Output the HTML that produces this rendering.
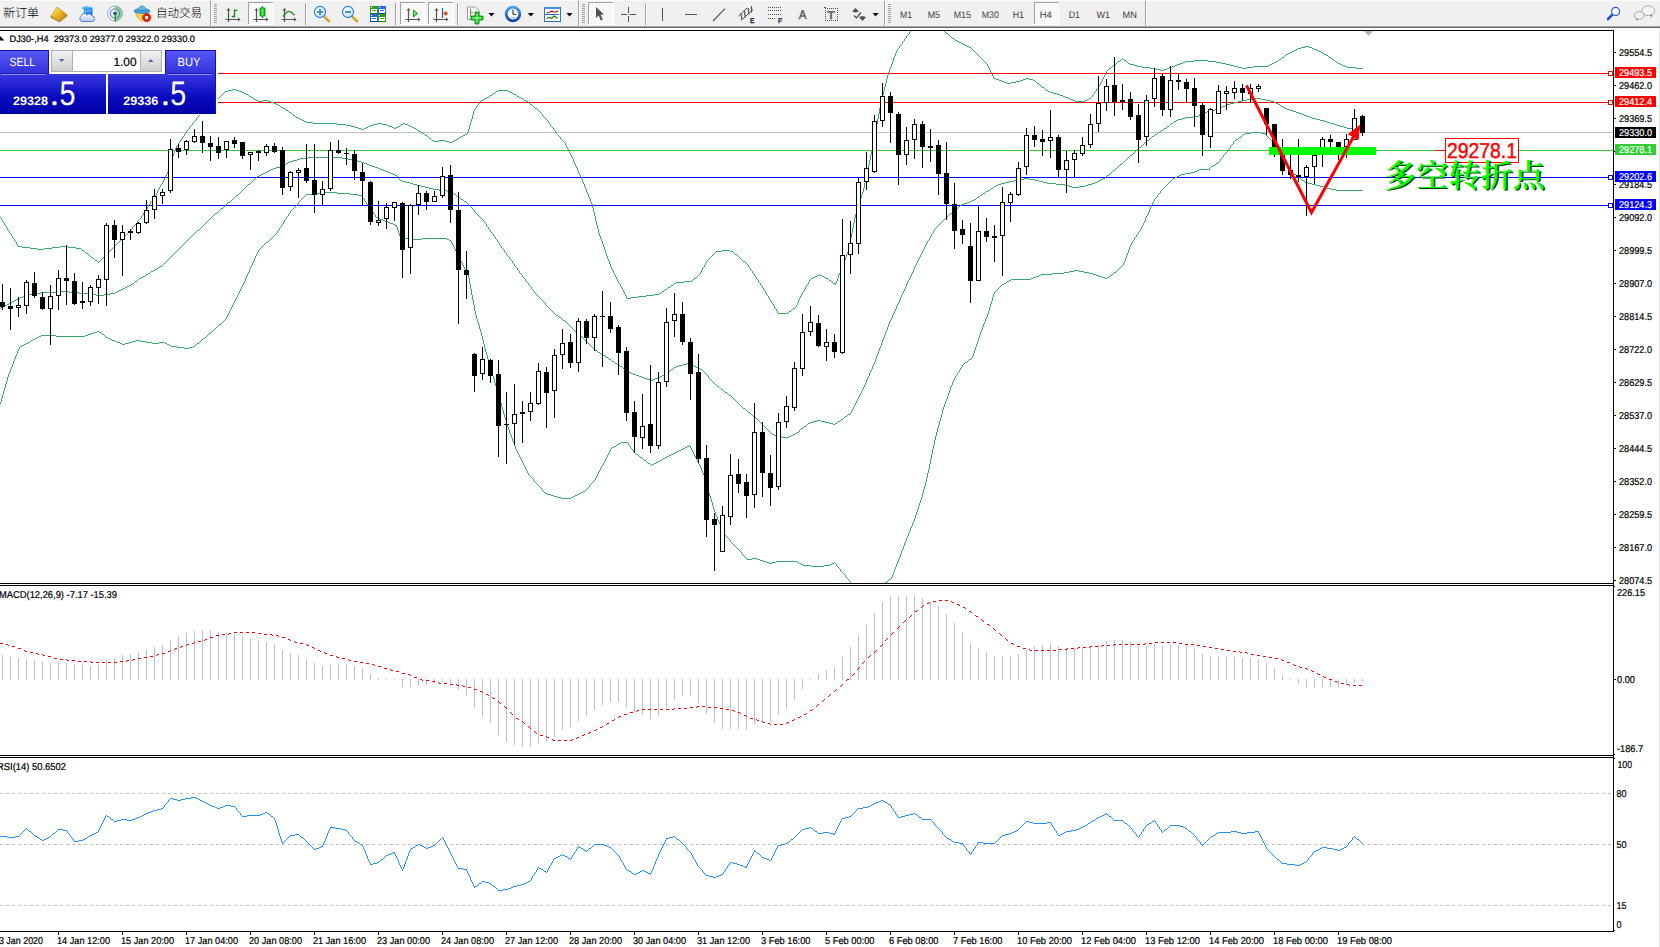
<!DOCTYPE html>
<html lang="zh"><head><meta charset="utf-8"><title>DJ30-,H4</title>
<style>html,body{margin:0;padding:0;background:#fff;overflow:hidden}svg{display:block}</style></head>
<body><svg width="1660" height="947" viewBox="0 0 1660 947" shape-rendering="crispEdges" font-family='"Liberation Sans", "Noto Sans CJK SC", sans-serif' text-rendering="geometricPrecision">
<rect x="0" y="0" width="1660" height="947" fill="#fff" />
<rect x="0" y="0" width="1660" height="26" fill="#f0f0f0" />
<rect x="0" y="0" width="1660" height="1" fill="#fbfbfb" />
<rect x="0" y="26" width="1660" height="1" fill="#a8a8a8" />
<rect x="0" y="27" width="1660" height="1" fill="#6a6a6a" />
<text x="3" y="16.8" font-size="12" fill="#000" font-weight="300" text-anchor="start" textLength="36" lengthAdjust="spacingAndGlyphs" font-family='"Liberation Sans", "Noto Sans CJK SC", sans-serif' >新订单</text>
<text x="156" y="16.8" font-size="12" fill="#000" font-weight="300" text-anchor="start" textLength="46" lengthAdjust="spacingAndGlyphs" font-family='"Liberation Sans", "Noto Sans CJK SC", sans-serif' >自动交易</text>
<g shape-rendering="auto">
<defs><linearGradient id="gold" x1="0" y1="0" x2="1" y2="1"><stop offset="0" stop-color="#fff0a0"/><stop offset="0.5" stop-color="#e8b820"/><stop offset="1" stop-color="#b07810"/></linearGradient><linearGradient id="bluebox" x1="0" y1="0" x2="0" y2="1"><stop offset="0" stop-color="#2f9bf0"/><stop offset="1" stop-color="#0868d0"/></linearGradient><linearGradient id="cloud" x1="0" y1="0" x2="0" y2="1"><stop offset="0" stop-color="#ffffff"/><stop offset="1" stop-color="#b8c8e8"/></linearGradient><radialGradient id="lens" cx="0.4" cy="0.35" r="0.7"><stop offset="0" stop-color="#ffffff"/><stop offset="1" stop-color="#b0e0f8"/></radialGradient><linearGradient id="clock" x1="0" y1="0" x2="0" y2="1"><stop offset="0" stop-color="#3aa0f0"/><stop offset="1" stop-color="#0840a8"/></linearGradient><linearGradient id="grn" x1="0" y1="0" x2="1" y2="0"><stop offset="0" stop-color="#00b000"/><stop offset="0.5" stop-color="#60f060"/><stop offset="1" stop-color="#00a000"/></linearGradient></defs>
<path d="M51 16 L59.5 20.5 L67 14.6 L67 16 L59.6 22 L51 17.4 Z" fill="#a87010" stroke="#8a5a08" stroke-width="0.5"/>
<path d="M57 7 L67 14.6 L59.5 20.5 L51 16 Z" fill="url(#gold)" stroke="#b88418" stroke-width="0.6"/>
<path d="M52.5 17.3 L59.6 21.2 L66 16" fill="none" stroke="#e8c868" stroke-width="0.5"/>
<path d="M81.3 8 L86.2 6.2 L92.5 7.6 L92.5 15.5 L83.8 15.5 L83.8 9 Z" fill="url(#bluebox)"/>
<path d="M81.3 8 L86.2 6.2 L92.5 7.6 L88 9 Z" fill="#58b8ff"/>
<path d="M85.2 9.6 L91.6 8.8 L91.6 14.5 L85.2 14.5 Z" fill="#1f86e8"/>
<path d="M86.5 11.3 L90.8 10.6 M85.2 9.6 L85.2 15" stroke="#c8e8ff" stroke-width="0.9" fill="none"/>
<path d="M82 21.5 A2.9 2.9 0 0 1 81.3 16.1 A3.2 3.2 0 0 1 87.2 14.9 A2.8 2.8 0 0 1 92 16 A2.8 2.8 0 0 1 92.6 21.5 Z" fill="url(#cloud)" stroke="#4878c8" stroke-width="0.9"/>
<circle cx="115" cy="13.5" r="7.5" fill="none" stroke="#90b0e8" stroke-width="1"/>
<path d="M115 6 A7.5 7.5 0 0 1 115 21 Z" fill="#70c070" opacity="0.75"/>
<circle cx="115" cy="13.5" r="4.6" fill="none" stroke="#5070d0" stroke-width="1"/>
<path d="M115 9 A4.6 4.6 0 0 1 115 18 Z" fill="#a8d8a8"/>
<circle cx="115" cy="13.5" r="1.8" fill="#1848c8"/>
<path d="M115.3 13.5 L115.3 21.5" stroke="#10a010" stroke-width="1.4"/>
<path d="M135 12 L149 12 L146 18 L141.5 21.5 L138 18 Z" fill="#f8d850" stroke="#c89820" stroke-width="0.7"/>
<ellipse cx="142" cy="11" rx="8" ry="2.6" fill="#48a0d8" stroke="#2878b0" stroke-width="0.6"/>
<path d="M138 10.5 Q138.5 6 142 6 Q145.5 6 146.5 10.5 Z" fill="#60b8e8" stroke="#2878b0" stroke-width="0.6"/>
<circle cx="146.7" cy="17.6" r="4.2" fill="#e02010" stroke="#b01008" stroke-width="0.5"/>
<rect x="145.2" y="16.1" width="3" height="3" fill="#fff"/>
</g>
<rect x="210" y="1" width="1" height="25" fill="#a0a0a0" />
<rect x="211" y="1" width="1" height="25" fill="#fff" />
<rect x="214" y="4" width="3" height="1" fill="#a0a0a0" />
<rect x="214" y="6" width="3" height="1" fill="#a0a0a0" />
<rect x="214" y="8" width="3" height="1" fill="#a0a0a0" />
<rect x="214" y="10" width="3" height="1" fill="#a0a0a0" />
<rect x="214" y="12" width="3" height="1" fill="#a0a0a0" />
<rect x="214" y="14" width="3" height="1" fill="#a0a0a0" />
<rect x="214" y="16" width="3" height="1" fill="#a0a0a0" />
<rect x="214" y="18" width="3" height="1" fill="#a0a0a0" />
<rect x="214" y="20" width="3" height="1" fill="#a0a0a0" />
<rect x="214" y="22" width="3" height="1" fill="#a0a0a0" />
<g shape-rendering="auto"><path d="M228.5 9 L228.5 22 M225.5 19.5 L239 19.5" stroke="#555555" stroke-width="1.2" fill="none"/><path d="M226.5 10.5 L228.5 8 L230.5 10.5 Z M238 17.5 L240.5 19.5 L238 21.5 Z" fill="#555555"/></g>
<path d="M234.5 9.5 L234.5 17.5 M234.5 10.3 L237.5 10.3 M231.8 16.5 L234.5 16.5" stroke="#109010" stroke-width="1.3" fill="none" shape-rendering="auto"/>
<rect x="248" y="2" width="26" height="23" fill="#f8f8f8" />
<rect x="248" y="2" width="26" height="1" fill="#a0a0a0" />
<rect x="248" y="2" width="1" height="23" fill="#a0a0a0" />
<rect x="248" y="24" width="26" height="1" fill="#fff" />
<rect x="273" y="2" width="1" height="23" fill="#fff" />
<g shape-rendering="auto"><path d="M256.5 9 L256.5 22 M253.5 19.5 L267 19.5" stroke="#555555" stroke-width="1.2" fill="none"/><path d="M254.5 10.5 L256.5 8 L258.5 10.5 Z M266 17.5 L268.5 19.5 L266 21.5 Z" fill="#555555"/></g>
<g shape-rendering="auto"><path d="M262.5 6 L262.5 18" stroke="#10a010" stroke-width="1.3"/><rect x="260" y="8" width="5" height="8" fill="url(#grn)" stroke="#089808" stroke-width="0.8"/></g>
<g shape-rendering="auto"><path d="M284.5 9 L284.5 22 M281.5 19.5 L295 19.5" stroke="#555555" stroke-width="1.2" fill="none"/><path d="M282.5 10.5 L284.5 8 L286.5 10.5 Z M294 17.5 L296.5 19.5 L294 21.5 Z" fill="#555555"/></g>
<path d="M283 16.5 Q287 11 289.5 11.3 Q291.5 11.8 294.5 15.2" stroke="#209020" stroke-width="1.3" fill="none" shape-rendering="auto"/>
<rect x="305" y="3" width="1" height="22" fill="#a0a0a0" />
<rect x="306" y="3" width="1" height="22" fill="#fff" />
<g shape-rendering="auto"><path d="M324 16 L329 21" stroke="#c89818" stroke-width="2.6" stroke-linecap="round"/><path d="M324.5 15.5 L329.5 20.5" stroke="#f0d860" stroke-width="1"/><circle cx="320" cy="12" r="5.6" fill="url(#lens)" stroke="#3a80d0" stroke-width="1.1"/><path d="M317 12 L323 12" stroke="#4088b8" stroke-width="1.8"/><path d="M320 9 L320 15" stroke="#4088b8" stroke-width="1.8"/></g>
<g shape-rendering="auto"><path d="M352 16 L357 21" stroke="#c89818" stroke-width="2.6" stroke-linecap="round"/><path d="M352.5 15.5 L357.5 20.5" stroke="#f0d860" stroke-width="1"/><circle cx="348" cy="12" r="5.6" fill="url(#lens)" stroke="#3a80d0" stroke-width="1.1"/><path d="M345 12 L351 12" stroke="#4088b8" stroke-width="1.8"/></g>
<rect x="370" y="6" width="8" height="8" fill="#30a018" />
<rect x="370" y="13" width="8" height="1" fill="#208808" />
<rect x="371" y="9" width="6" height="4" fill="#fff" />
<rect x="372" y="10" width="4" height="1" fill="#30a018" />
<rect x="371" y="7" width="1" height="1" fill="#fff" />
<rect x="378" y="6" width="8" height="8" fill="#2868e0" />
<rect x="378" y="13" width="8" height="1" fill="#1040b0" />
<rect x="379" y="9" width="6" height="4" fill="#fff" />
<rect x="380" y="10" width="4" height="1" fill="#2868e0" />
<rect x="379" y="7" width="1" height="1" fill="#fff" />
<rect x="370" y="14" width="8" height="8" fill="#2868e0" />
<rect x="370" y="21" width="8" height="1" fill="#1040b0" />
<rect x="371" y="17" width="6" height="4" fill="#fff" />
<rect x="372" y="18" width="4" height="1" fill="#2868e0" />
<rect x="371" y="15" width="1" height="1" fill="#fff" />
<rect x="378" y="14" width="8" height="8" fill="#30a018" />
<rect x="378" y="21" width="8" height="1" fill="#208808" />
<rect x="379" y="17" width="6" height="4" fill="#fff" />
<rect x="380" y="18" width="4" height="1" fill="#30a018" />
<rect x="379" y="15" width="1" height="1" fill="#fff" />
<rect x="395" y="3" width="1" height="22" fill="#a0a0a0" />
<rect x="396" y="3" width="1" height="22" fill="#fff" />
<rect x="400" y="2" width="26" height="23" fill="#f8f8f8" />
<rect x="400" y="2" width="26" height="1" fill="#a0a0a0" />
<rect x="400" y="2" width="1" height="23" fill="#a0a0a0" />
<rect x="400" y="24" width="26" height="1" fill="#fff" />
<rect x="425" y="2" width="1" height="23" fill="#fff" />
<g shape-rendering="auto"><path d="M408.5 9 L408.5 22 M405.5 19.5 L419 19.5" stroke="#555555" stroke-width="1.2" fill="none"/><path d="M406.5 10.5 L408.5 8 L410.5 10.5 Z M418 17.5 L420.5 19.5 L418 21.5 Z" fill="#555555"/></g>
<path d="M413.5 10 L417.5 13.5 L413.5 17 Z" fill="#70e070" stroke="#10a010" stroke-width="1" shape-rendering="auto"/>
<rect x="428" y="2" width="26" height="23" fill="#f8f8f8" />
<rect x="428" y="2" width="26" height="1" fill="#a0a0a0" />
<rect x="428" y="2" width="1" height="23" fill="#a0a0a0" />
<rect x="428" y="24" width="26" height="1" fill="#fff" />
<rect x="453" y="2" width="1" height="23" fill="#fff" />
<g shape-rendering="auto"><path d="M436.5 9 L436.5 22 M433.5 19.5 L447 19.5" stroke="#555555" stroke-width="1.2" fill="none"/><path d="M434.5 10.5 L436.5 8 L438.5 10.5 Z M446 17.5 L448.5 19.5 L446 21.5 Z" fill="#555555"/></g>
<g shape-rendering="auto"><path d="M442.5 8 L442.5 18" stroke="#1870b0" stroke-width="1.3"/><path d="M444 13.5 L448 13.5 M446.5 11.5 L444 13.5 L446.5 15.5" stroke="#e04800" stroke-width="1.2" fill="#e04800"/></g>
<rect x="457" y="3" width="1" height="22" fill="#a0a0a0" />
<rect x="458" y="3" width="1" height="22" fill="#fff" />
<g shape-rendering="auto"><path d="M467.5 7 L475.5 7 L479 10.5 L479 19.5 L467.5 19.5 Z" fill="#fafafa" stroke="#909090" stroke-width="0.9"/><path d="M470.5 9 L470.5 17 M470.5 12.5 L473 12.5" stroke="#806030" stroke-width="0.8" fill="none"/><path d="M475 12 L479 12 L479 16 L483 16 L483 20 L479 20 L479 24 L475 24 L475 20 L471 20 L471 16 L475 16 Z" fill="#18c018" stroke="#0a8a0a" stroke-width="0.8"/><path d="M477 13.5 L477 22.5 M472.5 18 L481.5 18" stroke="#90f090" stroke-width="1.4" fill="none"/></g>
<path d="M488.5 13 L494.5 13 L491.5 16.5 Z" fill="#000" shape-rendering="auto"/>
<g shape-rendering="auto"><circle cx="513" cy="14" r="6.8" fill="#fdfdfd" stroke="url(#clock)" stroke-width="2.8"/><circle cx="513" cy="14" r="5" fill="none" stroke="#c8d8e8" stroke-width="0.6" stroke-dasharray="0.8,1.8"/><path d="M513 9.5 L513 14 L516 14.8" stroke="#303030" stroke-width="1.1" fill="none"/><path d="M511 17.5 L515 17.5" stroke="#60a0f0" stroke-width="0.8"/></g>
<path d="M527.8 13 L533.8 13 L530.8 16.5 Z" fill="#000" shape-rendering="auto"/>
<rect x="544" y="7" width="16" height="14" fill="#fff" stroke="#3070c0" stroke-width="1"/>
<rect x="544" y="7" width="16" height="2" fill="#4890e0" />
<rect x="545" y="14" width="14" height="1" fill="#3070c0" />
<g shape-rendering="auto"><path d="M546.5 13 L549 12.5 L551.5 11.2 L554 12 L556 11.8 L558 11" stroke="#a02000" stroke-width="1.2" fill="none"/><path d="M546.5 18.5 L549 17.5 L551.5 18.3 L554.5 16 L557.5 18.5" stroke="#108020" stroke-width="1.2" fill="none"/></g>
<path d="M566.5 13 L572.5 13 L569.5 16.5 Z" fill="#000" shape-rendering="auto"/>
<rect x="578" y="1" width="1" height="25" fill="#a0a0a0" />
<rect x="579" y="1" width="1" height="25" fill="#fff" />
<rect x="582" y="4" width="3" height="1" fill="#a0a0a0" />
<rect x="582" y="6" width="3" height="1" fill="#a0a0a0" />
<rect x="582" y="8" width="3" height="1" fill="#a0a0a0" />
<rect x="582" y="10" width="3" height="1" fill="#a0a0a0" />
<rect x="582" y="12" width="3" height="1" fill="#a0a0a0" />
<rect x="582" y="14" width="3" height="1" fill="#a0a0a0" />
<rect x="582" y="16" width="3" height="1" fill="#a0a0a0" />
<rect x="582" y="18" width="3" height="1" fill="#a0a0a0" />
<rect x="582" y="20" width="3" height="1" fill="#a0a0a0" />
<rect x="582" y="22" width="3" height="1" fill="#a0a0a0" />
<rect x="588" y="2" width="26" height="23" fill="#f8f8f8" />
<rect x="588" y="2" width="26" height="1" fill="#a0a0a0" />
<rect x="588" y="2" width="1" height="23" fill="#a0a0a0" />
<rect x="588" y="24" width="26" height="1" fill="#fff" />
<rect x="613" y="2" width="1" height="23" fill="#fff" />
<path d="M596 7 L596 18 L598.7 15.6 L600.8 20.5 L602.8 19.6 L600.6 14.8 L604 14.6 Z" fill="#505050" shape-rendering="auto"/>
<rect x="628" y="7" width="1" height="6" fill="#505050" />
<rect x="628" y="16" width="1" height="6" fill="#505050" />
<rect x="621" y="14" width="6" height="1" fill="#505050" />
<rect x="630" y="14" width="6" height="1" fill="#505050" />
<rect x="628" y="14" width="1" height="1" fill="#909090" />
<rect x="645" y="3" width="1" height="22" fill="#a0a0a0" />
<rect x="646" y="3" width="1" height="22" fill="#fff" />
<rect x="662" y="8" width="1" height="13" fill="#505050" />
<rect x="685" y="14" width="12" height="1" fill="#505050" />
<path d="M713 21 L725 8.7" stroke="#505050" stroke-width="1.1" shape-rendering="auto"/>
<g shape-rendering="auto" stroke="#505050" fill="none"><path d="M738.5 16 L747 8 M741 20.5 L753 9.5" stroke-width="1"/><path d="M741 13.5 L741.8 19.5 M744.5 11 L745.3 17.5 M748 8 L749 14.5 M751.5 6 L751.5 12.5" stroke-width="1.2"/></g>
<text x="750" y="22.6" font-size="6.6" fill="#202020" font-weight="normal" text-anchor="start" textLength="4.3" lengthAdjust="spacingAndGlyphs" stroke="#202020" stroke-width="0.35">E</text>
<rect x="768" y="7" width="1" height="1" fill="#505050" />
<rect x="770" y="7" width="1" height="1" fill="#505050" />
<rect x="772" y="7" width="1" height="1" fill="#505050" />
<rect x="774" y="7" width="1" height="1" fill="#505050" />
<rect x="776" y="7" width="1" height="1" fill="#505050" />
<rect x="778" y="7" width="1" height="1" fill="#505050" />
<rect x="780" y="7" width="1" height="1" fill="#505050" />
<rect x="768" y="10" width="1" height="1" fill="#505050" />
<rect x="770" y="10" width="1" height="1" fill="#505050" />
<rect x="772" y="10" width="1" height="1" fill="#505050" />
<rect x="774" y="10" width="1" height="1" fill="#505050" />
<rect x="776" y="10" width="1" height="1" fill="#505050" />
<rect x="778" y="10" width="1" height="1" fill="#505050" />
<rect x="780" y="10" width="1" height="1" fill="#505050" />
<rect x="768" y="14" width="1" height="1" fill="#505050" />
<rect x="770" y="14" width="1" height="1" fill="#505050" />
<rect x="772" y="14" width="1" height="1" fill="#505050" />
<rect x="774" y="14" width="1" height="1" fill="#505050" />
<rect x="776" y="14" width="1" height="1" fill="#505050" />
<rect x="778" y="14" width="1" height="1" fill="#505050" />
<rect x="780" y="14" width="1" height="1" fill="#505050" />
<rect x="768" y="18" width="1" height="1" fill="#505050" />
<rect x="770" y="18" width="1" height="1" fill="#505050" />
<rect x="772" y="18" width="1" height="1" fill="#505050" />
<rect x="774" y="18" width="1" height="1" fill="#505050" />
<text x="778" y="22.6" font-size="6.6" fill="#202020" font-weight="normal" text-anchor="start" textLength="4.3" lengthAdjust="spacingAndGlyphs" stroke="#202020" stroke-width="0.35">F</text>
<text x="798.8" y="19" font-size="12.6" fill="#606060" font-weight="normal" text-anchor="start" textLength="7.8" lengthAdjust="spacingAndGlyphs" stroke="#606060" stroke-width="0.5">A</text>
<rect x="825" y="8" width="1" height="1" fill="#505050" />
<rect x="825" y="20" width="1" height="1" fill="#505050" />
<rect x="827" y="8" width="1" height="1" fill="#505050" />
<rect x="827" y="20" width="1" height="1" fill="#505050" />
<rect x="829" y="8" width="1" height="1" fill="#505050" />
<rect x="829" y="20" width="1" height="1" fill="#505050" />
<rect x="831" y="8" width="1" height="1" fill="#505050" />
<rect x="831" y="20" width="1" height="1" fill="#505050" />
<rect x="833" y="8" width="1" height="1" fill="#505050" />
<rect x="833" y="20" width="1" height="1" fill="#505050" />
<rect x="835" y="8" width="1" height="1" fill="#505050" />
<rect x="835" y="20" width="1" height="1" fill="#505050" />
<rect x="837" y="8" width="1" height="1" fill="#505050" />
<rect x="837" y="20" width="1" height="1" fill="#505050" />
<rect x="825" y="8" width="1" height="1" fill="#505050" />
<rect x="837" y="8" width="1" height="1" fill="#505050" />
<rect x="825" y="10" width="1" height="1" fill="#505050" />
<rect x="837" y="10" width="1" height="1" fill="#505050" />
<rect x="825" y="12" width="1" height="1" fill="#505050" />
<rect x="837" y="12" width="1" height="1" fill="#505050" />
<rect x="825" y="14" width="1" height="1" fill="#505050" />
<rect x="837" y="14" width="1" height="1" fill="#505050" />
<rect x="825" y="16" width="1" height="1" fill="#505050" />
<rect x="837" y="16" width="1" height="1" fill="#505050" />
<rect x="825" y="18" width="1" height="1" fill="#505050" />
<rect x="837" y="18" width="1" height="1" fill="#505050" />
<rect x="825" y="20" width="1" height="1" fill="#505050" />
<rect x="837" y="20" width="1" height="1" fill="#505050" />
<rect x="824" y="7" width="2" height="1" fill="#505050" />
<text x="827" y="19" font-size="11.2" fill="#606060" font-weight="normal" text-anchor="start" textLength="8" lengthAdjust="spacingAndGlyphs" stroke="#606060" stroke-width="0.5">T</text>
<g shape-rendering="auto" fill="#505050"><path d="M852 11.5 L855.5 8 L859 11.5 L855.5 12.5 Z"/><path d="M859 17 L862.5 21 L866 17 L862.5 16 Z"/><path d="M854 15.5 L856.5 17.8 L861 12.5" stroke="#505050" stroke-width="1.3" fill="none"/></g>
<path d="M872.6 13 L878.6 13 L875.6 16.5 Z" fill="#000" shape-rendering="auto"/>
<rect x="884" y="1" width="1" height="25" fill="#a0a0a0" />
<rect x="885" y="1" width="1" height="25" fill="#fff" />
<rect x="888" y="4" width="3" height="1" fill="#a0a0a0" />
<rect x="888" y="6" width="3" height="1" fill="#a0a0a0" />
<rect x="888" y="8" width="3" height="1" fill="#a0a0a0" />
<rect x="888" y="10" width="3" height="1" fill="#a0a0a0" />
<rect x="888" y="12" width="3" height="1" fill="#a0a0a0" />
<rect x="888" y="14" width="3" height="1" fill="#a0a0a0" />
<rect x="888" y="16" width="3" height="1" fill="#a0a0a0" />
<rect x="888" y="18" width="3" height="1" fill="#a0a0a0" />
<rect x="888" y="20" width="3" height="1" fill="#a0a0a0" />
<rect x="888" y="22" width="3" height="1" fill="#a0a0a0" />
<rect x="1034" y="2" width="26" height="23" fill="#f8f8f8" />
<rect x="1034" y="2" width="26" height="1" fill="#a0a0a0" />
<rect x="1034" y="2" width="1" height="23" fill="#a0a0a0" />
<rect x="1034" y="24" width="26" height="1" fill="#fff" />
<rect x="1059" y="2" width="1" height="23" fill="#fff" />
<text x="900" y="17.5" font-size="9.6" fill="#404040" font-weight="normal" text-anchor="start" textLength="12.2" lengthAdjust="spacingAndGlyphs" >M1</text>
<text x="927.7" y="17.5" font-size="9.6" fill="#404040" font-weight="normal" text-anchor="start" textLength="12.3" lengthAdjust="spacingAndGlyphs" >M5</text>
<text x="953.7" y="17.5" font-size="9.6" fill="#404040" font-weight="normal" text-anchor="start" textLength="17.3" lengthAdjust="spacingAndGlyphs" >M15</text>
<text x="981.7" y="17.5" font-size="9.6" fill="#404040" font-weight="normal" text-anchor="start" textLength="17.3" lengthAdjust="spacingAndGlyphs" >M30</text>
<text x="1012.7" y="17.5" font-size="9.6" fill="#404040" font-weight="normal" text-anchor="start" textLength="11.3" lengthAdjust="spacingAndGlyphs" >H1</text>
<text x="1039.7" y="17.5" font-size="9.6" fill="#404040" font-weight="normal" text-anchor="start" textLength="12.1" lengthAdjust="spacingAndGlyphs" >H4</text>
<text x="1068.7" y="17.5" font-size="9.6" fill="#404040" font-weight="normal" text-anchor="start" textLength="11.3" lengthAdjust="spacingAndGlyphs" >D1</text>
<text x="1096.5" y="17.5" font-size="9.6" fill="#404040" font-weight="normal" text-anchor="start" textLength="13.5" lengthAdjust="spacingAndGlyphs" >W1</text>
<text x="1122.6" y="17.5" font-size="9.6" fill="#404040" font-weight="normal" text-anchor="start" textLength="14.4" lengthAdjust="spacingAndGlyphs" >MN</text>
<rect x="1145" y="1" width="1" height="25" fill="#a0a0a0" />
<rect x="1146" y="1" width="1" height="25" fill="#fff" />
<g shape-rendering="auto"><path d="M1612.7 14.3 L1608 19" stroke="#2050d0" stroke-width="2.6" stroke-linecap="round"/><circle cx="1615.6" cy="11.4" r="4" fill="#fafafa" stroke="#2858e0" stroke-width="1.2"/></g>
<g shape-rendering="auto"><ellipse cx="1648.3" cy="10.8" rx="6.4" ry="4.8" fill="#f4f4f8" stroke="#a0a0a0" stroke-width="0.9"/><path d="M1650 15 L1651.5 17.8 L1652.5 14.6 Z" fill="#808080"/><ellipse cx="1639.2" cy="15.4" rx="5" ry="3.9" fill="#f0f0f6" stroke="#a0a0a0" stroke-width="0.9"/><path d="M1636 18.5 L1636.3 21 L1638.6 19 Z" fill="#909090"/></g>
<rect x="218" y="73" width="1395" height="1" fill="#ff0000" />
<rect x="218" y="102" width="1395" height="1" fill="#ff0000" />
<rect x="0" y="132" width="1613" height="1" fill="#c0c0c0" />
<rect x="0" y="150" width="1613" height="1" fill="#32cd32" />
<rect x="0" y="177" width="1613" height="1" fill="#0000ff" />
<rect x="0" y="205" width="1613" height="1" fill="#0000ff" />
<defs><clipPath id="cmain"><rect x="0" y="31" width="1613" height="552"/></clipPath><clipPath id="cmacd"><rect x="0" y="586" width="1613" height="169"/></clipPath><clipPath id="crsi"><rect x="0" y="758" width="1613" height="173"/></clipPath></defs>
<path d="M232 89h4v1h-4zM228 90h4v1h-4zM236 90h3v1h-3zM498 90h10v1h-10zM225 91h3v1h-3zM239 91h3v1h-3zM496 91h2v1h-2zM508 91h2v1h-2zM242 92h2v1h-2zM510 92h2v1h-2zM244 93h2v1h-2zM493 93h2v1h-2zM512 93h2v1h-2zM246 94h2v1h-2zM514 94h2v1h-2zM490 95h2v1h-2zM249 96h2v1h-2zM517 96h2v1h-2zM251 97h2v1h-2zM487 97h2v1h-2zM519 97h2v1h-2zM485 98h2v1h-2zM521 98h2v1h-2zM216 99h2v1h-2zM254 99h2v1h-2zM483 99h2v1h-2zM214 100h2v1h-2zM256 100h2v1h-2zM263 100h5v1h-5zM481 100h2v1h-2zM524 100h2v1h-2zM212 101h2v1h-2zM258 101h5v1h-5zM268 101h3v1h-3zM526 101h2v1h-2zM271 102h3v1h-3zM274 103h2v1h-2zM276 104h2v1h-2zM530 104h2v1h-2zM278 105h2v1h-2zM281 107h2v1h-2zM283 108h2v1h-2zM535 108h2v1h-2zM286 110h2v1h-2zM289 112h2v1h-2zM293 115h2v1h-2zM296 117h2v1h-2zM298 118h2v1h-2zM300 119h2v1h-2zM302 120h2v1h-2zM304 121h2v1h-2zM306 122h7v1h-7zM313 123h24v1h-24zM377 123h5v1h-5zM403 123h2v1h-2zM337 124h9v1h-9zM373 124h4v1h-4zM382 124h5v1h-5zM401 124h2v1h-2zM405 124h3v1h-3zM346 125h5v1h-5zM370 125h3v1h-3zM387 125h2v1h-2zM408 125h2v1h-2zM351 126h4v1h-4zM368 126h2v1h-2zM389 126h3v1h-3zM398 126h2v1h-2zM410 126h2v1h-2zM355 127h3v1h-3zM366 127h2v1h-2zM392 127h2v1h-2zM396 127h2v1h-2zM412 127h2v1h-2zM358 128h3v1h-3zM364 128h2v1h-2zM394 128h2v1h-2zM414 128h2v1h-2zM361 129h3v1h-3zM417 130h2v1h-2zM419 131h2v1h-2zM422 133h2v1h-2zM465 134h2v1h-2zM425 135h2v1h-2zM463 135h2v1h-2zM461 136h2v1h-2zM459 137h2v1h-2zM429 138h2v1h-2zM456 139h2v1h-2zM432 140h2v1h-2zM439 140h6v1h-6zM454 140h2v1h-2zM434 141h5v1h-5zM445 141h4v1h-4zM452 141h2v1h-2zM449 142h3v1h-3zM18 246h4v1h-4zM60 246h8v1h-8zM22 247h8v1h-8zM52 247h8v1h-8zM68 247h8v1h-8zM30 248h7v1h-7zM44 248h8v1h-8zM76 248h5v1h-5zM37 249h7v1h-7zM82 250h2v1h-2zM722 250h8v1h-8zM716 251h6v1h-6zM730 251h3v1h-3zM86 253h2v1h-2zM735 254h2v1h-2zM91 257h2v1h-2zM95 260h2v1h-2zM743 261h2v1h-2zM817 275h2v1h-2zM820 275h2v1h-2zM815 276h2v1h-2zM822 276h2v1h-2zM813 277h2v1h-2zM824 277h2v1h-2zM694 278h2v1h-2zM811 278h2v1h-2zM826 278h2v1h-2zM829 280h2v1h-2zM684 281h8v1h-8zM676 282h8v1h-8zM674 283h2v1h-2zM833 283h3v1h-3zM671 285h2v1h-2zM668 287h2v1h-2zM665 289h2v1h-2zM662 291h2v1h-2zM659 293h2v1h-2zM654 294h5v1h-5zM646 295h8v1h-8zM638 296h8v1h-8zM631 297h7v1h-7zM627 298h4v1h-4zM793 308h2v1h-2zM789 311h2v1h-2zM778 313h10v1h-10zM0 217h1v1h-1zM1 218h1v2h-1zM2 220h1v2h-1zM3 222h1v1h-1zM4 223h1v2h-1zM5 225h1v1h-1zM6 226h1v2h-1zM7 228h1v2h-1zM8 230h1v1h-1zM9 231h1v2h-1zM10 233h1v1h-1zM11 234h1v2h-1zM12 236h1v2h-1zM13 238h1v1h-1zM14 239h1v2h-1zM15 241h1v1h-1zM16 242h1v2h-1zM17 244h1v2h-1zM81 249h1v1h-1zM84 251h1v1h-1zM85 252h1v1h-1zM88 254h1v1h-1zM89 255h1v1h-1zM90 256h1v1h-1zM93 258h1v1h-1zM94 259h1v1h-1zM97 261h1v1h-1zM98 262h1v1h-1zM99 261h1v1h-1zM100 260h1v1h-1zM101 259h1v1h-1zM102 258h1v1h-1zM103 257h1v1h-1zM104 256h1v1h-1zM105 255h1v1h-1zM106 254h1v1h-1zM107 253h1v1h-1zM108 252h1v1h-1zM109 251h1v1h-1zM110 250h1v1h-1zM111 249h1v1h-1zM112 248h1v1h-1zM113 247h1v1h-1zM114 246h1v1h-1zM115 245h1v1h-1zM116 244h1v1h-1zM117 243h1v1h-1zM118 242h1v1h-1zM119 241h1v1h-1zM120 240h1v1h-1zM121 239h1v1h-1zM122 238h1v1h-1zM123 237h1v1h-1zM124 236h1v1h-1zM125 235h1v1h-1zM126 234h1v1h-1zM127 233h1v1h-1zM128 232h1v1h-1zM129 231h1v1h-1zM130 230h1v1h-1zM131 229h1v1h-1zM132 227h1v2h-1zM133 226h1v1h-1zM134 225h1v1h-1zM135 224h1v1h-1zM136 223h1v1h-1zM137 221h1v2h-1zM138 220h1v1h-1zM139 219h1v1h-1zM140 218h1v1h-1zM141 216h1v2h-1zM142 215h1v1h-1zM143 213h1v2h-1zM144 212h1v1h-1zM145 210h1v2h-1zM146 209h1v1h-1zM147 207h1v2h-1zM148 205h1v2h-1zM149 204h1v1h-1zM150 202h1v2h-1zM151 201h1v1h-1zM152 199h1v2h-1zM153 198h1v1h-1zM154 196h1v2h-1zM155 195h1v1h-1zM156 193h1v2h-1zM157 191h1v2h-1zM158 189h1v2h-1zM159 187h1v2h-1zM160 185h1v2h-1zM161 184h1v1h-1zM162 182h1v2h-1zM163 180h1v2h-1zM164 178h1v2h-1zM165 176h1v2h-1zM166 174h1v2h-1zM167 172h1v2h-1zM168 169h1v3h-1zM169 166h1v3h-1zM170 163h1v3h-1zM171 159h1v4h-1zM172 156h1v3h-1zM173 153h1v3h-1zM174 150h1v3h-1zM175 148h1v2h-1zM176 146h1v2h-1zM177 145h1v1h-1zM178 143h1v2h-1zM179 142h1v1h-1zM180 140h1v2h-1zM181 139h1v1h-1zM182 137h1v2h-1zM183 136h1v1h-1zM184 134h1v2h-1zM185 133h1v1h-1zM186 131h1v2h-1zM187 130h1v1h-1zM188 129h1v1h-1zM189 127h1v2h-1zM190 126h1v1h-1zM191 125h1v1h-1zM192 123h1v2h-1zM193 122h1v1h-1zM194 121h1v1h-1zM195 120h1v1h-1zM196 118h1v2h-1zM197 117h1v1h-1zM198 116h1v1h-1zM199 115h1v1h-1zM200 114h1v1h-1zM201 112h1v2h-1zM202 111h1v1h-1zM203 110h1v1h-1zM204 109h1v1h-1zM205 108h1v1h-1zM206 107h1v1h-1zM207 106h1v1h-1zM208 105h1v1h-1zM209 104h1v1h-1zM210 103h1v1h-1zM211 102h1v1h-1zM218 98h1v1h-1zM219 97h1v1h-1zM220 96h1v1h-1zM221 95h1v1h-1zM222 94h1v1h-1zM223 93h1v1h-1zM224 92h1v1h-1zM248 95h1v1h-1zM253 98h1v1h-1zM280 106h1v1h-1zM285 109h1v1h-1zM288 111h1v1h-1zM291 113h1v1h-1zM292 114h1v1h-1zM295 116h1v1h-1zM400 125h1v1h-1zM416 129h1v1h-1zM421 132h1v1h-1zM424 134h1v1h-1zM427 136h1v1h-1zM428 137h1v1h-1zM431 139h1v1h-1zM458 138h1v1h-1zM467 132h1v2h-1zM468 129h1v3h-1zM469 125h1v4h-1zM470 122h1v3h-1zM471 119h1v3h-1zM472 115h1v4h-1zM473 111h1v4h-1zM474 109h1v2h-1zM475 108h1v1h-1zM476 106h1v2h-1zM477 105h1v1h-1zM478 104h1v1h-1zM479 102h1v2h-1zM480 101h1v1h-1zM489 96h1v1h-1zM492 94h1v1h-1zM495 92h1v1h-1zM516 95h1v1h-1zM523 99h1v1h-1zM528 102h1v1h-1zM529 103h1v1h-1zM532 105h1v1h-1zM533 106h1v1h-1zM534 107h1v1h-1zM537 109h1v1h-1zM538 110h1v1h-1zM539 111h1v1h-1zM540 112h1v1h-1zM541 113h1v1h-1zM542 114h1v2h-1zM543 116h1v1h-1zM544 117h1v1h-1zM545 118h1v1h-1zM546 119h1v1h-1zM547 120h1v1h-1zM548 121h1v2h-1zM549 123h1v1h-1zM550 124h1v2h-1zM551 126h1v1h-1zM552 127h1v1h-1zM553 128h1v2h-1zM554 130h1v1h-1zM555 131h1v2h-1zM556 133h1v1h-1zM557 134h1v1h-1zM558 135h1v1h-1zM559 136h1v1h-1zM560 137h1v2h-1zM561 139h1v1h-1zM562 140h1v1h-1zM563 141h1v1h-1zM564 142h1v1h-1zM565 143h1v2h-1zM566 145h1v2h-1zM567 147h1v2h-1zM568 149h1v2h-1zM569 151h1v2h-1zM570 153h1v2h-1zM571 155h1v2h-1zM572 157h1v2h-1zM573 159h1v3h-1zM574 162h1v2h-1zM575 164h1v2h-1zM576 166h1v2h-1zM577 168h1v3h-1zM578 171h1v2h-1zM579 173h1v2h-1zM580 175h1v2h-1zM581 177h1v2h-1zM582 179h1v3h-1zM583 182h1v2h-1zM584 184h1v3h-1zM585 187h1v2h-1zM586 189h1v3h-1zM587 192h1v2h-1zM588 194h1v3h-1zM589 197h1v2h-1zM590 199h1v3h-1zM591 202h1v2h-1zM592 204h1v4h-1zM593 208h1v4h-1zM594 212h1v4h-1zM595 216h1v5h-1zM596 221h1v4h-1zM597 225h1v4h-1zM598 229h1v4h-1zM599 233h1v3h-1zM600 236h1v3h-1zM601 239h1v2h-1zM602 241h1v3h-1zM603 244h1v3h-1zM604 247h1v3h-1zM605 250h1v3h-1zM606 253h1v3h-1zM607 256h1v3h-1zM608 259h1v2h-1zM609 261h1v3h-1zM610 264h1v3h-1zM611 267h1v2h-1zM612 269h1v2h-1zM613 271h1v2h-1zM614 273h1v2h-1zM615 275h1v2h-1zM616 277h1v2h-1zM617 279h1v2h-1zM618 281h1v2h-1zM619 283h1v1h-1zM620 284h1v2h-1zM621 286h1v2h-1zM622 288h1v2h-1zM623 290h1v2h-1zM624 292h1v2h-1zM625 294h1v2h-1zM626 296h1v2h-1zM661 292h1v1h-1zM664 290h1v1h-1zM667 288h1v1h-1zM670 286h1v1h-1zM673 284h1v1h-1zM692 280h1v1h-1zM693 279h1v1h-1zM696 277h1v1h-1zM697 276h1v1h-1zM698 275h1v1h-1zM699 274h1v1h-1zM700 272h1v2h-1zM701 270h1v2h-1zM702 268h1v2h-1zM703 267h1v1h-1zM704 265h1v2h-1zM705 263h1v2h-1zM706 261h1v2h-1zM707 260h1v1h-1zM708 259h1v1h-1zM709 258h1v1h-1zM710 257h1v1h-1zM711 256h1v1h-1zM712 255h1v1h-1zM713 254h1v1h-1zM714 253h1v1h-1zM715 252h1v1h-1zM733 252h1v1h-1zM734 253h1v1h-1zM737 255h1v1h-1zM738 256h1v1h-1zM739 257h1v1h-1zM740 258h1v1h-1zM741 259h1v1h-1zM742 260h1v1h-1zM745 262h1v1h-1zM746 263h1v1h-1zM747 264h1v1h-1zM748 265h1v2h-1zM749 267h1v1h-1zM750 268h1v2h-1zM751 270h1v1h-1zM752 271h1v2h-1zM753 273h1v1h-1zM754 274h1v2h-1zM755 276h1v1h-1zM756 277h1v2h-1zM757 279h1v1h-1zM758 280h1v2h-1zM759 282h1v1h-1zM760 283h1v2h-1zM761 285h1v1h-1zM762 286h1v2h-1zM763 288h1v2h-1zM764 290h1v1h-1zM765 291h1v2h-1zM766 293h1v2h-1zM767 295h1v1h-1zM768 296h1v2h-1zM769 298h1v2h-1zM770 300h1v1h-1zM771 301h1v2h-1zM772 303h1v1h-1zM773 304h1v2h-1zM774 306h1v2h-1zM775 308h1v1h-1zM776 309h1v2h-1zM777 311h1v2h-1zM788 312h1v1h-1zM791 310h1v1h-1zM792 309h1v1h-1zM795 307h1v1h-1zM796 305h1v2h-1zM797 303h1v2h-1zM798 300h1v3h-1zM799 298h1v2h-1zM800 296h1v2h-1zM801 294h1v2h-1zM802 292h1v2h-1zM803 291h1v1h-1zM804 289h1v2h-1zM805 287h1v2h-1zM806 285h1v2h-1zM807 284h1v1h-1zM808 282h1v2h-1zM809 280h1v2h-1zM810 279h1v1h-1zM819 274h1v1h-1zM828 279h1v1h-1zM831 281h1v1h-1zM832 282h1v1h-1zM835 284h1v1h-1zM836 281h1v2h-1zM837 278h1v3h-1zM838 275h1v3h-1zM839 273h1v2h-1zM840 270h1v3h-1zM841 268h1v2h-1zM842 265h1v3h-1zM843 262h1v3h-1zM844 260h1v2h-1zM845 257h1v3h-1zM846 254h1v3h-1zM847 252h1v2h-1zM848 248h1v4h-1zM849 243h1v5h-1zM850 238h1v5h-1zM851 233h1v5h-1zM852 228h1v5h-1zM853 223h1v5h-1zM854 218h1v5h-1zM855 214h1v4h-1zM856 211h1v3h-1zM857 208h1v3h-1zM858 205h1v3h-1zM859 201h1v4h-1zM860 198h1v3h-1zM861 195h1v3h-1zM862 192h1v3h-1zM863 188h1v4h-1zM864 183h1v5h-1zM865 179h1v4h-1zM866 174h1v5h-1zM867 169h1v5h-1zM868 165h1v4h-1zM869 160h1v5h-1zM870 155h1v5h-1zM871 151h1v4h-1zM872 146h1v5h-1zM873 141h1v5h-1zM874 135h1v6h-1zM875 130h1v5h-1zM876 124h1v6h-1zM877 119h1v5h-1zM878 114h1v5h-1zM879 108h1v6h-1zM880 103h1v5h-1zM881 99h1v4h-1zM882 95h1v4h-1zM883 91h1v4h-1zM884 87h1v4h-1zM885 83h1v4h-1zM886 79h1v4h-1zM887 75h1v4h-1zM888 72h1v3h-1zM889 69h1v3h-1zM890 67h1v2h-1zM891 64h1v3h-1zM892 61h1v3h-1zM893 58h1v3h-1zM894 56h1v2h-1zM895 53h1v3h-1zM896 51h1v2h-1zM897 49h1v2h-1zM898 48h1v1h-1zM899 46h1v2h-1zM900 45h1v1h-1zM901 44h1v1h-1zM902 42h1v2h-1zM903 41h1v1h-1zM904 39h1v2h-1zM905 38h1v1h-1zM906 36h1v2h-1zM907 35h1v1h-1zM908 34h1v1h-1zM909 32h1v2h-1zM910 31h1v1h-1z" fill="#38a869"/>
<path d="M946 33h2v1h-2zM952 38h2v1h-2zM955 40h2v1h-2zM957 41h2v1h-2zM959 42h2v1h-2zM961 43h2v1h-2zM963 44h2v1h-2zM965 45h2v1h-2zM967 46h2v1h-2zM1305 46h4v1h-4zM969 47h2v1h-2zM1301 47h4v1h-4zM1309 47h3v1h-3zM1298 48h3v1h-3zM1312 48h2v1h-2zM1296 49h2v1h-2zM1314 49h3v1h-3zM1294 50h2v1h-2zM1317 50h2v1h-2zM1292 51h2v1h-2zM1319 51h2v1h-2zM1290 52h2v1h-2zM1321 52h2v1h-2zM1288 53h2v1h-2zM1286 54h2v1h-2zM1324 54h2v1h-2zM1326 55h2v1h-2zM1282 57h2v1h-2zM1329 57h2v1h-2zM1279 59h2v1h-2zM1332 59h2v1h-2zM1124 60h2v1h-2zM1194 60h14v1h-14zM1118 61h2v1h-2zM1185 61h9v1h-9zM1208 61h8v1h-8zM1276 61h2v1h-2zM1183 62h2v1h-2zM1216 62h5v1h-5zM1274 62h2v1h-2zM1336 62h2v1h-2zM1128 63h2v1h-2zM1180 63h3v1h-3zM1221 63h5v1h-5zM1272 63h2v1h-2zM1338 63h2v1h-2zM1130 64h4v1h-4zM1177 64h3v1h-3zM1226 64h4v1h-4zM1270 64h2v1h-2zM1340 64h2v1h-2zM1113 65h2v1h-2zM1134 65h3v1h-3zM1175 65h2v1h-2zM1230 65h4v1h-4zM1268 65h2v1h-2zM1342 65h3v1h-3zM1137 66h5v1h-5zM1172 66h3v1h-3zM1234 66h4v1h-4zM1253 66h15v1h-15zM1345 66h2v1h-2zM1142 67h8v1h-8zM1169 67h3v1h-3zM1238 67h4v1h-4zM1247 67h6v1h-6zM1347 67h9v1h-9zM1109 68h2v1h-2zM1150 68h6v1h-6zM1167 68h2v1h-2zM1242 68h5v1h-5zM1356 68h7v1h-7zM1156 69h4v1h-4zM1164 69h3v1h-3zM1160 70h4v1h-4zM994 78h2v1h-2zM1026 78h3v1h-3zM996 79h3v1h-3zM1023 79h3v1h-3zM1029 79h4v1h-4zM999 80h3v1h-3zM1020 80h3v1h-3zM1033 80h2v1h-2zM1002 81h2v1h-2zM1016 81h4v1h-4zM1004 82h3v1h-3zM1011 82h5v1h-5zM1007 83h4v1h-4zM1037 83h2v1h-2zM1042 87h2v1h-2zM1046 90h2v1h-2zM1048 91h2v1h-2zM1050 92h3v1h-3zM1053 93h4v1h-4zM1057 94h3v1h-3zM1060 95h3v1h-3zM1063 96h2v1h-2zM1065 97h3v1h-3zM1068 98h2v1h-2zM1089 98h2v1h-2zM1070 99h3v1h-3zM1087 99h2v1h-2zM1073 100h2v1h-2zM1085 100h2v1h-2zM1075 101h10v1h-10zM944 31h1v1h-1zM945 32h1v1h-1zM948 34h1v1h-1zM949 35h1v1h-1zM950 36h1v1h-1zM951 37h1v1h-1zM954 39h1v1h-1zM971 48h1v1h-1zM972 49h1v1h-1zM973 50h1v1h-1zM974 51h1v1h-1zM975 52h1v1h-1zM976 53h1v1h-1zM977 54h1v1h-1zM978 55h1v1h-1zM979 56h1v1h-1zM980 57h1v1h-1zM981 58h1v1h-1zM982 59h1v1h-1zM983 60h1v1h-1zM984 61h1v1h-1zM985 62h1v1h-1zM986 63h1v1h-1zM987 64h1v2h-1zM988 66h1v2h-1zM989 68h1v2h-1zM990 70h1v2h-1zM991 72h1v2h-1zM992 74h1v2h-1zM993 76h1v2h-1zM1035 81h1v1h-1zM1036 82h1v1h-1zM1039 84h1v1h-1zM1040 85h1v1h-1zM1041 86h1v1h-1zM1044 88h1v1h-1zM1045 89h1v1h-1zM1091 97h1v1h-1zM1092 95h1v2h-1zM1093 94h1v1h-1zM1094 92h1v2h-1zM1095 91h1v1h-1zM1096 89h1v2h-1zM1097 88h1v1h-1zM1098 86h1v2h-1zM1099 85h1v1h-1zM1100 83h1v2h-1zM1101 81h1v2h-1zM1102 79h1v2h-1zM1103 77h1v2h-1zM1104 75h1v2h-1zM1105 73h1v2h-1zM1106 71h1v2h-1zM1107 70h1v1h-1zM1108 69h1v1h-1zM1111 67h1v1h-1zM1112 66h1v1h-1zM1115 64h1v1h-1zM1116 63h1v1h-1zM1117 62h1v1h-1zM1120 60h1v1h-1zM1121 59h1v1h-1zM1122 58h1v1h-1zM1123 59h1v1h-1zM1126 61h1v1h-1zM1127 62h1v1h-1zM1278 60h1v1h-1zM1281 58h1v1h-1zM1284 56h1v1h-1zM1285 55h1v1h-1zM1323 53h1v1h-1zM1328 56h1v1h-1zM1331 58h1v1h-1zM1334 60h1v1h-1zM1335 61h1v1h-1z" fill="#38a869"/>
<path d="M1255 98h6v1h-6zM1247 99h8v1h-8zM1261 99h5v1h-5zM1242 100h5v1h-5zM1266 100h5v1h-5zM1238 101h4v1h-4zM1271 101h3v1h-3zM1234 102h4v1h-4zM1274 102h2v1h-2zM1230 103h4v1h-4zM1276 103h2v1h-2zM1227 104h3v1h-3zM1278 104h2v1h-2zM1225 105h2v1h-2zM1222 106h3v1h-3zM1281 106h2v1h-2zM1220 107h2v1h-2zM1283 107h2v1h-2zM1217 108h3v1h-3zM1285 108h2v1h-2zM1215 109h2v1h-2zM1287 109h3v1h-3zM1211 110h4v1h-4zM1290 110h3v1h-3zM1207 111h4v1h-4zM1293 111h3v1h-3zM1203 112h4v1h-4zM1296 112h3v1h-3zM1200 113h3v1h-3zM1299 113h3v1h-3zM1302 114h2v1h-2zM1304 115h3v1h-3zM1193 116h6v1h-6zM1307 116h3v1h-3zM1185 117h8v1h-8zM1310 117h2v1h-2zM1182 118h3v1h-3zM1312 118h4v1h-4zM1178 119h4v1h-4zM1316 119h4v1h-4zM1176 120h2v1h-2zM1320 120h4v1h-4zM1174 121h2v1h-2zM1324 121h3v1h-3zM1327 122h3v1h-3zM1171 123h2v1h-2zM1330 123h4v1h-4zM1334 124h3v1h-3zM1337 125h3v1h-3zM1167 126h2v1h-2zM1340 126h4v1h-4zM1344 127h3v1h-3zM1164 128h2v1h-2zM1347 128h9v1h-9zM1356 129h7v1h-7zM1161 130h2v1h-2zM1158 132h2v1h-2zM1155 134h2v1h-2zM1152 136h2v1h-2zM1147 140h2v1h-2zM1139 147h2v1h-2zM1130 155h2v1h-2zM308 157h34v1h-34zM300 158h8v1h-8zM342 158h6v1h-6zM297 159h3v1h-3zM348 159h6v1h-6zM293 160h4v1h-4zM354 160h4v1h-4zM290 161h3v1h-3zM358 161h3v1h-3zM288 162h2v1h-2zM361 162h3v1h-3zM286 163h2v1h-2zM364 163h3v1h-3zM367 164h2v1h-2zM1120 164h2v1h-2zM283 165h2v1h-2zM369 165h3v1h-3zM280 166h3v1h-3zM372 166h3v1h-3zM276 167h4v1h-4zM375 167h3v1h-3zM273 168h3v1h-3zM378 168h2v1h-2zM271 169h2v1h-2zM380 169h3v1h-3zM269 170h2v1h-2zM383 170h2v1h-2zM1113 170h2v1h-2zM267 171h2v1h-2zM385 171h3v1h-3zM265 172h2v1h-2zM388 172h2v1h-2zM263 173h2v1h-2zM390 173h3v1h-3zM261 174h2v1h-2zM393 174h2v1h-2zM259 175h2v1h-2zM395 175h2v1h-2zM1107 175h2v1h-2zM257 176h2v1h-2zM1024 178h5v1h-5zM1103 178h2v1h-2zM1019 179h5v1h-5zM1029 179h6v1h-6zM1101 179h2v1h-2zM400 180h2v1h-2zM1014 180h5v1h-5zM1035 180h4v1h-4zM1099 180h2v1h-2zM402 181h4v1h-4zM1009 181h5v1h-5zM1039 181h4v1h-4zM1097 181h2v1h-2zM406 182h4v1h-4zM1005 182h4v1h-4zM1043 182h4v1h-4zM1095 182h2v1h-2zM410 183h3v1h-3zM1001 183h4v1h-4zM1047 183h9v1h-9zM1092 183h3v1h-3zM248 184h2v1h-2zM413 184h4v1h-4zM998 184h3v1h-3zM1056 184h9v1h-9zM1088 184h4v1h-4zM417 185h4v1h-4zM996 185h2v1h-2zM1065 185h4v1h-4zM1085 185h3v1h-3zM421 186h4v1h-4zM994 186h2v1h-2zM1069 186h3v1h-3zM1079 186h6v1h-6zM425 187h4v1h-4zM1072 187h7v1h-7zM429 188h4v1h-4zM991 188h2v1h-2zM433 189h6v1h-6zM439 190h8v1h-8zM988 190h2v1h-2zM447 191h4v1h-4zM986 191h2v1h-2zM451 192h2v1h-2zM983 193h2v1h-2zM454 194h2v1h-2zM236 195h2v1h-2zM980 195h2v1h-2zM457 196h2v1h-2zM977 197h2v1h-2zM461 199h2v1h-2zM974 199h2v1h-2zM972 200h2v1h-2zM464 201h2v1h-2zM970 201h2v1h-2zM228 202h2v1h-2zM967 202h3v1h-3zM964 203h3v1h-3zM962 204h2v1h-2zM960 205h2v1h-2zM221 208h2v1h-2zM956 208h2v1h-2zM215 213h2v1h-2zM950 213h2v1h-2zM197 230h2v1h-2zM160 266h2v1h-2zM158 267h2v1h-2zM155 269h2v1h-2zM153 270h2v1h-2zM151 271h2v1h-2zM148 273h2v1h-2zM146 274h2v1h-2zM143 276h2v1h-2zM141 277h2v1h-2zM139 278h2v1h-2zM135 281h2v1h-2zM131 284h2v1h-2zM129 285h2v1h-2zM127 286h2v1h-2zM125 287h2v1h-2zM123 288h2v1h-2zM121 289h2v1h-2zM119 290h2v1h-2zM56 291h13v1h-13zM117 291h2v1h-2zM41 292h15v1h-15zM69 292h10v1h-10zM115 292h2v1h-2zM32 293h9v1h-9zM79 293h9v1h-9zM110 293h5v1h-5zM29 294h3v1h-3zM88 294h8v1h-8zM104 294h6v1h-6zM26 295h3v1h-3zM96 295h8v1h-8zM23 296h3v1h-3zM20 297h3v1h-3zM18 298h2v1h-2zM16 299h2v1h-2zM14 300h2v1h-2zM12 301h2v1h-2zM10 302h2v1h-2zM7 304h2v1h-2zM5 305h2v1h-2zM3 306h2v1h-2zM1 307h2v1h-2zM556 315h2v1h-2zM559 317h2v1h-2zM563 320h2v1h-2zM577 333h2v1h-2zM595 350h2v1h-2zM598 352h2v1h-2zM601 354h2v1h-2zM603 355h2v1h-2zM606 357h2v1h-2zM609 359h2v1h-2zM612 361h2v1h-2zM615 363h2v1h-2zM687 363h3v1h-3zM683 364h4v1h-4zM690 364h2v1h-2zM618 365h2v1h-2zM679 365h4v1h-4zM692 365h2v1h-2zM620 366h2v1h-2zM676 366h3v1h-3zM694 366h2v1h-2zM674 367h2v1h-2zM696 367h2v1h-2zM623 368h2v1h-2zM698 368h2v1h-2zM671 369h2v1h-2zM700 369h2v1h-2zM626 370h2v1h-2zM668 371h2v1h-2zM629 372h2v1h-2zM631 373h2v1h-2zM665 373h2v1h-2zM633 374h3v1h-3zM636 375h3v1h-3zM662 375h2v1h-2zM639 376h3v1h-3zM660 376h2v1h-2zM642 377h2v1h-2zM658 377h2v1h-2zM644 378h3v1h-3zM655 378h3v1h-3zM647 379h3v1h-3zM653 379h2v1h-2zM650 380h3v1h-3zM717 386h2v1h-2zM721 389h2v1h-2zM725 392h2v1h-2zM729 395h2v1h-2zM743 408h2v1h-2zM748 412h2v1h-2zM848 414h2v1h-2zM753 416h2v1h-2zM845 416h2v1h-2zM841 419h2v1h-2zM817 420h4v1h-4zM813 421h4v1h-4zM821 421h4v1h-4zM838 421h2v1h-2zM810 422h3v1h-3zM825 422h4v1h-4zM808 423h2v1h-2zM829 423h4v1h-4zM835 423h2v1h-2zM833 424h2v1h-2zM804 426h2v1h-2zM801 428h2v1h-2zM797 432h2v1h-2zM795 433h2v1h-2zM772 434h2v1h-2zM793 434h2v1h-2zM774 435h2v1h-2zM791 435h2v1h-2zM776 436h6v1h-6zM789 436h2v1h-2zM782 437h7v1h-7zM0 308h1v1h-1zM9 303h1v1h-1zM133 283h1v1h-1zM134 282h1v1h-1zM137 280h1v1h-1zM138 279h1v1h-1zM145 275h1v1h-1zM150 272h1v1h-1zM157 268h1v1h-1zM162 265h1v1h-1zM163 264h1v1h-1zM164 263h1v1h-1zM165 262h1v1h-1zM166 261h1v1h-1zM167 260h1v1h-1zM168 259h1v1h-1zM169 258h1v1h-1zM170 257h1v1h-1zM171 256h1v1h-1zM172 255h1v1h-1zM173 254h1v1h-1zM174 253h1v1h-1zM175 252h1v1h-1zM176 251h1v1h-1zM177 250h1v1h-1zM178 249h1v1h-1zM179 248h1v1h-1zM180 247h1v1h-1zM181 246h1v1h-1zM182 245h1v1h-1zM183 244h1v1h-1zM184 243h1v1h-1zM185 242h1v1h-1zM186 241h1v1h-1zM187 240h1v1h-1zM188 239h1v1h-1zM189 238h1v1h-1zM190 237h1v1h-1zM191 236h1v1h-1zM192 235h1v1h-1zM193 234h1v1h-1zM194 233h1v1h-1zM195 232h1v1h-1zM196 231h1v1h-1zM199 229h1v1h-1zM200 228h1v1h-1zM201 227h1v1h-1zM202 226h1v1h-1zM203 225h1v1h-1zM204 224h1v1h-1zM205 223h1v1h-1zM206 222h1v1h-1zM207 221h1v1h-1zM208 220h1v1h-1zM209 219h1v1h-1zM210 218h1v1h-1zM211 217h1v1h-1zM212 216h1v1h-1zM213 215h1v1h-1zM214 214h1v1h-1zM217 212h1v1h-1zM218 211h1v1h-1zM219 210h1v1h-1zM220 209h1v1h-1zM223 207h1v1h-1zM224 206h1v1h-1zM225 205h1v1h-1zM226 204h1v1h-1zM227 203h1v1h-1zM230 201h1v1h-1zM231 200h1v1h-1zM232 199h1v1h-1zM233 198h1v1h-1zM234 197h1v1h-1zM235 196h1v1h-1zM238 194h1v1h-1zM239 193h1v1h-1zM240 192h1v1h-1zM241 191h1v1h-1zM242 190h1v1h-1zM243 189h1v1h-1zM244 188h1v1h-1zM245 187h1v1h-1zM246 186h1v1h-1zM247 185h1v1h-1zM250 183h1v1h-1zM251 182h1v1h-1zM252 181h1v1h-1zM253 180h1v1h-1zM254 179h1v1h-1zM255 178h1v1h-1zM256 177h1v1h-1zM285 164h1v1h-1zM397 176h1v1h-1zM398 177h1v2h-1zM399 179h1v1h-1zM453 193h1v1h-1zM456 195h1v1h-1zM459 197h1v1h-1zM460 198h1v1h-1zM463 200h1v1h-1zM466 202h1v1h-1zM467 203h1v1h-1zM468 204h1v1h-1zM469 205h1v1h-1zM470 206h1v1h-1zM471 207h1v1h-1zM472 208h1v1h-1zM473 209h1v1h-1zM474 210h1v2h-1zM475 212h1v1h-1zM476 213h1v1h-1zM477 214h1v1h-1zM478 215h1v1h-1zM479 216h1v1h-1zM480 217h1v1h-1zM481 218h1v1h-1zM482 219h1v1h-1zM483 220h1v1h-1zM484 221h1v2h-1zM485 223h1v1h-1zM486 224h1v2h-1zM487 226h1v1h-1zM488 227h1v2h-1zM489 229h1v1h-1zM490 230h1v2h-1zM491 232h1v1h-1zM492 233h1v1h-1zM493 234h1v2h-1zM494 236h1v1h-1zM495 237h1v2h-1zM496 239h1v1h-1zM497 240h1v2h-1zM498 242h1v1h-1zM499 243h1v2h-1zM500 245h1v1h-1zM501 246h1v2h-1zM502 248h1v1h-1zM503 249h1v1h-1zM504 250h1v2h-1zM505 252h1v1h-1zM506 253h1v2h-1zM507 255h1v1h-1zM508 256h1v1h-1zM509 257h1v2h-1zM510 259h1v1h-1zM511 260h1v1h-1zM512 261h1v2h-1zM513 263h1v1h-1zM514 264h1v2h-1zM515 266h1v1h-1zM516 267h1v1h-1zM517 268h1v2h-1zM518 270h1v1h-1zM519 271h1v2h-1zM520 273h1v1h-1zM521 274h1v1h-1zM522 275h1v2h-1zM523 277h1v1h-1zM524 278h1v1h-1zM525 279h1v2h-1zM526 281h1v1h-1zM527 282h1v1h-1zM528 283h1v2h-1zM529 285h1v1h-1zM530 286h1v1h-1zM531 287h1v2h-1zM532 289h1v1h-1zM533 290h1v1h-1zM534 291h1v2h-1zM535 293h1v1h-1zM536 294h1v1h-1zM537 295h1v1h-1zM538 296h1v1h-1zM539 297h1v1h-1zM540 298h1v1h-1zM541 299h1v1h-1zM542 300h1v1h-1zM543 301h1v1h-1zM544 302h1v1h-1zM545 303h1v2h-1zM546 305h1v1h-1zM547 306h1v1h-1zM548 307h1v1h-1zM549 308h1v1h-1zM550 309h1v1h-1zM551 310h1v1h-1zM552 311h1v1h-1zM553 312h1v1h-1zM554 313h1v1h-1zM555 314h1v1h-1zM558 316h1v1h-1zM561 318h1v1h-1zM562 319h1v1h-1zM565 321h1v1h-1zM566 322h1v1h-1zM567 323h1v1h-1zM568 324h1v1h-1zM569 325h1v1h-1zM570 326h1v1h-1zM571 327h1v1h-1zM572 328h1v1h-1zM573 329h1v1h-1zM574 330h1v1h-1zM575 331h1v1h-1zM576 332h1v1h-1zM579 334h1v1h-1zM580 335h1v1h-1zM581 336h1v1h-1zM582 337h1v1h-1zM583 338h1v1h-1zM584 339h1v1h-1zM585 340h1v1h-1zM586 341h1v1h-1zM587 342h1v1h-1zM588 343h1v1h-1zM589 344h1v1h-1zM590 345h1v1h-1zM591 346h1v1h-1zM592 347h1v1h-1zM593 348h1v1h-1zM594 349h1v1h-1zM597 351h1v1h-1zM600 353h1v1h-1zM605 356h1v1h-1zM608 358h1v1h-1zM611 360h1v1h-1zM614 362h1v1h-1zM617 364h1v1h-1zM622 367h1v1h-1zM625 369h1v1h-1zM628 371h1v1h-1zM664 374h1v1h-1zM667 372h1v1h-1zM670 370h1v1h-1zM673 368h1v1h-1zM702 370h1v1h-1zM703 371h1v1h-1zM704 372h1v1h-1zM705 373h1v1h-1zM706 374h1v1h-1zM707 375h1v1h-1zM708 376h1v2h-1zM709 378h1v1h-1zM710 379h1v1h-1zM711 380h1v1h-1zM712 381h1v1h-1zM713 382h1v1h-1zM714 383h1v1h-1zM715 384h1v1h-1zM716 385h1v1h-1zM719 387h1v1h-1zM720 388h1v1h-1zM723 390h1v1h-1zM724 391h1v1h-1zM727 393h1v1h-1zM728 394h1v1h-1zM731 396h1v1h-1zM732 397h1v1h-1zM733 398h1v1h-1zM734 399h1v1h-1zM735 400h1v1h-1zM736 401h1v1h-1zM737 402h1v1h-1zM738 403h1v1h-1zM739 404h1v1h-1zM740 405h1v1h-1zM741 406h1v1h-1zM742 407h1v1h-1zM745 409h1v1h-1zM746 410h1v1h-1zM747 411h1v1h-1zM750 413h1v1h-1zM751 414h1v1h-1zM752 415h1v1h-1zM755 417h1v1h-1zM756 418h1v1h-1zM757 419h1v1h-1zM758 420h1v1h-1zM759 421h1v1h-1zM760 422h1v1h-1zM761 423h1v1h-1zM762 424h1v1h-1zM763 425h1v1h-1zM764 426h1v1h-1zM765 427h1v1h-1zM766 428h1v1h-1zM767 429h1v1h-1zM768 430h1v1h-1zM769 431h1v1h-1zM770 432h1v1h-1zM771 433h1v1h-1zM799 430h1v2h-1zM800 429h1v1h-1zM803 427h1v1h-1zM806 425h1v1h-1zM807 424h1v1h-1zM837 422h1v1h-1zM840 420h1v1h-1zM843 418h1v1h-1zM844 417h1v1h-1zM847 415h1v1h-1zM850 413h1v1h-1zM851 411h1v2h-1zM852 409h1v2h-1zM853 407h1v2h-1zM854 405h1v2h-1zM855 403h1v2h-1zM856 401h1v2h-1zM857 399h1v2h-1zM858 397h1v2h-1zM859 395h1v2h-1zM860 393h1v2h-1zM861 391h1v2h-1zM862 389h1v2h-1zM863 387h1v2h-1zM864 385h1v2h-1zM865 383h1v2h-1zM866 380h1v3h-1zM867 378h1v2h-1zM868 376h1v2h-1zM869 373h1v3h-1zM870 371h1v2h-1zM871 369h1v2h-1zM872 366h1v3h-1zM873 364h1v2h-1zM874 362h1v2h-1zM875 359h1v3h-1zM876 356h1v3h-1zM877 354h1v2h-1zM878 351h1v3h-1zM879 348h1v3h-1zM880 346h1v2h-1zM881 343h1v3h-1zM882 340h1v3h-1zM883 338h1v2h-1zM884 335h1v3h-1zM885 332h1v3h-1zM886 330h1v2h-1zM887 327h1v3h-1zM888 324h1v3h-1zM889 322h1v2h-1zM890 320h1v2h-1zM891 318h1v2h-1zM892 315h1v3h-1zM893 313h1v2h-1zM894 311h1v2h-1zM895 309h1v2h-1zM896 306h1v3h-1zM897 304h1v2h-1zM898 302h1v2h-1zM899 300h1v2h-1zM900 297h1v3h-1zM901 295h1v2h-1zM902 293h1v2h-1zM903 291h1v2h-1zM904 289h1v2h-1zM905 287h1v2h-1zM906 284h1v3h-1zM907 282h1v2h-1zM908 280h1v2h-1zM909 278h1v2h-1zM910 276h1v2h-1zM911 274h1v2h-1zM912 272h1v2h-1zM913 269h1v3h-1zM914 267h1v2h-1zM915 265h1v2h-1zM916 263h1v2h-1zM917 261h1v2h-1zM918 259h1v2h-1zM919 257h1v2h-1zM920 255h1v2h-1zM921 253h1v2h-1zM922 251h1v2h-1zM923 249h1v2h-1zM924 247h1v2h-1zM925 245h1v2h-1zM926 243h1v2h-1zM927 241h1v2h-1zM928 240h1v1h-1zM929 238h1v2h-1zM930 236h1v2h-1zM931 234h1v2h-1zM932 233h1v1h-1zM933 231h1v2h-1zM934 229h1v2h-1zM935 228h1v1h-1zM936 227h1v1h-1zM937 226h1v1h-1zM938 225h1v1h-1zM939 224h1v1h-1zM940 223h1v1h-1zM941 222h1v1h-1zM942 221h1v1h-1zM943 220h1v1h-1zM944 219h1v1h-1zM945 218h1v1h-1zM946 217h1v1h-1zM947 216h1v1h-1zM948 215h1v1h-1zM949 214h1v1h-1zM952 212h1v1h-1zM953 211h1v1h-1zM954 210h1v1h-1zM955 209h1v1h-1zM958 207h1v1h-1zM959 206h1v1h-1zM976 198h1v1h-1zM979 196h1v1h-1zM982 194h1v1h-1zM985 192h1v1h-1zM990 189h1v1h-1zM993 187h1v1h-1zM1105 177h1v1h-1zM1106 176h1v1h-1zM1109 174h1v1h-1zM1110 173h1v1h-1zM1111 172h1v1h-1zM1112 171h1v1h-1zM1115 169h1v1h-1zM1116 168h1v1h-1zM1117 167h1v1h-1zM1118 166h1v1h-1zM1119 165h1v1h-1zM1122 163h1v1h-1zM1123 162h1v1h-1zM1124 161h1v1h-1zM1125 160h1v1h-1zM1126 159h1v1h-1zM1127 158h1v1h-1zM1128 157h1v1h-1zM1129 156h1v1h-1zM1132 154h1v1h-1zM1133 153h1v1h-1zM1134 152h1v1h-1zM1135 151h1v1h-1zM1136 150h1v1h-1zM1137 149h1v1h-1zM1138 148h1v1h-1zM1141 146h1v1h-1zM1142 145h1v1h-1zM1143 144h1v1h-1zM1144 143h1v1h-1zM1145 142h1v1h-1zM1146 141h1v1h-1zM1149 139h1v1h-1zM1150 138h1v1h-1zM1151 137h1v1h-1zM1154 135h1v1h-1zM1157 133h1v1h-1zM1160 131h1v1h-1zM1163 129h1v1h-1zM1166 127h1v1h-1zM1169 125h1v1h-1zM1170 124h1v1h-1zM1173 122h1v1h-1zM1199 114h1v2h-1zM1280 105h1v1h-1z" fill="#38a869"/>
<path d="M322 192h15v1h-15zM312 193h10v1h-10zM337 193h13v1h-13zM306 194h6v1h-6zM350 194h8v1h-8zM358 195h4v1h-4zM376 217h2v1h-2zM378 218h2v1h-2zM380 219h3v1h-3zM383 220h2v1h-2zM385 221h3v1h-3zM388 222h2v1h-2zM390 223h3v1h-3zM393 224h2v1h-2zM395 225h2v1h-2zM400 237h4v1h-4zM404 238h6v1h-6zM422 238h25v1h-25zM410 239h12v1h-12zM447 239h2v1h-2zM449 240h2v1h-2zM266 242h2v1h-2zM219 324h2v1h-2zM97 331h2v1h-2zM94 332h3v1h-3zM99 332h2v1h-2zM91 333h3v1h-3zM209 333h2v1h-2zM88 334h3v1h-3zM102 334h2v1h-2zM41 335h15v1h-15zM85 335h3v1h-3zM39 336h2v1h-2zM56 336h29v1h-29zM37 337h2v1h-2zM106 337h2v1h-2zM35 338h2v1h-2zM108 338h2v1h-2zM203 338h2v1h-2zM33 339h2v1h-2zM110 339h2v1h-2zM31 340h2v1h-2zM112 340h3v1h-3zM136 340h4v1h-4zM115 341h2v1h-2zM132 341h4v1h-4zM140 341h6v1h-6zM28 342h2v1h-2zM117 342h3v1h-3zM129 342h3v1h-3zM146 342h6v1h-6zM159 342h6v1h-6zM26 343h2v1h-2zM120 343h2v1h-2zM125 343h4v1h-4zM152 343h7v1h-7zM165 343h2v1h-2zM197 343h2v1h-2zM24 344h2v1h-2zM122 344h3v1h-3zM167 344h2v1h-2zM22 345h2v1h-2zM169 345h2v1h-2zM20 346h2v1h-2zM171 346h6v1h-6zM193 346h2v1h-2zM177 347h7v1h-7zM189 347h4v1h-4zM184 348h5v1h-5zM621 442h7v1h-7zM619 443h2v1h-2zM617 444h2v1h-2zM614 446h2v1h-2zM687 446h2v1h-2zM612 447h2v1h-2zM685 447h2v1h-2zM683 448h2v1h-2zM681 449h2v1h-2zM679 450h2v1h-2zM677 451h2v1h-2zM675 452h2v1h-2zM673 453h2v1h-2zM636 454h2v1h-2zM671 454h2v1h-2zM669 455h2v1h-2zM667 456h2v1h-2zM640 457h2v1h-2zM665 457h2v1h-2zM663 458h2v1h-2zM644 460h2v1h-2zM660 460h2v1h-2zM658 461h2v1h-2zM656 462h2v1h-2zM648 463h2v1h-2zM654 463h2v1h-2zM652 464h2v1h-2zM583 491h2v1h-2zM581 492h2v1h-2zM545 493h2v1h-2zM579 493h2v1h-2zM547 494h4v1h-4zM577 494h2v1h-2zM551 495h3v1h-3zM575 495h2v1h-2zM554 496h3v1h-3zM573 496h2v1h-2zM557 497h4v1h-4zM571 497h2v1h-2zM561 498h10v1h-10zM752 558h5v1h-5zM747 559h5v1h-5zM757 559h3v1h-3zM760 560h3v1h-3zM763 561h3v1h-3zM776 561h21v1h-21zM766 562h3v1h-3zM772 562h4v1h-4zM797 562h2v1h-2zM769 563h3v1h-3zM799 563h2v1h-2zM832 563h2v1h-2zM801 564h2v1h-2zM830 564h2v1h-2zM803 565h8v1h-8zM824 565h6v1h-6zM811 566h13v1h-13zM0 402h1v2h-1zM1 398h1v4h-1zM2 395h1v3h-1zM3 391h1v4h-1zM4 388h1v3h-1zM5 384h1v4h-1zM6 381h1v3h-1zM7 377h1v4h-1zM8 374h1v3h-1zM9 372h1v2h-1zM10 369h1v3h-1zM11 367h1v2h-1zM12 364h1v3h-1zM13 361h1v3h-1zM14 359h1v2h-1zM15 356h1v3h-1zM16 354h1v2h-1zM17 351h1v3h-1zM18 349h1v2h-1zM19 347h1v2h-1zM30 341h1v1h-1zM101 333h1v1h-1zM104 335h1v1h-1zM105 336h1v1h-1zM195 345h1v1h-1zM196 344h1v1h-1zM199 342h1v1h-1zM200 341h1v1h-1zM201 340h1v1h-1zM202 339h1v1h-1zM205 337h1v1h-1zM206 336h1v1h-1zM207 335h1v1h-1zM208 334h1v1h-1zM211 332h1v1h-1zM212 331h1v1h-1zM213 330h1v1h-1zM214 329h1v1h-1zM215 328h1v1h-1zM216 327h1v1h-1zM217 326h1v1h-1zM218 325h1v1h-1zM221 323h1v1h-1zM222 322h1v1h-1zM223 321h1v1h-1zM224 320h1v1h-1zM225 319h1v1h-1zM226 317h1v2h-1zM227 315h1v2h-1zM228 313h1v2h-1zM229 311h1v2h-1zM230 309h1v2h-1zM231 307h1v2h-1zM232 305h1v2h-1zM233 303h1v2h-1zM234 301h1v2h-1zM235 299h1v2h-1zM236 297h1v2h-1zM237 295h1v2h-1zM238 293h1v2h-1zM239 291h1v2h-1zM240 289h1v2h-1zM241 287h1v2h-1zM242 285h1v2h-1zM243 283h1v2h-1zM244 281h1v2h-1zM245 278h1v3h-1zM246 276h1v2h-1zM247 274h1v2h-1zM248 272h1v2h-1zM249 269h1v3h-1zM250 267h1v2h-1zM251 265h1v2h-1zM252 263h1v2h-1zM253 261h1v2h-1zM254 258h1v3h-1zM255 256h1v2h-1zM256 254h1v2h-1zM257 252h1v2h-1zM258 250h1v2h-1zM259 249h1v1h-1zM260 248h1v1h-1zM261 247h1v1h-1zM262 246h1v1h-1zM263 245h1v1h-1zM264 244h1v1h-1zM265 243h1v1h-1zM268 241h1v1h-1zM269 240h1v1h-1zM270 239h1v1h-1zM271 238h1v1h-1zM272 237h1v1h-1zM273 236h1v1h-1zM274 235h1v1h-1zM275 234h1v1h-1zM276 233h1v1h-1zM277 231h1v2h-1zM278 230h1v1h-1zM279 228h1v2h-1zM280 227h1v1h-1zM281 225h1v2h-1zM282 224h1v1h-1zM283 222h1v2h-1zM284 220h1v2h-1zM285 219h1v1h-1zM286 217h1v2h-1zM287 216h1v1h-1zM288 214h1v2h-1zM289 213h1v1h-1zM290 211h1v2h-1zM291 210h1v1h-1zM292 209h1v1h-1zM293 208h1v1h-1zM294 207h1v1h-1zM295 206h1v1h-1zM296 205h1v1h-1zM297 204h1v1h-1zM298 202h1v2h-1zM299 201h1v1h-1zM300 200h1v1h-1zM301 199h1v1h-1zM302 198h1v1h-1zM303 197h1v1h-1zM304 196h1v1h-1zM305 195h1v1h-1zM362 196h1v2h-1zM363 198h1v1h-1zM364 199h1v2h-1zM365 201h1v1h-1zM366 202h1v2h-1zM367 204h1v1h-1zM368 205h1v2h-1zM369 207h1v1h-1zM370 208h1v1h-1zM371 209h1v2h-1zM372 211h1v1h-1zM373 212h1v2h-1zM374 214h1v1h-1zM375 215h1v2h-1zM396 226h1v1h-1zM397 227h1v3h-1zM398 230h1v3h-1zM399 233h1v3h-1zM400 236h1v1h-1zM451 241h1v2h-1zM452 243h1v2h-1zM453 245h1v2h-1zM454 247h1v2h-1zM455 249h1v2h-1zM456 251h1v2h-1zM457 253h1v2h-1zM458 255h1v2h-1zM459 257h1v2h-1zM460 259h1v2h-1zM461 261h1v2h-1zM462 263h1v2h-1zM463 265h1v2h-1zM464 267h1v2h-1zM465 269h1v2h-1zM466 271h1v2h-1zM467 273h1v2h-1zM468 275h1v3h-1zM469 278h1v6h-1zM470 284h1v5h-1zM471 289h1v6h-1zM472 295h1v5h-1zM473 300h1v5h-1zM474 305h1v6h-1zM475 311h1v4h-1zM476 315h1v4h-1zM477 319h1v3h-1zM478 322h1v3h-1zM479 325h1v4h-1zM480 329h1v3h-1zM481 332h1v4h-1zM482 336h1v4h-1zM483 340h1v4h-1zM484 344h1v4h-1zM485 348h1v4h-1zM486 352h1v3h-1zM487 355h1v4h-1zM488 359h1v3h-1zM489 362h1v4h-1zM490 366h1v3h-1zM491 369h1v3h-1zM492 372h1v4h-1zM493 376h1v3h-1zM494 379h1v4h-1zM495 383h1v3h-1zM496 386h1v4h-1zM497 390h1v3h-1zM498 393h1v4h-1zM499 397h1v3h-1zM500 400h1v3h-1zM501 403h1v4h-1zM502 407h1v3h-1zM503 410h1v4h-1zM504 414h1v3h-1zM505 417h1v3h-1zM506 420h1v4h-1zM507 424h1v3h-1zM508 427h1v3h-1zM509 430h1v3h-1zM510 433h1v2h-1zM511 435h1v3h-1zM512 438h1v3h-1zM513 441h1v2h-1zM514 443h1v3h-1zM515 446h1v3h-1zM516 449h1v2h-1zM517 451h1v2h-1zM518 453h1v2h-1zM519 455h1v2h-1zM520 457h1v2h-1zM521 459h1v2h-1zM522 461h1v2h-1zM523 463h1v2h-1zM524 465h1v2h-1zM525 467h1v2h-1zM526 469h1v2h-1zM527 471h1v2h-1zM528 473h1v2h-1zM529 475h1v1h-1zM530 476h1v1h-1zM531 477h1v1h-1zM532 478h1v1h-1zM533 479h1v2h-1zM534 481h1v1h-1zM535 482h1v1h-1zM536 483h1v1h-1zM537 484h1v1h-1zM538 485h1v1h-1zM539 486h1v1h-1zM540 487h1v1h-1zM541 488h1v2h-1zM542 490h1v1h-1zM543 491h1v1h-1zM544 492h1v1h-1zM585 490h1v1h-1zM586 489h1v1h-1zM587 488h1v1h-1zM588 487h1v1h-1zM589 485h1v2h-1zM590 484h1v1h-1zM591 483h1v1h-1zM592 482h1v1h-1zM593 481h1v1h-1zM594 480h1v1h-1zM595 478h1v2h-1zM596 476h1v2h-1zM597 474h1v2h-1zM598 472h1v2h-1zM599 470h1v2h-1zM600 468h1v2h-1zM601 466h1v2h-1zM602 465h1v1h-1zM603 463h1v2h-1zM604 461h1v2h-1zM605 459h1v2h-1zM606 457h1v2h-1zM607 455h1v2h-1zM608 453h1v2h-1zM609 451h1v2h-1zM610 449h1v2h-1zM611 448h1v1h-1zM616 445h1v1h-1zM628 443h1v2h-1zM629 445h1v1h-1zM630 446h1v2h-1zM631 448h1v1h-1zM632 449h1v1h-1zM633 450h1v2h-1zM634 452h1v1h-1zM635 453h1v1h-1zM638 455h1v1h-1zM639 456h1v1h-1zM642 458h1v1h-1zM643 459h1v1h-1zM646 461h1v1h-1zM647 462h1v1h-1zM650 464h1v1h-1zM651 465h1v1h-1zM662 459h1v1h-1zM689 445h1v1h-1zM690 446h1v2h-1zM691 448h1v2h-1zM692 450h1v2h-1zM693 452h1v2h-1zM694 454h1v2h-1zM695 456h1v2h-1zM696 458h1v2h-1zM697 460h1v2h-1zM698 462h1v2h-1zM699 464h1v2h-1zM700 466h1v2h-1zM701 468h1v3h-1zM702 471h1v2h-1zM703 473h1v2h-1zM704 475h1v2h-1zM705 477h1v4h-1zM706 481h1v4h-1zM707 485h1v4h-1zM708 489h1v4h-1zM709 493h1v3h-1zM710 496h1v3h-1zM711 499h1v3h-1zM712 502h1v4h-1zM713 506h1v3h-1zM714 509h1v3h-1zM715 512h1v3h-1zM716 515h1v2h-1zM717 517h1v3h-1zM718 520h1v2h-1zM719 522h1v2h-1zM720 524h1v3h-1zM721 527h1v2h-1zM722 529h1v2h-1zM723 531h1v2h-1zM724 533h1v2h-1zM725 535h1v1h-1zM726 536h1v1h-1zM727 537h1v1h-1zM728 538h1v1h-1zM729 539h1v1h-1zM730 540h1v2h-1zM731 542h1v1h-1zM732 543h1v1h-1zM733 544h1v1h-1zM734 545h1v1h-1zM735 546h1v1h-1zM736 547h1v1h-1zM737 548h1v1h-1zM738 549h1v1h-1zM739 550h1v1h-1zM740 551h1v1h-1zM741 552h1v2h-1zM742 554h1v1h-1zM743 555h1v1h-1zM744 556h1v1h-1zM745 557h1v1h-1zM746 558h1v1h-1zM834 562h1v1h-1zM835 563h1v1h-1zM836 564h1v2h-1zM837 566h1v1h-1zM838 567h1v1h-1zM839 568h1v1h-1zM840 569h1v2h-1zM841 571h1v1h-1zM842 572h1v1h-1zM843 573h1v1h-1zM844 574h1v1h-1zM845 575h1v2h-1zM846 577h1v1h-1zM847 578h1v1h-1zM848 579h1v1h-1zM849 580h1v2h-1zM850 582h1v1h-1z" fill="#38a869"/>
<path d="M1251 132h10v1h-10zM1245 133h6v1h-6zM1261 133h4v1h-4zM1243 134h2v1h-2zM1239 137h2v1h-2zM1236 139h2v1h-2zM1216 163h2v1h-2zM1213 165h2v1h-2zM1211 166h2v1h-2zM1199 169h11v1h-11zM1197 170h2v1h-2zM1195 171h2v1h-2zM1191 172h4v1h-4zM1185 173h6v1h-6zM1181 174h4v1h-4zM1294 174h2v1h-2zM1179 175h2v1h-2zM1177 176h2v1h-2zM1175 177h2v1h-2zM1298 177h2v1h-2zM1173 178h2v1h-2zM1302 180h2v1h-2zM1305 182h3v1h-3zM1308 183h4v1h-4zM1312 184h4v1h-4zM1316 185h4v1h-4zM1320 186h4v1h-4zM1324 187h3v1h-3zM1327 188h4v1h-4zM1331 189h5v1h-5zM1336 190h27v1h-27zM1074 270h5v1h-5zM1069 271h5v1h-5zM1079 271h5v1h-5zM1064 272h5v1h-5zM1084 272h5v1h-5zM1114 272h2v1h-2zM1052 273h12v1h-12zM1089 273h4v1h-4zM1041 274h11v1h-11zM1093 274h3v1h-3zM1039 275h2v1h-2zM1096 275h3v1h-3zM1110 275h2v1h-2zM1036 276h3v1h-3zM1099 276h3v1h-3zM1033 277h3v1h-3zM1102 277h3v1h-3zM1107 277h2v1h-2zM1031 278h2v1h-2zM1105 278h2v1h-2zM1011 279h20v1h-20zM1009 280h2v1h-2zM1007 281h2v1h-2zM1004 283h2v1h-2zM1002 284h2v1h-2zM969 359h2v1h-2zM965 362h2v1h-2zM889 579h2v1h-2zM885 582h2v1h-2zM887 581h1v1h-1zM888 580h1v1h-1zM891 577h1v2h-1zM892 575h1v2h-1zM893 572h1v3h-1zM894 569h1v3h-1zM895 567h1v2h-1zM896 564h1v3h-1zM897 562h1v2h-1zM898 559h1v3h-1zM899 557h1v2h-1zM900 554h1v3h-1zM901 551h1v3h-1zM902 549h1v2h-1zM903 546h1v3h-1zM904 543h1v3h-1zM905 541h1v2h-1zM906 538h1v3h-1zM907 536h1v2h-1zM908 533h1v3h-1zM909 531h1v2h-1zM910 528h1v3h-1zM911 526h1v2h-1zM912 523h1v3h-1zM913 521h1v2h-1zM914 518h1v3h-1zM915 515h1v3h-1zM916 512h1v3h-1zM917 509h1v3h-1zM918 506h1v3h-1zM919 503h1v3h-1zM920 500h1v3h-1zM921 497h1v3h-1zM922 493h1v4h-1zM923 489h1v4h-1zM924 486h1v3h-1zM925 482h1v4h-1zM926 478h1v4h-1zM927 473h1v5h-1zM928 469h1v4h-1zM929 464h1v5h-1zM930 459h1v5h-1zM931 454h1v5h-1zM932 449h1v5h-1zM933 445h1v4h-1zM934 440h1v5h-1zM935 436h1v4h-1zM936 432h1v4h-1zM937 428h1v4h-1zM938 425h1v3h-1zM939 421h1v4h-1zM940 418h1v3h-1zM941 414h1v4h-1zM942 410h1v4h-1zM943 407h1v3h-1zM944 404h1v3h-1zM945 401h1v3h-1zM946 399h1v2h-1zM947 396h1v3h-1zM948 393h1v3h-1zM949 390h1v3h-1zM950 387h1v3h-1zM951 385h1v2h-1zM952 382h1v3h-1zM953 380h1v2h-1zM954 378h1v2h-1zM955 376h1v2h-1zM956 375h1v1h-1zM957 373h1v2h-1zM958 372h1v1h-1zM959 370h1v2h-1zM960 368h1v2h-1zM961 367h1v1h-1zM962 365h1v2h-1zM963 364h1v1h-1zM964 363h1v1h-1zM967 361h1v1h-1zM968 360h1v1h-1zM971 358h1v1h-1zM972 356h1v2h-1zM973 353h1v3h-1zM974 350h1v3h-1zM975 347h1v3h-1zM976 344h1v3h-1zM977 341h1v3h-1zM978 338h1v3h-1zM979 335h1v3h-1zM980 332h1v3h-1zM981 330h1v2h-1zM982 327h1v3h-1zM983 324h1v3h-1zM984 322h1v2h-1zM985 319h1v3h-1zM986 317h1v2h-1zM987 314h1v3h-1zM988 311h1v3h-1zM989 307h1v4h-1zM990 304h1v3h-1zM991 301h1v3h-1zM992 297h1v4h-1zM993 294h1v3h-1zM994 292h1v2h-1zM995 291h1v1h-1zM996 290h1v1h-1zM997 289h1v1h-1zM998 288h1v1h-1zM999 287h1v1h-1zM1000 286h1v1h-1zM1001 285h1v1h-1zM1006 282h1v1h-1zM1109 276h1v1h-1zM1112 274h1v1h-1zM1113 273h1v1h-1zM1116 271h1v1h-1zM1117 270h1v1h-1zM1118 269h1v1h-1zM1119 268h1v1h-1zM1120 267h1v1h-1zM1121 266h1v1h-1zM1122 265h1v1h-1zM1123 263h1v2h-1zM1124 261h1v2h-1zM1125 258h1v3h-1zM1126 255h1v3h-1zM1127 253h1v2h-1zM1128 250h1v3h-1zM1129 247h1v3h-1zM1130 245h1v2h-1zM1131 243h1v2h-1zM1132 241h1v2h-1zM1133 240h1v1h-1zM1134 238h1v2h-1zM1135 237h1v1h-1zM1136 235h1v2h-1zM1137 234h1v1h-1zM1138 232h1v2h-1zM1139 231h1v1h-1zM1140 229h1v2h-1zM1141 227h1v2h-1zM1142 225h1v2h-1zM1143 223h1v2h-1zM1144 221h1v2h-1zM1145 218h1v3h-1zM1146 216h1v2h-1zM1147 214h1v2h-1zM1148 212h1v2h-1zM1149 209h1v3h-1zM1150 207h1v2h-1zM1151 205h1v2h-1zM1152 203h1v2h-1zM1153 201h1v2h-1zM1154 199h1v2h-1zM1155 198h1v1h-1zM1156 197h1v1h-1zM1157 195h1v2h-1zM1158 194h1v1h-1zM1159 193h1v1h-1zM1160 191h1v2h-1zM1161 190h1v1h-1zM1162 189h1v1h-1zM1163 188h1v1h-1zM1164 187h1v1h-1zM1165 186h1v1h-1zM1166 185h1v1h-1zM1167 184h1v1h-1zM1168 183h1v1h-1zM1169 182h1v1h-1zM1170 181h1v1h-1zM1171 180h1v1h-1zM1172 179h1v1h-1zM1209 168h1v1h-1zM1210 167h1v1h-1zM1215 164h1v1h-1zM1218 162h1v1h-1zM1219 161h1v1h-1zM1220 159h1v2h-1zM1221 158h1v1h-1zM1222 157h1v1h-1zM1223 155h1v2h-1zM1224 154h1v1h-1zM1225 153h1v1h-1zM1226 152h1v1h-1zM1227 150h1v2h-1zM1228 149h1v1h-1zM1229 148h1v1h-1zM1230 146h1v2h-1zM1231 145h1v1h-1zM1232 144h1v1h-1zM1233 142h1v2h-1zM1234 141h1v1h-1zM1235 140h1v1h-1zM1238 138h1v1h-1zM1241 136h1v1h-1zM1242 135h1v1h-1zM1265 134h1v1h-1zM1266 135h1v1h-1zM1267 136h1v1h-1zM1268 137h1v1h-1zM1269 138h1v1h-1zM1270 139h1v1h-1zM1271 140h1v1h-1zM1272 141h1v1h-1zM1273 142h1v1h-1zM1274 143h1v2h-1zM1275 145h1v2h-1zM1276 147h1v1h-1zM1277 148h1v2h-1zM1278 150h1v1h-1zM1279 151h1v2h-1zM1280 153h1v2h-1zM1281 155h1v1h-1zM1282 156h1v2h-1zM1283 158h1v1h-1zM1284 159h1v2h-1zM1285 161h1v1h-1zM1286 162h1v2h-1zM1287 164h1v1h-1zM1288 165h1v2h-1zM1289 167h1v1h-1zM1290 168h1v2h-1zM1291 170h1v1h-1zM1292 171h1v2h-1zM1293 173h1v1h-1zM1296 175h1v1h-1zM1297 176h1v1h-1zM1300 178h1v1h-1zM1301 179h1v1h-1zM1304 181h1v1h-1z" fill="#38a869"/>
<rect x="2" y="284" width="1" height="26" fill="#000" />
<rect x="0" y="302" width="5" height="5" fill="#000" />
<rect x="10" y="288" width="1" height="42" fill="#000" />
<rect x="8" y="306" width="5" height="3" fill="#000" />
<rect x="18" y="297" width="1" height="20" fill="#000" />
<rect x="16" y="305" width="5" height="3" fill="#000" />
<rect x="17" y="306" width="3" height="1" fill="#fff" />
<rect x="26" y="280" width="1" height="34" fill="#000" />
<rect x="24" y="282" width="5" height="24" fill="#000" />
<rect x="25" y="283" width="3" height="22" fill="#fff" />
<rect x="34" y="272" width="1" height="26" fill="#000" />
<rect x="32" y="283" width="5" height="13" fill="#000" />
<rect x="42" y="292" width="1" height="18" fill="#000" />
<rect x="40" y="297" width="5" height="12" fill="#000" />
<rect x="50" y="285" width="1" height="60" fill="#000" />
<rect x="48" y="296" width="5" height="13" fill="#000" />
<rect x="49" y="297" width="3" height="11" fill="#fff" />
<rect x="58" y="270" width="1" height="40" fill="#000" />
<rect x="56" y="278" width="5" height="18" fill="#000" />
<rect x="57" y="279" width="3" height="16" fill="#fff" />
<rect x="66" y="245" width="1" height="60" fill="#000" />
<rect x="64" y="278" width="5" height="3" fill="#000" />
<rect x="74" y="273" width="1" height="32" fill="#000" />
<rect x="72" y="281" width="5" height="23" fill="#000" />
<rect x="82" y="282" width="1" height="27" fill="#000" />
<rect x="80" y="301" width="5" height="2" fill="#000" />
<rect x="90" y="285" width="1" height="21" fill="#000" />
<rect x="88" y="287" width="5" height="15" fill="#000" />
<rect x="89" y="288" width="3" height="13" fill="#fff" />
<rect x="98" y="275" width="1" height="29" fill="#000" />
<rect x="96" y="279" width="5" height="9" fill="#000" />
<rect x="97" y="280" width="3" height="7" fill="#fff" />
<rect x="106" y="223" width="1" height="83" fill="#000" />
<rect x="104" y="225" width="5" height="55" fill="#000" />
<rect x="105" y="226" width="3" height="53" fill="#fff" />
<rect x="114" y="220" width="1" height="38" fill="#000" />
<rect x="112" y="225" width="5" height="15" fill="#000" />
<rect x="122" y="225" width="1" height="51" fill="#000" />
<rect x="120" y="232" width="5" height="8" fill="#000" />
<rect x="121" y="233" width="3" height="6" fill="#fff" />
<rect x="130" y="229" width="1" height="11" fill="#000" />
<rect x="128" y="231" width="5" height="2" fill="#000" />
<rect x="138" y="222" width="1" height="12" fill="#000" />
<rect x="136" y="223" width="5" height="10" fill="#000" />
<rect x="137" y="224" width="3" height="8" fill="#fff" />
<rect x="146" y="200" width="1" height="24" fill="#000" />
<rect x="144" y="210" width="5" height="13" fill="#000" />
<rect x="145" y="211" width="3" height="11" fill="#fff" />
<rect x="154" y="189" width="1" height="30" fill="#000" />
<rect x="152" y="196" width="5" height="14" fill="#000" />
<rect x="153" y="197" width="3" height="12" fill="#fff" />
<rect x="162" y="189" width="1" height="15" fill="#000" />
<rect x="160" y="192" width="5" height="4" fill="#000" />
<rect x="161" y="193" width="3" height="2" fill="#fff" />
<rect x="170" y="139" width="1" height="54" fill="#000" />
<rect x="168" y="149" width="5" height="42" fill="#000" />
<rect x="169" y="150" width="3" height="40" fill="#fff" />
<rect x="178" y="144" width="1" height="14" fill="#000" />
<rect x="176" y="148" width="5" height="4" fill="#000" />
<rect x="186" y="140" width="1" height="15" fill="#000" />
<rect x="184" y="141" width="5" height="9" fill="#000" />
<rect x="185" y="142" width="3" height="7" fill="#fff" />
<rect x="194" y="129" width="1" height="14" fill="#000" />
<rect x="192" y="136" width="5" height="6" fill="#000" />
<rect x="193" y="137" width="3" height="4" fill="#fff" />
<rect x="202" y="121" width="1" height="32" fill="#000" />
<rect x="200" y="136" width="5" height="7" fill="#000" />
<rect x="210" y="136" width="1" height="25" fill="#000" />
<rect x="208" y="143" width="5" height="4" fill="#000" />
<rect x="218" y="137" width="1" height="22" fill="#000" />
<rect x="216" y="146" width="5" height="7" fill="#000" />
<rect x="226" y="141" width="1" height="17" fill="#000" />
<rect x="224" y="141" width="5" height="9" fill="#000" />
<rect x="225" y="142" width="3" height="7" fill="#fff" />
<rect x="234" y="137" width="1" height="11" fill="#000" />
<rect x="232" y="140" width="5" height="4" fill="#000" />
<rect x="242" y="142" width="1" height="17" fill="#000" />
<rect x="240" y="142" width="5" height="14" fill="#000" />
<rect x="250" y="152" width="1" height="18" fill="#000" />
<rect x="248" y="152" width="5" height="3" fill="#000" />
<rect x="249" y="153" width="3" height="1" fill="#fff" />
<rect x="258" y="150" width="1" height="11" fill="#000" />
<rect x="256" y="151" width="5" height="2" fill="#000" />
<rect x="266" y="144" width="1" height="12" fill="#000" />
<rect x="264" y="146" width="5" height="7" fill="#000" />
<rect x="265" y="147" width="3" height="5" fill="#fff" />
<rect x="274" y="143" width="1" height="10" fill="#000" />
<rect x="272" y="146" width="5" height="6" fill="#000" />
<rect x="282" y="147" width="1" height="48" fill="#000" />
<rect x="280" y="150" width="5" height="38" fill="#000" />
<rect x="290" y="171" width="1" height="20" fill="#000" />
<rect x="288" y="172" width="5" height="15" fill="#000" />
<rect x="289" y="173" width="3" height="13" fill="#fff" />
<rect x="298" y="168" width="1" height="30" fill="#000" />
<rect x="296" y="170" width="5" height="3" fill="#000" />
<rect x="297" y="171" width="3" height="1" fill="#fff" />
<rect x="306" y="144" width="1" height="39" fill="#000" />
<rect x="304" y="168" width="5" height="13" fill="#000" />
<rect x="314" y="144" width="1" height="69" fill="#000" />
<rect x="312" y="180" width="5" height="15" fill="#000" />
<rect x="322" y="181" width="1" height="25" fill="#000" />
<rect x="320" y="189" width="5" height="6" fill="#000" />
<rect x="321" y="190" width="3" height="4" fill="#fff" />
<rect x="330" y="142" width="1" height="49" fill="#000" />
<rect x="328" y="150" width="5" height="39" fill="#000" />
<rect x="329" y="151" width="3" height="37" fill="#fff" />
<rect x="338" y="140" width="1" height="14" fill="#000" />
<rect x="336" y="150" width="5" height="3" fill="#000" />
<rect x="346" y="148" width="1" height="17" fill="#000" />
<rect x="344" y="153" width="5" height="1" fill="#000" />
<rect x="354" y="150" width="1" height="30" fill="#000" />
<rect x="352" y="154" width="5" height="17" fill="#000" />
<rect x="362" y="163" width="1" height="42" fill="#000" />
<rect x="360" y="172" width="5" height="9" fill="#000" />
<rect x="370" y="181" width="1" height="44" fill="#000" />
<rect x="368" y="182" width="5" height="40" fill="#000" />
<rect x="378" y="201" width="1" height="25" fill="#000" />
<rect x="376" y="220" width="5" height="3" fill="#000" />
<rect x="377" y="221" width="3" height="1" fill="#fff" />
<rect x="386" y="203" width="1" height="26" fill="#000" />
<rect x="384" y="207" width="5" height="12" fill="#000" />
<rect x="385" y="208" width="3" height="10" fill="#fff" />
<rect x="394" y="202" width="1" height="19" fill="#000" />
<rect x="392" y="202" width="5" height="6" fill="#000" />
<rect x="393" y="203" width="3" height="4" fill="#fff" />
<rect x="402" y="202" width="1" height="76" fill="#000" />
<rect x="400" y="203" width="5" height="47" fill="#000" />
<rect x="410" y="204" width="1" height="70" fill="#000" />
<rect x="408" y="205" width="5" height="43" fill="#000" />
<rect x="409" y="206" width="3" height="41" fill="#fff" />
<rect x="418" y="185" width="1" height="30" fill="#000" />
<rect x="416" y="193" width="5" height="12" fill="#000" />
<rect x="417" y="194" width="3" height="10" fill="#fff" />
<rect x="426" y="191" width="1" height="19" fill="#000" />
<rect x="424" y="193" width="5" height="9" fill="#000" />
<rect x="434" y="191" width="1" height="11" fill="#000" />
<rect x="432" y="196" width="5" height="6" fill="#000" />
<rect x="433" y="197" width="3" height="4" fill="#fff" />
<rect x="442" y="167" width="1" height="31" fill="#000" />
<rect x="440" y="176" width="5" height="20" fill="#000" />
<rect x="441" y="177" width="3" height="18" fill="#fff" />
<rect x="450" y="165" width="1" height="58" fill="#000" />
<rect x="448" y="175" width="5" height="35" fill="#000" />
<rect x="458" y="192" width="1" height="132" fill="#000" />
<rect x="456" y="210" width="5" height="60" fill="#000" />
<rect x="466" y="251" width="1" height="48" fill="#000" />
<rect x="464" y="270" width="5" height="5" fill="#000" />
<rect x="474" y="353" width="1" height="39" fill="#000" />
<rect x="472" y="354" width="5" height="22" fill="#000" />
<rect x="482" y="347" width="1" height="33" fill="#000" />
<rect x="480" y="359" width="5" height="15" fill="#000" />
<rect x="481" y="360" width="3" height="13" fill="#fff" />
<rect x="490" y="359" width="1" height="24" fill="#000" />
<rect x="488" y="360" width="5" height="16" fill="#000" />
<rect x="498" y="360" width="1" height="97" fill="#000" />
<rect x="496" y="374" width="5" height="52" fill="#000" />
<rect x="506" y="392" width="1" height="72" fill="#000" />
<rect x="504" y="424" width="5" height="1" fill="#000" />
<rect x="514" y="384" width="1" height="61" fill="#000" />
<rect x="512" y="414" width="5" height="10" fill="#000" />
<rect x="513" y="415" width="3" height="8" fill="#fff" />
<rect x="522" y="401" width="1" height="42" fill="#000" />
<rect x="520" y="412" width="5" height="2" fill="#000" />
<rect x="530" y="392" width="1" height="29" fill="#000" />
<rect x="528" y="403" width="5" height="9" fill="#000" />
<rect x="529" y="404" width="3" height="7" fill="#fff" />
<rect x="538" y="363" width="1" height="42" fill="#000" />
<rect x="536" y="371" width="5" height="33" fill="#000" />
<rect x="537" y="372" width="3" height="31" fill="#fff" />
<rect x="546" y="367" width="1" height="61" fill="#000" />
<rect x="544" y="372" width="5" height="21" fill="#000" />
<rect x="554" y="349" width="1" height="69" fill="#000" />
<rect x="552" y="355" width="5" height="36" fill="#000" />
<rect x="553" y="356" width="3" height="34" fill="#fff" />
<rect x="562" y="329" width="1" height="40" fill="#000" />
<rect x="560" y="343" width="5" height="12" fill="#000" />
<rect x="561" y="344" width="3" height="10" fill="#fff" />
<rect x="570" y="334" width="1" height="34" fill="#000" />
<rect x="568" y="342" width="5" height="21" fill="#000" />
<rect x="578" y="318" width="1" height="54" fill="#000" />
<rect x="576" y="321" width="5" height="42" fill="#000" />
<rect x="577" y="322" width="3" height="40" fill="#fff" />
<rect x="586" y="319" width="1" height="25" fill="#000" />
<rect x="584" y="321" width="5" height="17" fill="#000" />
<rect x="594" y="314" width="1" height="37" fill="#000" />
<rect x="592" y="316" width="5" height="22" fill="#000" />
<rect x="593" y="317" width="3" height="20" fill="#fff" />
<rect x="602" y="291" width="1" height="76" fill="#000" />
<rect x="600" y="316" width="5" height="1" fill="#000" />
<rect x="610" y="302" width="1" height="31" fill="#000" />
<rect x="608" y="316" width="5" height="13" fill="#000" />
<rect x="618" y="325" width="1" height="50" fill="#000" />
<rect x="616" y="327" width="5" height="26" fill="#000" />
<rect x="626" y="347" width="1" height="74" fill="#000" />
<rect x="624" y="351" width="5" height="62" fill="#000" />
<rect x="634" y="401" width="1" height="52" fill="#000" />
<rect x="632" y="412" width="5" height="25" fill="#000" />
<rect x="642" y="394" width="1" height="55" fill="#000" />
<rect x="640" y="426" width="5" height="12" fill="#000" />
<rect x="641" y="427" width="3" height="10" fill="#fff" />
<rect x="650" y="365" width="1" height="88" fill="#000" />
<rect x="648" y="424" width="5" height="22" fill="#000" />
<rect x="658" y="372" width="1" height="77" fill="#000" />
<rect x="656" y="382" width="5" height="64" fill="#000" />
<rect x="657" y="383" width="3" height="62" fill="#fff" />
<rect x="666" y="308" width="1" height="79" fill="#000" />
<rect x="664" y="322" width="5" height="60" fill="#000" />
<rect x="665" y="323" width="3" height="58" fill="#fff" />
<rect x="674" y="293" width="1" height="44" fill="#000" />
<rect x="672" y="314" width="5" height="7" fill="#000" />
<rect x="673" y="315" width="3" height="5" fill="#fff" />
<rect x="682" y="302" width="1" height="43" fill="#000" />
<rect x="680" y="314" width="5" height="28" fill="#000" />
<rect x="690" y="338" width="1" height="62" fill="#000" />
<rect x="688" y="342" width="5" height="32" fill="#000" />
<rect x="698" y="354" width="1" height="109" fill="#000" />
<rect x="696" y="372" width="5" height="87" fill="#000" />
<rect x="706" y="445" width="1" height="92" fill="#000" />
<rect x="704" y="458" width="5" height="62" fill="#000" />
<rect x="714" y="513" width="1" height="58" fill="#000" />
<rect x="712" y="519" width="5" height="6" fill="#000" />
<rect x="722" y="506" width="1" height="46" fill="#000" />
<rect x="720" y="515" width="5" height="37" fill="#000" />
<rect x="721" y="516" width="3" height="35" fill="#fff" />
<rect x="730" y="454" width="1" height="71" fill="#000" />
<rect x="728" y="475" width="5" height="42" fill="#000" />
<rect x="729" y="476" width="3" height="40" fill="#fff" />
<rect x="738" y="459" width="1" height="34" fill="#000" />
<rect x="736" y="474" width="5" height="10" fill="#000" />
<rect x="746" y="474" width="1" height="44" fill="#000" />
<rect x="744" y="482" width="5" height="14" fill="#000" />
<rect x="754" y="403" width="1" height="105" fill="#000" />
<rect x="752" y="432" width="5" height="63" fill="#000" />
<rect x="753" y="433" width="3" height="61" fill="#fff" />
<rect x="762" y="422" width="1" height="75" fill="#000" />
<rect x="760" y="432" width="5" height="41" fill="#000" />
<rect x="770" y="455" width="1" height="51" fill="#000" />
<rect x="768" y="473" width="5" height="15" fill="#000" />
<rect x="778" y="413" width="1" height="77" fill="#000" />
<rect x="776" y="422" width="5" height="65" fill="#000" />
<rect x="777" y="423" width="3" height="63" fill="#fff" />
<rect x="786" y="396" width="1" height="32" fill="#000" />
<rect x="784" y="406" width="5" height="16" fill="#000" />
<rect x="785" y="407" width="3" height="14" fill="#fff" />
<rect x="794" y="362" width="1" height="49" fill="#000" />
<rect x="792" y="368" width="5" height="40" fill="#000" />
<rect x="793" y="369" width="3" height="38" fill="#fff" />
<rect x="802" y="314" width="1" height="62" fill="#000" />
<rect x="800" y="332" width="5" height="37" fill="#000" />
<rect x="801" y="333" width="3" height="35" fill="#fff" />
<rect x="810" y="306" width="1" height="30" fill="#000" />
<rect x="808" y="322" width="5" height="10" fill="#000" />
<rect x="809" y="323" width="3" height="8" fill="#fff" />
<rect x="818" y="315" width="1" height="32" fill="#000" />
<rect x="816" y="323" width="5" height="23" fill="#000" />
<rect x="826" y="329" width="1" height="32" fill="#000" />
<rect x="824" y="342" width="5" height="5" fill="#000" />
<rect x="825" y="343" width="3" height="3" fill="#fff" />
<rect x="834" y="334" width="1" height="24" fill="#000" />
<rect x="832" y="342" width="5" height="10" fill="#000" />
<rect x="842" y="219" width="1" height="135" fill="#000" />
<rect x="840" y="255" width="5" height="98" fill="#000" />
<rect x="841" y="256" width="3" height="96" fill="#fff" />
<rect x="850" y="221" width="1" height="53" fill="#000" />
<rect x="848" y="243" width="5" height="12" fill="#000" />
<rect x="849" y="244" width="3" height="10" fill="#fff" />
<rect x="858" y="178" width="1" height="76" fill="#000" />
<rect x="856" y="182" width="5" height="62" fill="#000" />
<rect x="857" y="183" width="3" height="60" fill="#fff" />
<rect x="866" y="152" width="1" height="38" fill="#000" />
<rect x="864" y="168" width="5" height="14" fill="#000" />
<rect x="865" y="169" width="3" height="12" fill="#fff" />
<rect x="874" y="115" width="1" height="58" fill="#000" />
<rect x="872" y="121" width="5" height="51" fill="#000" />
<rect x="873" y="122" width="3" height="49" fill="#fff" />
<rect x="882" y="83" width="1" height="44" fill="#000" />
<rect x="880" y="96" width="5" height="25" fill="#000" />
<rect x="881" y="97" width="3" height="23" fill="#fff" />
<rect x="890" y="92" width="1" height="51" fill="#000" />
<rect x="888" y="96" width="5" height="17" fill="#000" />
<rect x="898" y="112" width="1" height="73" fill="#000" />
<rect x="896" y="114" width="5" height="41" fill="#000" />
<rect x="906" y="127" width="1" height="38" fill="#000" />
<rect x="904" y="140" width="5" height="15" fill="#000" />
<rect x="905" y="141" width="3" height="13" fill="#fff" />
<rect x="914" y="119" width="1" height="40" fill="#000" />
<rect x="912" y="124" width="5" height="16" fill="#000" />
<rect x="913" y="125" width="3" height="14" fill="#fff" />
<rect x="922" y="121" width="1" height="47" fill="#000" />
<rect x="920" y="124" width="5" height="23" fill="#000" />
<rect x="930" y="129" width="1" height="33" fill="#000" />
<rect x="928" y="146" width="5" height="2" fill="#000" />
<rect x="938" y="140" width="1" height="55" fill="#000" />
<rect x="936" y="145" width="5" height="29" fill="#000" />
<rect x="946" y="142" width="1" height="78" fill="#000" />
<rect x="944" y="173" width="5" height="31" fill="#000" />
<rect x="954" y="183" width="1" height="66" fill="#000" />
<rect x="952" y="204" width="5" height="27" fill="#000" />
<rect x="962" y="220" width="1" height="24" fill="#000" />
<rect x="960" y="229" width="5" height="6" fill="#000" />
<rect x="970" y="223" width="1" height="80" fill="#000" />
<rect x="968" y="246" width="5" height="35" fill="#000" />
<rect x="978" y="206" width="1" height="75" fill="#000" />
<rect x="976" y="231" width="5" height="50" fill="#000" />
<rect x="977" y="232" width="3" height="48" fill="#fff" />
<rect x="986" y="218" width="1" height="24" fill="#000" />
<rect x="984" y="231" width="5" height="6" fill="#000" />
<rect x="994" y="225" width="1" height="37" fill="#000" />
<rect x="992" y="236" width="5" height="2" fill="#000" />
<rect x="1002" y="187" width="1" height="89" fill="#000" />
<rect x="1000" y="202" width="5" height="34" fill="#000" />
<rect x="1001" y="203" width="3" height="32" fill="#fff" />
<rect x="1010" y="192" width="1" height="30" fill="#000" />
<rect x="1008" y="194" width="5" height="9" fill="#000" />
<rect x="1009" y="195" width="3" height="7" fill="#fff" />
<rect x="1018" y="162" width="1" height="34" fill="#000" />
<rect x="1016" y="168" width="5" height="27" fill="#000" />
<rect x="1017" y="169" width="3" height="25" fill="#fff" />
<rect x="1026" y="128" width="1" height="47" fill="#000" />
<rect x="1024" y="135" width="5" height="32" fill="#000" />
<rect x="1025" y="136" width="3" height="30" fill="#fff" />
<rect x="1034" y="126" width="1" height="21" fill="#000" />
<rect x="1032" y="135" width="5" height="5" fill="#000" />
<rect x="1042" y="130" width="1" height="26" fill="#000" />
<rect x="1040" y="139" width="5" height="3" fill="#000" />
<rect x="1050" y="110" width="1" height="48" fill="#000" />
<rect x="1048" y="137" width="5" height="4" fill="#000" />
<rect x="1049" y="138" width="3" height="2" fill="#fff" />
<rect x="1058" y="135" width="1" height="43" fill="#000" />
<rect x="1056" y="137" width="5" height="33" fill="#000" />
<rect x="1066" y="151" width="1" height="42" fill="#000" />
<rect x="1064" y="160" width="5" height="10" fill="#000" />
<rect x="1065" y="161" width="3" height="8" fill="#fff" />
<rect x="1074" y="150" width="1" height="27" fill="#000" />
<rect x="1072" y="153" width="5" height="7" fill="#000" />
<rect x="1073" y="154" width="3" height="5" fill="#fff" />
<rect x="1082" y="137" width="1" height="19" fill="#000" />
<rect x="1080" y="145" width="5" height="9" fill="#000" />
<rect x="1081" y="146" width="3" height="7" fill="#fff" />
<rect x="1090" y="114" width="1" height="34" fill="#000" />
<rect x="1088" y="124" width="5" height="21" fill="#000" />
<rect x="1089" y="125" width="3" height="19" fill="#fff" />
<rect x="1098" y="76" width="1" height="56" fill="#000" />
<rect x="1096" y="103" width="5" height="21" fill="#000" />
<rect x="1097" y="104" width="3" height="19" fill="#fff" />
<rect x="1106" y="79" width="1" height="32" fill="#000" />
<rect x="1104" y="86" width="5" height="17" fill="#000" />
<rect x="1105" y="87" width="3" height="15" fill="#fff" />
<rect x="1114" y="57" width="1" height="59" fill="#000" />
<rect x="1112" y="85" width="5" height="17" fill="#000" />
<rect x="1122" y="84" width="1" height="26" fill="#000" />
<rect x="1120" y="100" width="5" height="2" fill="#000" />
<rect x="1130" y="92" width="1" height="28" fill="#000" />
<rect x="1128" y="99" width="5" height="18" fill="#000" />
<rect x="1138" y="104" width="1" height="59" fill="#000" />
<rect x="1136" y="115" width="5" height="25" fill="#000" />
<rect x="1146" y="95" width="1" height="51" fill="#000" />
<rect x="1144" y="100" width="5" height="37" fill="#000" />
<rect x="1145" y="101" width="3" height="35" fill="#fff" />
<rect x="1154" y="68" width="1" height="39" fill="#000" />
<rect x="1152" y="78" width="5" height="21" fill="#000" />
<rect x="1153" y="79" width="3" height="19" fill="#fff" />
<rect x="1162" y="74" width="1" height="42" fill="#000" />
<rect x="1160" y="76" width="5" height="34" fill="#000" />
<rect x="1170" y="66" width="1" height="51" fill="#000" />
<rect x="1168" y="80" width="5" height="30" fill="#000" />
<rect x="1169" y="81" width="3" height="28" fill="#fff" />
<rect x="1178" y="73" width="1" height="17" fill="#000" />
<rect x="1176" y="80" width="5" height="2" fill="#000" />
<rect x="1186" y="79" width="1" height="23" fill="#000" />
<rect x="1184" y="82" width="5" height="7" fill="#000" />
<rect x="1194" y="78" width="1" height="49" fill="#000" />
<rect x="1192" y="88" width="5" height="18" fill="#000" />
<rect x="1202" y="103" width="1" height="53" fill="#000" />
<rect x="1200" y="105" width="5" height="30" fill="#000" />
<rect x="1210" y="108" width="1" height="40" fill="#000" />
<rect x="1208" y="109" width="5" height="28" fill="#000" />
<rect x="1209" y="110" width="3" height="26" fill="#fff" />
<rect x="1218" y="85" width="1" height="29" fill="#000" />
<rect x="1216" y="91" width="5" height="23" fill="#000" />
<rect x="1217" y="92" width="3" height="21" fill="#fff" />
<rect x="1226" y="86" width="1" height="24" fill="#000" />
<rect x="1224" y="91" width="5" height="3" fill="#000" />
<rect x="1225" y="92" width="3" height="1" fill="#fff" />
<rect x="1234" y="81" width="1" height="18" fill="#000" />
<rect x="1232" y="88" width="5" height="5" fill="#000" />
<rect x="1233" y="89" width="3" height="3" fill="#fff" />
<rect x="1242" y="84" width="1" height="17" fill="#000" />
<rect x="1240" y="88" width="5" height="5" fill="#000" />
<rect x="1250" y="84" width="1" height="19" fill="#000" />
<rect x="1248" y="88" width="5" height="6" fill="#000" />
<rect x="1249" y="89" width="3" height="4" fill="#fff" />
<rect x="1258" y="84" width="1" height="8" fill="#000" />
<rect x="1256" y="86" width="5" height="3" fill="#000" />
<rect x="1257" y="87" width="3" height="1" fill="#fff" />
<rect x="1266" y="108" width="1" height="27" fill="#000" />
<rect x="1264" y="108" width="5" height="16" fill="#000" />
<rect x="1274" y="124" width="1" height="33" fill="#000" />
<rect x="1272" y="124" width="5" height="24" fill="#000" />
<rect x="1282" y="139" width="1" height="36" fill="#000" />
<rect x="1280" y="148" width="5" height="23" fill="#000" />
<rect x="1290" y="147" width="1" height="32" fill="#000" />
<rect x="1288" y="170" width="5" height="5" fill="#000" />
<rect x="1298" y="139" width="1" height="43" fill="#000" />
<rect x="1296" y="175" width="5" height="2" fill="#000" />
<rect x="1306" y="165" width="1" height="51" fill="#000" />
<rect x="1304" y="167" width="5" height="10" fill="#000" />
<rect x="1305" y="168" width="3" height="8" fill="#fff" />
<rect x="1314" y="150" width="1" height="34" fill="#000" />
<rect x="1312" y="155" width="5" height="12" fill="#000" />
<rect x="1313" y="156" width="3" height="10" fill="#fff" />
<rect x="1322" y="137" width="1" height="30" fill="#000" />
<rect x="1320" y="139" width="5" height="16" fill="#000" />
<rect x="1321" y="140" width="3" height="14" fill="#fff" />
<rect x="1330" y="135" width="1" height="12" fill="#000" />
<rect x="1328" y="139" width="5" height="3" fill="#000" />
<rect x="1338" y="142" width="1" height="18" fill="#000" />
<rect x="1336" y="142" width="5" height="6" fill="#000" />
<rect x="1346" y="134" width="1" height="24" fill="#000" />
<rect x="1344" y="139" width="5" height="8" fill="#000" />
<rect x="1345" y="140" width="3" height="6" fill="#fff" />
<rect x="1354" y="109" width="1" height="31" fill="#000" />
<rect x="1352" y="118" width="5" height="22" fill="#000" />
<rect x="1353" y="119" width="3" height="20" fill="#fff" />
<rect x="1362" y="115" width="1" height="21" fill="#000" />
<rect x="1360" y="116" width="5" height="17" fill="#000" />
<rect x="1269" y="147" width="107" height="8" fill="#00ff00" />
<g shape-rendering="auto"><path d="M1246.5 85.5 L1311.5 212.5 L1355 134" fill="none" stroke="#ff0000" stroke-width="3" stroke-linejoin="miter"/>
<path d="M1359.5 125.5 L1358.2 139.5 L1348.6 134.2 Z" fill="#ff0000" stroke="#ff0000" stroke-width="1"/></g>
<rect x="1435" y="150" width="11" height="1" fill="#ff0000" />
<rect x="1445.5" y="138.5" width="73" height="24" fill="#fff" stroke="#ff0000" stroke-width="1"/>
<text x="1447" y="158.3" font-size="21.5" fill="#ff0000" font-weight="normal" text-anchor="start" textLength="70" lengthAdjust="spacingAndGlyphs" stroke="#ff0000" stroke-width="0.45">29278.1</text>
<text x="1385.4" y="188.4" font-size="32" fill="#003c00" font-weight="600" text-anchor="start" textLength="161" lengthAdjust="spacingAndGlyphs" font-family='"Liberation Serif", "Noto Serif CJK SC", serif' >多空转折点</text>
<text x="1384" y="187" font-size="32" fill="#00ff00" font-weight="600" text-anchor="start" textLength="161" lengthAdjust="spacingAndGlyphs" font-family='"Liberation Serif", "Noto Serif CJK SC", serif' >多空转折点</text>
<path d="M1364 31 L1373 31 L1368.5 36 Z" fill="#b4b4b4" shape-rendering="auto"/>
<rect x="0" y="30" width="1614" height="1" fill="#000" />
<rect x="1613" y="30" width="1" height="902" fill="#000" />
<rect x="0" y="583" width="1614" height="1" fill="#000" />
<rect x="0" y="585" width="1614" height="1" fill="#000" />
<rect x="0" y="755" width="1614" height="1" fill="#000" />
<rect x="0" y="757" width="1614" height="1" fill="#000" />
<rect x="0" y="931" width="1614" height="1" fill="#000" />
<rect x="1659" y="28" width="1" height="919" fill="#e3e3e3" />
<rect x="1614" y="52" width="2" height="1" fill="#000" />
<text x="1619" y="56" font-size="10" fill="#000" font-weight="normal" text-anchor="start" textLength="33" lengthAdjust="spacingAndGlyphs"  stroke="#000" stroke-width="0.22">29554.5</text>
<rect x="1614" y="85" width="2" height="1" fill="#000" />
<text x="1619" y="89" font-size="10" fill="#000" font-weight="normal" text-anchor="start" textLength="33" lengthAdjust="spacingAndGlyphs"  stroke="#000" stroke-width="0.22">29462.0</text>
<rect x="1614" y="118" width="2" height="1" fill="#000" />
<text x="1619" y="122" font-size="10" fill="#000" font-weight="normal" text-anchor="start" textLength="33" lengthAdjust="spacingAndGlyphs"  stroke="#000" stroke-width="0.22">29369.5</text>
<rect x="1614" y="151" width="2" height="1" fill="#000" />
<text x="1619" y="155" font-size="10" fill="#000" font-weight="normal" text-anchor="start" textLength="33" lengthAdjust="spacingAndGlyphs"  stroke="#000" stroke-width="0.22">29277.0</text>
<rect x="1614" y="184" width="2" height="1" fill="#000" />
<text x="1619" y="188" font-size="10" fill="#000" font-weight="normal" text-anchor="start" textLength="33" lengthAdjust="spacingAndGlyphs"  stroke="#000" stroke-width="0.22">29184.5</text>
<rect x="1614" y="217" width="2" height="1" fill="#000" />
<text x="1619" y="221" font-size="10" fill="#000" font-weight="normal" text-anchor="start" textLength="33" lengthAdjust="spacingAndGlyphs"  stroke="#000" stroke-width="0.22">29092.0</text>
<rect x="1614" y="250" width="2" height="1" fill="#000" />
<text x="1619" y="254" font-size="10" fill="#000" font-weight="normal" text-anchor="start" textLength="33" lengthAdjust="spacingAndGlyphs"  stroke="#000" stroke-width="0.22">28999.5</text>
<rect x="1614" y="283" width="2" height="1" fill="#000" />
<text x="1619" y="287" font-size="10" fill="#000" font-weight="normal" text-anchor="start" textLength="33" lengthAdjust="spacingAndGlyphs"  stroke="#000" stroke-width="0.22">28907.0</text>
<rect x="1614" y="316" width="2" height="1" fill="#000" />
<text x="1619" y="320" font-size="10" fill="#000" font-weight="normal" text-anchor="start" textLength="33" lengthAdjust="spacingAndGlyphs"  stroke="#000" stroke-width="0.22">28814.5</text>
<rect x="1614" y="349" width="2" height="1" fill="#000" />
<text x="1619" y="353" font-size="10" fill="#000" font-weight="normal" text-anchor="start" textLength="33" lengthAdjust="spacingAndGlyphs"  stroke="#000" stroke-width="0.22">28722.0</text>
<rect x="1614" y="382" width="2" height="1" fill="#000" />
<text x="1619" y="386" font-size="10" fill="#000" font-weight="normal" text-anchor="start" textLength="33" lengthAdjust="spacingAndGlyphs"  stroke="#000" stroke-width="0.22">28629.5</text>
<rect x="1614" y="415" width="2" height="1" fill="#000" />
<text x="1619" y="419" font-size="10" fill="#000" font-weight="normal" text-anchor="start" textLength="33" lengthAdjust="spacingAndGlyphs"  stroke="#000" stroke-width="0.22">28537.0</text>
<rect x="1614" y="448" width="2" height="1" fill="#000" />
<text x="1619" y="452" font-size="10" fill="#000" font-weight="normal" text-anchor="start" textLength="33" lengthAdjust="spacingAndGlyphs"  stroke="#000" stroke-width="0.22">28444.5</text>
<rect x="1614" y="481" width="2" height="1" fill="#000" />
<text x="1619" y="485" font-size="10" fill="#000" font-weight="normal" text-anchor="start" textLength="33" lengthAdjust="spacingAndGlyphs"  stroke="#000" stroke-width="0.22">28352.0</text>
<rect x="1614" y="514" width="2" height="1" fill="#000" />
<text x="1619" y="518" font-size="10" fill="#000" font-weight="normal" text-anchor="start" textLength="33" lengthAdjust="spacingAndGlyphs"  stroke="#000" stroke-width="0.22">28259.5</text>
<rect x="1614" y="547" width="2" height="1" fill="#000" />
<text x="1619" y="551" font-size="10" fill="#000" font-weight="normal" text-anchor="start" textLength="33" lengthAdjust="spacingAndGlyphs"  stroke="#000" stroke-width="0.22">28167.0</text>
<rect x="1614" y="580" width="2" height="1" fill="#000" />
<text x="1619" y="584" font-size="10" fill="#000" font-weight="normal" text-anchor="start" textLength="33" lengthAdjust="spacingAndGlyphs"  stroke="#000" stroke-width="0.22">28074.5</text>
<rect x="1615" y="67" width="41" height="11" fill="#ff0000" />
<text x="1619" y="76.3" font-size="10" fill="#fff" font-weight="normal" text-anchor="start" textLength="33" lengthAdjust="spacingAndGlyphs" stroke="#fff" stroke-width="0.2">29493.5</text>
<rect x="1608.5" y="71.5" width="4" height="4" fill="#fff" stroke="#ff0000" stroke-width="1"/>
<rect x="1615" y="96" width="41" height="11" fill="#ff0000" />
<text x="1619" y="105.3" font-size="10" fill="#fff" font-weight="normal" text-anchor="start" textLength="33" lengthAdjust="spacingAndGlyphs" stroke="#fff" stroke-width="0.2">29412.4</text>
<rect x="1608.5" y="100.5" width="4" height="4" fill="#fff" stroke="#ff0000" stroke-width="1"/>
<rect x="1615" y="127" width="41" height="11" fill="#000000" />
<text x="1619" y="136.3" font-size="10" fill="#fff" font-weight="normal" text-anchor="start" textLength="33" lengthAdjust="spacingAndGlyphs" stroke="#fff" stroke-width="0.2">29330.0</text>
<rect x="1615" y="144" width="41" height="11" fill="#32cd32" />
<text x="1619" y="153.3" font-size="10" fill="#fff" font-weight="normal" text-anchor="start" textLength="33" lengthAdjust="spacingAndGlyphs" stroke="#fff" stroke-width="0.2">29278.1</text>
<rect x="1615" y="171" width="41" height="11" fill="#0000ff" />
<text x="1619" y="180.3" font-size="10" fill="#fff" font-weight="normal" text-anchor="start" textLength="33" lengthAdjust="spacingAndGlyphs" stroke="#fff" stroke-width="0.2">29202.6</text>
<rect x="1608.5" y="175.5" width="4" height="4" fill="#fff" stroke="#0000ff" stroke-width="1"/>
<rect x="1615" y="199" width="41" height="11" fill="#0000ff" />
<text x="1619" y="208.3" font-size="10" fill="#fff" font-weight="normal" text-anchor="start" textLength="33" lengthAdjust="spacingAndGlyphs" stroke="#fff" stroke-width="0.2">29124.3</text>
<rect x="1608.5" y="203.5" width="4" height="4" fill="#fff" stroke="#0000ff" stroke-width="1"/>
<rect x="2" y="655" width="1" height="25" fill="#c0c0c0" />
<rect x="10" y="657" width="1" height="23" fill="#c0c0c0" />
<rect x="18" y="658" width="1" height="22" fill="#c0c0c0" />
<rect x="26" y="659" width="1" height="21" fill="#c0c0c0" />
<rect x="34" y="660" width="1" height="20" fill="#c0c0c0" />
<rect x="42" y="662" width="1" height="18" fill="#c0c0c0" />
<rect x="50" y="663" width="1" height="17" fill="#c0c0c0" />
<rect x="58" y="662" width="1" height="18" fill="#c0c0c0" />
<rect x="66" y="662" width="1" height="18" fill="#c0c0c0" />
<rect x="74" y="664" width="1" height="16" fill="#c0c0c0" />
<rect x="82" y="665" width="1" height="15" fill="#c0c0c0" />
<rect x="90" y="666" width="1" height="14" fill="#c0c0c0" />
<rect x="98" y="665" width="1" height="15" fill="#c0c0c0" />
<rect x="106" y="660" width="1" height="20" fill="#c0c0c0" />
<rect x="114" y="658" width="1" height="22" fill="#c0c0c0" />
<rect x="122" y="655" width="1" height="25" fill="#c0c0c0" />
<rect x="130" y="654" width="1" height="26" fill="#c0c0c0" />
<rect x="138" y="652" width="1" height="28" fill="#c0c0c0" />
<rect x="146" y="650" width="1" height="30" fill="#c0c0c0" />
<rect x="154" y="647" width="1" height="33" fill="#c0c0c0" />
<rect x="162" y="645" width="1" height="35" fill="#c0c0c0" />
<rect x="170" y="640" width="1" height="40" fill="#c0c0c0" />
<rect x="178" y="636" width="1" height="44" fill="#c0c0c0" />
<rect x="186" y="633" width="1" height="47" fill="#c0c0c0" />
<rect x="194" y="631" width="1" height="49" fill="#c0c0c0" />
<rect x="202" y="630" width="1" height="50" fill="#c0c0c0" />
<rect x="210" y="630" width="1" height="50" fill="#c0c0c0" />
<rect x="218" y="632" width="1" height="48" fill="#c0c0c0" />
<rect x="226" y="633" width="1" height="47" fill="#c0c0c0" />
<rect x="234" y="634" width="1" height="46" fill="#c0c0c0" />
<rect x="242" y="636" width="1" height="44" fill="#c0c0c0" />
<rect x="250" y="638" width="1" height="42" fill="#c0c0c0" />
<rect x="258" y="641" width="1" height="39" fill="#c0c0c0" />
<rect x="266" y="642" width="1" height="38" fill="#c0c0c0" />
<rect x="274" y="644" width="1" height="36" fill="#c0c0c0" />
<rect x="282" y="650" width="1" height="30" fill="#c0c0c0" />
<rect x="290" y="653" width="1" height="27" fill="#c0c0c0" />
<rect x="298" y="655" width="1" height="25" fill="#c0c0c0" />
<rect x="306" y="659" width="1" height="21" fill="#c0c0c0" />
<rect x="314" y="663" width="1" height="17" fill="#c0c0c0" />
<rect x="322" y="666" width="1" height="14" fill="#c0c0c0" />
<rect x="330" y="665" width="1" height="15" fill="#c0c0c0" />
<rect x="338" y="664" width="1" height="16" fill="#c0c0c0" />
<rect x="346" y="664" width="1" height="16" fill="#c0c0c0" />
<rect x="354" y="666" width="1" height="14" fill="#c0c0c0" />
<rect x="362" y="668" width="1" height="12" fill="#c0c0c0" />
<rect x="370" y="674" width="1" height="6" fill="#c0c0c0" />
<rect x="378" y="678" width="1" height="2" fill="#c0c0c0" />
<rect x="386" y="679" width="1" height="1" fill="#c0c0c0" />
<rect x="394" y="679" width="1" height="1" fill="#c0c0c0" />
<rect x="402" y="679" width="1" height="8" fill="#c0c0c0" />
<rect x="410" y="679" width="1" height="8" fill="#c0c0c0" />
<rect x="418" y="679" width="1" height="7" fill="#c0c0c0" />
<rect x="426" y="679" width="1" height="6" fill="#c0c0c0" />
<rect x="434" y="679" width="1" height="4" fill="#c0c0c0" />
<rect x="442" y="679" width="1" height="3" fill="#c0c0c0" />
<rect x="450" y="679" width="1" height="4" fill="#c0c0c0" />
<rect x="458" y="679" width="1" height="11" fill="#c0c0c0" />
<rect x="466" y="679" width="1" height="16" fill="#c0c0c0" />
<rect x="474" y="679" width="1" height="29" fill="#c0c0c0" />
<rect x="482" y="679" width="1" height="38" fill="#c0c0c0" />
<rect x="490" y="679" width="1" height="44" fill="#c0c0c0" />
<rect x="498" y="679" width="1" height="56" fill="#c0c0c0" />
<rect x="506" y="679" width="1" height="63" fill="#c0c0c0" />
<rect x="514" y="679" width="1" height="66" fill="#c0c0c0" />
<rect x="522" y="679" width="1" height="68" fill="#c0c0c0" />
<rect x="530" y="679" width="1" height="68" fill="#c0c0c0" />
<rect x="538" y="679" width="1" height="64" fill="#c0c0c0" />
<rect x="546" y="679" width="1" height="63" fill="#c0c0c0" />
<rect x="554" y="679" width="1" height="58" fill="#c0c0c0" />
<rect x="562" y="679" width="1" height="51" fill="#c0c0c0" />
<rect x="570" y="679" width="1" height="48" fill="#c0c0c0" />
<rect x="578" y="679" width="1" height="42" fill="#c0c0c0" />
<rect x="586" y="679" width="1" height="37" fill="#c0c0c0" />
<rect x="594" y="679" width="1" height="31" fill="#c0c0c0" />
<rect x="602" y="679" width="1" height="26" fill="#c0c0c0" />
<rect x="610" y="679" width="1" height="23" fill="#c0c0c0" />
<rect x="618" y="679" width="1" height="23" fill="#c0c0c0" />
<rect x="626" y="679" width="1" height="28" fill="#c0c0c0" />
<rect x="634" y="679" width="1" height="33" fill="#c0c0c0" />
<rect x="642" y="679" width="1" height="36" fill="#c0c0c0" />
<rect x="650" y="679" width="1" height="40" fill="#c0c0c0" />
<rect x="658" y="679" width="1" height="37" fill="#c0c0c0" />
<rect x="666" y="679" width="1" height="29" fill="#c0c0c0" />
<rect x="674" y="679" width="1" height="21" fill="#c0c0c0" />
<rect x="682" y="679" width="1" height="17" fill="#c0c0c0" />
<rect x="690" y="679" width="1" height="17" fill="#c0c0c0" />
<rect x="698" y="679" width="1" height="24" fill="#c0c0c0" />
<rect x="706" y="679" width="1" height="35" fill="#c0c0c0" />
<rect x="714" y="679" width="1" height="44" fill="#c0c0c0" />
<rect x="722" y="679" width="1" height="50" fill="#c0c0c0" />
<rect x="730" y="679" width="1" height="50" fill="#c0c0c0" />
<rect x="738" y="679" width="1" height="50" fill="#c0c0c0" />
<rect x="746" y="679" width="1" height="51" fill="#c0c0c0" />
<rect x="754" y="679" width="1" height="45" fill="#c0c0c0" />
<rect x="762" y="679" width="1" height="43" fill="#c0c0c0" />
<rect x="770" y="679" width="1" height="43" fill="#c0c0c0" />
<rect x="778" y="679" width="1" height="36" fill="#c0c0c0" />
<rect x="786" y="679" width="1" height="30" fill="#c0c0c0" />
<rect x="794" y="679" width="1" height="21" fill="#c0c0c0" />
<rect x="802" y="679" width="1" height="10" fill="#c0c0c0" />
<rect x="810" y="679" width="1" height="1" fill="#c0c0c0" />
<rect x="818" y="674" width="1" height="6" fill="#c0c0c0" />
<rect x="826" y="670" width="1" height="10" fill="#c0c0c0" />
<rect x="834" y="667" width="1" height="13" fill="#c0c0c0" />
<rect x="842" y="657" width="1" height="23" fill="#c0c0c0" />
<rect x="850" y="647" width="1" height="33" fill="#c0c0c0" />
<rect x="858" y="635" width="1" height="45" fill="#c0c0c0" />
<rect x="866" y="625" width="1" height="55" fill="#c0c0c0" />
<rect x="874" y="613" width="1" height="67" fill="#c0c0c0" />
<rect x="882" y="602" width="1" height="78" fill="#c0c0c0" />
<rect x="890" y="596" width="1" height="84" fill="#c0c0c0" />
<rect x="898" y="596" width="1" height="84" fill="#c0c0c0" />
<rect x="906" y="596" width="1" height="84" fill="#c0c0c0" />
<rect x="914" y="595" width="1" height="85" fill="#c0c0c0" />
<rect x="922" y="598" width="1" height="82" fill="#c0c0c0" />
<rect x="930" y="602" width="1" height="78" fill="#c0c0c0" />
<rect x="938" y="606" width="1" height="74" fill="#c0c0c0" />
<rect x="946" y="614" width="1" height="66" fill="#c0c0c0" />
<rect x="954" y="623" width="1" height="57" fill="#c0c0c0" />
<rect x="962" y="632" width="1" height="48" fill="#c0c0c0" />
<rect x="970" y="643" width="1" height="37" fill="#c0c0c0" />
<rect x="978" y="648" width="1" height="32" fill="#c0c0c0" />
<rect x="986" y="652" width="1" height="28" fill="#c0c0c0" />
<rect x="994" y="656" width="1" height="24" fill="#c0c0c0" />
<rect x="1002" y="656" width="1" height="24" fill="#c0c0c0" />
<rect x="1010" y="656" width="1" height="24" fill="#c0c0c0" />
<rect x="1018" y="654" width="1" height="26" fill="#c0c0c0" />
<rect x="1026" y="650" width="1" height="30" fill="#c0c0c0" />
<rect x="1034" y="646" width="1" height="34" fill="#c0c0c0" />
<rect x="1042" y="645" width="1" height="35" fill="#c0c0c0" />
<rect x="1050" y="643" width="1" height="37" fill="#c0c0c0" />
<rect x="1058" y="646" width="1" height="34" fill="#c0c0c0" />
<rect x="1066" y="648" width="1" height="32" fill="#c0c0c0" />
<rect x="1074" y="648" width="1" height="32" fill="#c0c0c0" />
<rect x="1082" y="648" width="1" height="32" fill="#c0c0c0" />
<rect x="1090" y="647" width="1" height="33" fill="#c0c0c0" />
<rect x="1098" y="645" width="1" height="35" fill="#c0c0c0" />
<rect x="1106" y="641" width="1" height="39" fill="#c0c0c0" />
<rect x="1114" y="640" width="1" height="40" fill="#c0c0c0" />
<rect x="1122" y="640" width="1" height="40" fill="#c0c0c0" />
<rect x="1130" y="642" width="1" height="38" fill="#c0c0c0" />
<rect x="1138" y="646" width="1" height="34" fill="#c0c0c0" />
<rect x="1146" y="646" width="1" height="34" fill="#c0c0c0" />
<rect x="1154" y="644" width="1" height="36" fill="#c0c0c0" />
<rect x="1162" y="646" width="1" height="34" fill="#c0c0c0" />
<rect x="1170" y="645" width="1" height="35" fill="#c0c0c0" />
<rect x="1178" y="645" width="1" height="35" fill="#c0c0c0" />
<rect x="1186" y="646" width="1" height="34" fill="#c0c0c0" />
<rect x="1194" y="649" width="1" height="31" fill="#c0c0c0" />
<rect x="1202" y="654" width="1" height="26" fill="#c0c0c0" />
<rect x="1210" y="656" width="1" height="24" fill="#c0c0c0" />
<rect x="1218" y="656" width="1" height="24" fill="#c0c0c0" />
<rect x="1226" y="657" width="1" height="23" fill="#c0c0c0" />
<rect x="1234" y="657" width="1" height="23" fill="#c0c0c0" />
<rect x="1242" y="658" width="1" height="22" fill="#c0c0c0" />
<rect x="1250" y="658" width="1" height="22" fill="#c0c0c0" />
<rect x="1258" y="659" width="1" height="21" fill="#c0c0c0" />
<rect x="1266" y="663" width="1" height="17" fill="#c0c0c0" />
<rect x="1274" y="668" width="1" height="12" fill="#c0c0c0" />
<rect x="1282" y="675" width="1" height="5" fill="#c0c0c0" />
<rect x="1290" y="679" width="1" height="1" fill="#c0c0c0" />
<rect x="1298" y="679" width="1" height="5" fill="#c0c0c0" />
<rect x="1306" y="679" width="1" height="9" fill="#c0c0c0" />
<rect x="1314" y="679" width="1" height="9" fill="#c0c0c0" />
<rect x="1322" y="679" width="1" height="8" fill="#c0c0c0" />
<rect x="1330" y="679" width="1" height="8" fill="#c0c0c0" />
<rect x="1338" y="679" width="1" height="8" fill="#c0c0c0" />
<rect x="1346" y="679" width="1" height="6" fill="#c0c0c0" />
<rect x="1354" y="679" width="1" height="4" fill="#c0c0c0" />
<rect x="1362" y="679" width="1" height="2" fill="#c0c0c0" />
<path d="M939 600h3v1h-3zM945 600h3v1h-3zM933 601h3v1h-3zM952 602h2v1h-2zM927 603h2v1h-2zM957 604h2v1h-2zM963 607h2v1h-2zM915 611h2v1h-2zM969 611h2v1h-2zM976 616h2v1h-2zM987 624h2v1h-2zM234 632h3v1h-3zM240 632h3v1h-3zM246 632h3v1h-3zM252 632h3v1h-3zM229 633h2v1h-2zM258 633h3v1h-3zM222 634h3v1h-3zM264 634h3v1h-3zM270 634h2v1h-2zM216 635h3v1h-3zM276 635h2v1h-2zM210 637h3v1h-3zM282 637h3v1h-3zM205 639h2v1h-2zM288 639h2v1h-2zM198 641h3v1h-3zM295 642h2v1h-2zM1155 642h3v1h-3zM1161 642h3v1h-3zM1167 642h3v1h-3zM1173 642h3v1h-3zM0 643h3v1h-3zM192 643h2v1h-2zM300 643h3v1h-3zM1011 643h2v1h-2zM1149 643h3v1h-3zM1179 643h3v1h-3zM6 644h2v1h-2zM187 644h2v1h-2zM1114 644h2v1h-2zM1119 644h3v1h-3zM1125 644h3v1h-3zM1131 644h3v1h-3zM1137 644h3v1h-3zM1143 644h2v1h-2zM1185 644h3v1h-3zM1191 644h3v1h-3zM307 645h2v1h-2zM1102 645h2v1h-2zM1107 645h3v1h-3zM1197 645h3v1h-3zM12 646h3v1h-3zM181 646h2v1h-2zM1017 646h3v1h-3zM1090 646h2v1h-2zM1095 646h3v1h-3zM1203 646h3v1h-3zM312 647h2v1h-2zM1078 647h2v1h-2zM1083 647h3v1h-3zM1209 647h3v1h-3zM18 648h3v1h-3zM175 648h2v1h-2zM1023 648h3v1h-3zM1071 648h3v1h-3zM1215 648h3v1h-3zM1059 649h3v1h-3zM1065 649h2v1h-2zM1221 649h3v1h-3zM318 650h2v1h-2zM1030 650h2v1h-2zM1035 650h3v1h-3zM1041 650h3v1h-3zM1047 650h3v1h-3zM1053 650h3v1h-3zM1227 650h3v1h-3zM25 651h2v1h-2zM168 651h2v1h-2zM1233 651h3v1h-3zM30 652h3v1h-3zM1240 652h2v1h-2zM1245 652h2v1h-2zM36 653h2v1h-2zM162 653h3v1h-3zM325 653h2v1h-2zM157 654h2v1h-2zM1251 654h3v1h-3zM43 655h2v1h-2zM330 655h3v1h-3zM1257 655h3v1h-3zM48 656h3v1h-3zM150 656h3v1h-3zM1263 656h3v1h-3zM144 657h3v1h-3zM337 657h2v1h-2zM1269 657h3v1h-3zM54 658h3v1h-3zM138 658h3v1h-3zM342 658h3v1h-3zM1275 658h3v1h-3zM60 659h3v1h-3zM133 659h2v1h-2zM67 660h2v1h-2zM72 660h3v1h-3zM127 660h2v1h-2zM349 660h2v1h-2zM1282 660h2v1h-2zM78 661h3v1h-3zM84 661h3v1h-3zM120 661h3v1h-3zM354 661h3v1h-3zM91 662h2v1h-2zM96 662h3v1h-3zM102 662h3v1h-3zM108 662h3v1h-3zM114 662h3v1h-3zM360 662h3v1h-3zM1287 662h3v1h-3zM366 663h3v1h-3zM372 664h2v1h-2zM1294 665h2v1h-2zM378 666h3v1h-3zM1300 667h2v1h-2zM384 668h3v1h-3zM1305 668h2v1h-2zM391 670h2v1h-2zM396 671h3v1h-3zM1312 671h2v1h-2zM402 673h3v1h-3zM408 674h2v1h-2zM1318 674h2v1h-2zM414 677h3v1h-3zM1324 677h2v1h-2zM420 679h2v1h-2zM847 679h2v1h-2zM1329 679h3v1h-3zM426 680h3v1h-3zM432 681h3v1h-3zM1335 681h2v1h-2zM439 683h2v1h-2zM444 683h3v1h-3zM1341 683h3v1h-3zM450 684h3v1h-3zM1347 684h2v1h-2zM457 685h2v1h-2zM1353 685h3v1h-3zM1359 685h3v1h-3zM463 686h2v1h-2zM468 687h3v1h-3zM474 689h3v1h-3zM480 691h2v1h-2zM486 694h2v1h-2zM493 698h2v1h-2zM697 706h2v1h-2zM702 706h3v1h-3zM690 707h3v1h-3zM708 707h3v1h-3zM714 707h3v1h-3zM678 708h3v1h-3zM684 708h3v1h-3zM720 708h3v1h-3zM642 709h3v1h-3zM648 709h3v1h-3zM654 709h3v1h-3zM660 709h3v1h-3zM666 709h3v1h-3zM672 709h2v1h-2zM726 709h3v1h-3zM637 710h2v1h-2zM732 710h2v1h-2zM810 710h2v1h-2zM630 712h3v1h-3zM738 712h2v1h-2zM624 714h3v1h-3zM804 714h2v1h-2zM744 715h2v1h-2zM619 716h2v1h-2zM798 717h2v1h-2zM516 718h2v1h-2zM750 718h3v1h-3zM612 720h2v1h-2zM757 720h2v1h-2zM792 720h2v1h-2zM763 722h2v1h-2zM787 722h2v1h-2zM607 723h2v1h-2zM768 723h2v1h-2zM774 724h3v1h-3zM780 724h3v1h-3zM600 727h2v1h-2zM594 730h2v1h-2zM589 732h2v1h-2zM540 735h3v1h-3zM582 735h2v1h-2zM547 737h2v1h-2zM577 737h2v1h-2zM553 740h2v1h-2zM558 740h3v1h-3zM564 740h3v1h-3zM570 740h2v1h-2zM8 645h1v1h-1zM24 650h1v1h-1zM38 654h1v1h-1zM42 654h1v1h-1zM66 659h1v1h-1zM90 661h1v1h-1zM126 661h1v1h-1zM132 660h1v1h-1zM156 655h1v1h-1zM170 650h1v1h-1zM174 649h1v1h-1zM180 647h1v1h-1zM186 645h1v1h-1zM194 642h1v1h-1zM204 640h1v1h-1zM228 634h1v1h-1zM272 635h1v1h-1zM278 636h1v1h-1zM290 640h1v1h-1zM294 641h1v1h-1zM306 644h1v1h-1zM314 648h1v1h-1zM320 651h1v1h-1zM324 652h1v1h-1zM336 656h1v1h-1zM348 659h1v1h-1zM374 665h1v1h-1zM390 669h1v1h-1zM410 675h1v1h-1zM422 680h1v1h-1zM438 682h1v1h-1zM456 684h1v1h-1zM462 685h1v1h-1zM482 692h1v1h-1zM488 695h1v1h-1zM492 697h1v1h-1zM498 701h1v1h-1zM499 702h1v1h-1zM500 703h1v1h-1zM504 706h1v1h-1zM505 707h1v1h-1zM506 708h1v1h-1zM510 712h1v1h-1zM511 713h1v1h-1zM512 714h1v1h-1zM518 719h1v1h-1zM522 721h1v1h-1zM523 722h1v1h-1zM524 723h1v1h-1zM528 726h1v1h-1zM529 727h1v1h-1zM530 728h1v1h-1zM534 731h1v1h-1zM535 732h1v1h-1zM536 733h1v1h-1zM546 736h1v1h-1zM552 739h1v1h-1zM572 739h1v1h-1zM576 738h1v1h-1zM584 734h1v1h-1zM588 733h1v1h-1zM596 729h1v1h-1zM602 726h1v1h-1zM606 724h1v1h-1zM614 719h1v1h-1zM618 717h1v1h-1zM636 711h1v1h-1zM674 708h1v1h-1zM696 707h1v1h-1zM734 711h1v1h-1zM740 713h1v1h-1zM746 716h1v1h-1zM756 719h1v1h-1zM762 721h1v1h-1zM770 724h1v1h-1zM786 723h1v1h-1zM794 719h1v1h-1zM800 716h1v1h-1zM806 713h1v1h-1zM812 709h1v1h-1zM816 706h1v1h-1zM817 705h1v1h-1zM818 704h1v1h-1zM822 701h1v1h-1zM823 700h1v1h-1zM824 699h1v1h-1zM828 696h1v1h-1zM829 695h1v1h-1zM830 694h1v1h-1zM834 691h1v1h-1zM835 690h1v1h-1zM836 689h1v1h-1zM840 686h1v1h-1zM841 685h1v1h-1zM842 684h1v1h-1zM846 680h1v1h-1zM852 675h1v1h-1zM853 674h1v1h-1zM854 673h1v1h-1zM857 669h1v1h-1zM858 668h1v1h-1zM859 667h1v1h-1zM862 663h1v1h-1zM863 662h1v1h-1zM864 661h1v1h-1zM868 657h1v1h-1zM869 656h1v1h-1zM870 655h1v1h-1zM874 652h1v1h-1zM875 651h1v1h-1zM876 650h1v1h-1zM880 646h1v1h-1zM881 645h1v1h-1zM882 644h1v1h-1zM885 640h1v1h-1zM886 639h1v1h-1zM887 638h1v1h-1zM891 634h1v1h-1zM892 633h1v1h-1zM893 632h1v1h-1zM897 628h1v1h-1zM898 627h1v1h-1zM899 626h1v1h-1zM903 622h1v1h-1zM904 621h1v1h-1zM905 620h1v1h-1zM909 617h1v1h-1zM910 616h1v1h-1zM911 615h1v1h-1zM917 610h1v1h-1zM921 607h1v1h-1zM922 606h1v1h-1zM923 605h1v1h-1zM929 602h1v1h-1zM951 601h1v1h-1zM959 605h1v1h-1zM965 608h1v1h-1zM971 612h1v1h-1zM975 615h1v1h-1zM981 619h1v1h-1zM982 620h1v1h-1zM983 621h1v1h-1zM989 625h1v1h-1zM993 628h1v1h-1zM994 629h1v1h-1zM995 630h1v1h-1zM999 633h1v1h-1zM1000 634h1v1h-1zM1001 635h1v1h-1zM1005 638h1v1h-1zM1006 639h1v1h-1zM1007 640h1v1h-1zM1013 644h1v1h-1zM1029 649h1v1h-1zM1067 648h1v1h-1zM1077 648h1v1h-1zM1089 647h1v1h-1zM1101 646h1v1h-1zM1113 645h1v1h-1zM1145 643h1v1h-1zM1239 651h1v1h-1zM1247 653h1v1h-1zM1281 659h1v1h-1zM1293 664h1v1h-1zM1299 666h1v1h-1zM1307 669h1v1h-1zM1311 670h1v1h-1zM1317 673h1v1h-1zM1323 676h1v1h-1zM1337 682h1v1h-1zM1349 685h1v1h-1z" fill="#ff0000"/>
<text x="-1" y="598" font-size="10" fill="#000" font-weight="normal" text-anchor="start" textLength="118" lengthAdjust="spacingAndGlyphs"  stroke="#000" stroke-width="0.22">MACD(12,26,9) -7.17 -15.39</text>
<rect x="1614" y="586" width="1" height="1" fill="#000" />
<text x="1617" y="596" font-size="10" fill="#000" font-weight="normal" text-anchor="start" textLength="28" lengthAdjust="spacingAndGlyphs"  stroke="#000" stroke-width="0.22">226.15</text>
<rect x="1614" y="679" width="2" height="1" fill="#000" />
<text x="1617" y="683" font-size="10" fill="#000" font-weight="normal" text-anchor="start" textLength="18" lengthAdjust="spacingAndGlyphs"  stroke="#000" stroke-width="0.22">0.00</text>
<rect x="1614" y="754" width="1" height="1" fill="#000" />
<text x="1617" y="752" font-size="10" fill="#000" font-weight="normal" text-anchor="start" textLength="26" lengthAdjust="spacingAndGlyphs"  stroke="#000" stroke-width="0.22">-186.7</text>
<path d="M0 793h3v1h-3zM6 793h3v1h-3zM12 793h3v1h-3zM18 793h3v1h-3zM24 793h3v1h-3zM30 793h3v1h-3zM36 793h3v1h-3zM42 793h3v1h-3zM48 793h3v1h-3zM54 793h3v1h-3zM60 793h3v1h-3zM66 793h3v1h-3zM72 793h3v1h-3zM78 793h3v1h-3zM84 793h3v1h-3zM90 793h3v1h-3zM96 793h3v1h-3zM102 793h3v1h-3zM108 793h3v1h-3zM114 793h3v1h-3zM120 793h3v1h-3zM126 793h3v1h-3zM132 793h3v1h-3zM138 793h3v1h-3zM144 793h3v1h-3zM150 793h3v1h-3zM156 793h3v1h-3zM162 793h3v1h-3zM168 793h3v1h-3zM174 793h3v1h-3zM180 793h3v1h-3zM186 793h3v1h-3zM192 793h3v1h-3zM198 793h3v1h-3zM204 793h3v1h-3zM210 793h3v1h-3zM216 793h3v1h-3zM222 793h3v1h-3zM228 793h3v1h-3zM234 793h3v1h-3zM240 793h3v1h-3zM246 793h3v1h-3zM252 793h3v1h-3zM258 793h3v1h-3zM264 793h3v1h-3zM270 793h3v1h-3zM276 793h3v1h-3zM282 793h3v1h-3zM288 793h3v1h-3zM294 793h3v1h-3zM300 793h3v1h-3zM306 793h3v1h-3zM312 793h3v1h-3zM318 793h3v1h-3zM324 793h3v1h-3zM330 793h3v1h-3zM336 793h3v1h-3zM342 793h3v1h-3zM348 793h3v1h-3zM354 793h3v1h-3zM360 793h3v1h-3zM366 793h3v1h-3zM372 793h3v1h-3zM378 793h3v1h-3zM384 793h3v1h-3zM390 793h3v1h-3zM396 793h3v1h-3zM402 793h3v1h-3zM408 793h3v1h-3zM414 793h3v1h-3zM420 793h3v1h-3zM426 793h3v1h-3zM432 793h3v1h-3zM438 793h3v1h-3zM444 793h3v1h-3zM450 793h3v1h-3zM456 793h3v1h-3zM462 793h3v1h-3zM468 793h3v1h-3zM474 793h3v1h-3zM480 793h3v1h-3zM486 793h3v1h-3zM492 793h3v1h-3zM498 793h3v1h-3zM504 793h3v1h-3zM510 793h3v1h-3zM516 793h3v1h-3zM522 793h3v1h-3zM528 793h3v1h-3zM534 793h3v1h-3zM540 793h3v1h-3zM546 793h3v1h-3zM552 793h3v1h-3zM558 793h3v1h-3zM564 793h3v1h-3zM570 793h3v1h-3zM576 793h3v1h-3zM582 793h3v1h-3zM588 793h3v1h-3zM594 793h3v1h-3zM600 793h3v1h-3zM606 793h3v1h-3zM612 793h3v1h-3zM618 793h3v1h-3zM624 793h3v1h-3zM630 793h3v1h-3zM636 793h3v1h-3zM642 793h3v1h-3zM648 793h3v1h-3zM654 793h3v1h-3zM660 793h3v1h-3zM666 793h3v1h-3zM672 793h3v1h-3zM678 793h3v1h-3zM684 793h3v1h-3zM690 793h3v1h-3zM696 793h3v1h-3zM702 793h3v1h-3zM708 793h3v1h-3zM714 793h3v1h-3zM720 793h3v1h-3zM726 793h3v1h-3zM732 793h3v1h-3zM738 793h3v1h-3zM744 793h3v1h-3zM750 793h3v1h-3zM756 793h3v1h-3zM762 793h3v1h-3zM768 793h3v1h-3zM774 793h3v1h-3zM780 793h3v1h-3zM786 793h3v1h-3zM792 793h3v1h-3zM798 793h3v1h-3zM804 793h3v1h-3zM810 793h3v1h-3zM816 793h3v1h-3zM822 793h3v1h-3zM828 793h3v1h-3zM834 793h3v1h-3zM840 793h3v1h-3zM846 793h3v1h-3zM852 793h3v1h-3zM858 793h3v1h-3zM864 793h3v1h-3zM870 793h3v1h-3zM876 793h3v1h-3zM882 793h3v1h-3zM888 793h3v1h-3zM894 793h3v1h-3zM900 793h3v1h-3zM906 793h3v1h-3zM912 793h3v1h-3zM918 793h3v1h-3zM924 793h3v1h-3zM930 793h3v1h-3zM936 793h3v1h-3zM942 793h3v1h-3zM948 793h3v1h-3zM954 793h3v1h-3zM960 793h3v1h-3zM966 793h3v1h-3zM972 793h3v1h-3zM978 793h3v1h-3zM984 793h3v1h-3zM990 793h3v1h-3zM996 793h3v1h-3zM1002 793h3v1h-3zM1008 793h3v1h-3zM1014 793h3v1h-3zM1020 793h3v1h-3zM1026 793h3v1h-3zM1032 793h3v1h-3zM1038 793h3v1h-3zM1044 793h3v1h-3zM1050 793h3v1h-3zM1056 793h3v1h-3zM1062 793h3v1h-3zM1068 793h3v1h-3zM1074 793h3v1h-3zM1080 793h3v1h-3zM1086 793h3v1h-3zM1092 793h3v1h-3zM1098 793h3v1h-3zM1104 793h3v1h-3zM1110 793h3v1h-3zM1116 793h3v1h-3zM1122 793h3v1h-3zM1128 793h3v1h-3zM1134 793h3v1h-3zM1140 793h3v1h-3zM1146 793h3v1h-3zM1152 793h3v1h-3zM1158 793h3v1h-3zM1164 793h3v1h-3zM1170 793h3v1h-3zM1176 793h3v1h-3zM1182 793h3v1h-3zM1188 793h3v1h-3zM1194 793h3v1h-3zM1200 793h3v1h-3zM1206 793h3v1h-3zM1212 793h3v1h-3zM1218 793h3v1h-3zM1224 793h3v1h-3zM1230 793h3v1h-3zM1236 793h3v1h-3zM1242 793h3v1h-3zM1248 793h3v1h-3zM1254 793h3v1h-3zM1260 793h3v1h-3zM1266 793h3v1h-3zM1272 793h3v1h-3zM1278 793h3v1h-3zM1284 793h3v1h-3zM1290 793h3v1h-3zM1296 793h3v1h-3zM1302 793h3v1h-3zM1308 793h3v1h-3zM1314 793h3v1h-3zM1320 793h3v1h-3zM1326 793h3v1h-3zM1332 793h3v1h-3zM1338 793h3v1h-3zM1344 793h3v1h-3zM1350 793h3v1h-3zM1356 793h3v1h-3zM1362 793h3v1h-3zM1368 793h3v1h-3zM1374 793h3v1h-3zM1380 793h3v1h-3zM1386 793h3v1h-3zM1392 793h3v1h-3zM1398 793h3v1h-3zM1404 793h3v1h-3zM1410 793h3v1h-3zM1416 793h3v1h-3zM1422 793h3v1h-3zM1428 793h3v1h-3zM1434 793h3v1h-3zM1440 793h3v1h-3zM1446 793h3v1h-3zM1452 793h3v1h-3zM1458 793h3v1h-3zM1464 793h3v1h-3zM1470 793h3v1h-3zM1476 793h3v1h-3zM1482 793h3v1h-3zM1488 793h3v1h-3zM1494 793h3v1h-3zM1500 793h3v1h-3zM1506 793h3v1h-3zM1512 793h3v1h-3zM1518 793h3v1h-3zM1524 793h3v1h-3zM1530 793h3v1h-3zM1536 793h3v1h-3zM1542 793h3v1h-3zM1548 793h3v1h-3zM1554 793h3v1h-3zM1560 793h3v1h-3zM1566 793h3v1h-3zM1572 793h3v1h-3zM1578 793h3v1h-3zM1584 793h3v1h-3zM1590 793h3v1h-3zM1596 793h3v1h-3zM1602 793h3v1h-3zM1608 793h3v1h-3z" fill="#c0c0c0"/>
<path d="M0 844h3v1h-3zM6 844h3v1h-3zM12 844h3v1h-3zM18 844h3v1h-3zM24 844h3v1h-3zM30 844h3v1h-3zM36 844h3v1h-3zM42 844h3v1h-3zM48 844h3v1h-3zM54 844h3v1h-3zM60 844h3v1h-3zM66 844h3v1h-3zM72 844h3v1h-3zM78 844h3v1h-3zM84 844h3v1h-3zM90 844h3v1h-3zM96 844h3v1h-3zM102 844h3v1h-3zM108 844h3v1h-3zM114 844h3v1h-3zM120 844h3v1h-3zM126 844h3v1h-3zM132 844h3v1h-3zM138 844h3v1h-3zM144 844h3v1h-3zM150 844h3v1h-3zM156 844h3v1h-3zM162 844h3v1h-3zM168 844h3v1h-3zM174 844h3v1h-3zM180 844h3v1h-3zM186 844h3v1h-3zM192 844h3v1h-3zM198 844h3v1h-3zM204 844h3v1h-3zM210 844h3v1h-3zM216 844h3v1h-3zM222 844h3v1h-3zM228 844h3v1h-3zM234 844h3v1h-3zM240 844h3v1h-3zM246 844h3v1h-3zM252 844h3v1h-3zM258 844h3v1h-3zM264 844h3v1h-3zM270 844h3v1h-3zM276 844h3v1h-3zM282 844h3v1h-3zM288 844h3v1h-3zM294 844h3v1h-3zM300 844h3v1h-3zM306 844h3v1h-3zM312 844h3v1h-3zM318 844h3v1h-3zM324 844h3v1h-3zM330 844h3v1h-3zM336 844h3v1h-3zM342 844h3v1h-3zM348 844h3v1h-3zM354 844h3v1h-3zM360 844h3v1h-3zM366 844h3v1h-3zM372 844h3v1h-3zM378 844h3v1h-3zM384 844h3v1h-3zM390 844h3v1h-3zM396 844h3v1h-3zM402 844h3v1h-3zM408 844h3v1h-3zM414 844h3v1h-3zM420 844h3v1h-3zM426 844h3v1h-3zM432 844h3v1h-3zM438 844h3v1h-3zM444 844h3v1h-3zM450 844h3v1h-3zM456 844h3v1h-3zM462 844h3v1h-3zM468 844h3v1h-3zM474 844h3v1h-3zM480 844h3v1h-3zM486 844h3v1h-3zM492 844h3v1h-3zM498 844h3v1h-3zM504 844h3v1h-3zM510 844h3v1h-3zM516 844h3v1h-3zM522 844h3v1h-3zM528 844h3v1h-3zM534 844h3v1h-3zM540 844h3v1h-3zM546 844h3v1h-3zM552 844h3v1h-3zM558 844h3v1h-3zM564 844h3v1h-3zM570 844h3v1h-3zM576 844h3v1h-3zM582 844h3v1h-3zM588 844h3v1h-3zM594 844h3v1h-3zM600 844h3v1h-3zM606 844h3v1h-3zM612 844h3v1h-3zM618 844h3v1h-3zM624 844h3v1h-3zM630 844h3v1h-3zM636 844h3v1h-3zM642 844h3v1h-3zM648 844h3v1h-3zM654 844h3v1h-3zM660 844h3v1h-3zM666 844h3v1h-3zM672 844h3v1h-3zM678 844h3v1h-3zM684 844h3v1h-3zM690 844h3v1h-3zM696 844h3v1h-3zM702 844h3v1h-3zM708 844h3v1h-3zM714 844h3v1h-3zM720 844h3v1h-3zM726 844h3v1h-3zM732 844h3v1h-3zM738 844h3v1h-3zM744 844h3v1h-3zM750 844h3v1h-3zM756 844h3v1h-3zM762 844h3v1h-3zM768 844h3v1h-3zM774 844h3v1h-3zM780 844h3v1h-3zM786 844h3v1h-3zM792 844h3v1h-3zM798 844h3v1h-3zM804 844h3v1h-3zM810 844h3v1h-3zM816 844h3v1h-3zM822 844h3v1h-3zM828 844h3v1h-3zM834 844h3v1h-3zM840 844h3v1h-3zM846 844h3v1h-3zM852 844h3v1h-3zM858 844h3v1h-3zM864 844h3v1h-3zM870 844h3v1h-3zM876 844h3v1h-3zM882 844h3v1h-3zM888 844h3v1h-3zM894 844h3v1h-3zM900 844h3v1h-3zM906 844h3v1h-3zM912 844h3v1h-3zM918 844h3v1h-3zM924 844h3v1h-3zM930 844h3v1h-3zM936 844h3v1h-3zM942 844h3v1h-3zM948 844h3v1h-3zM954 844h3v1h-3zM960 844h3v1h-3zM966 844h3v1h-3zM972 844h3v1h-3zM978 844h3v1h-3zM984 844h3v1h-3zM990 844h3v1h-3zM996 844h3v1h-3zM1002 844h3v1h-3zM1008 844h3v1h-3zM1014 844h3v1h-3zM1020 844h3v1h-3zM1026 844h3v1h-3zM1032 844h3v1h-3zM1038 844h3v1h-3zM1044 844h3v1h-3zM1050 844h3v1h-3zM1056 844h3v1h-3zM1062 844h3v1h-3zM1068 844h3v1h-3zM1074 844h3v1h-3zM1080 844h3v1h-3zM1086 844h3v1h-3zM1092 844h3v1h-3zM1098 844h3v1h-3zM1104 844h3v1h-3zM1110 844h3v1h-3zM1116 844h3v1h-3zM1122 844h3v1h-3zM1128 844h3v1h-3zM1134 844h3v1h-3zM1140 844h3v1h-3zM1146 844h3v1h-3zM1152 844h3v1h-3zM1158 844h3v1h-3zM1164 844h3v1h-3zM1170 844h3v1h-3zM1176 844h3v1h-3zM1182 844h3v1h-3zM1188 844h3v1h-3zM1194 844h3v1h-3zM1200 844h3v1h-3zM1206 844h3v1h-3zM1212 844h3v1h-3zM1218 844h3v1h-3zM1224 844h3v1h-3zM1230 844h3v1h-3zM1236 844h3v1h-3zM1242 844h3v1h-3zM1248 844h3v1h-3zM1254 844h3v1h-3zM1260 844h3v1h-3zM1266 844h3v1h-3zM1272 844h3v1h-3zM1278 844h3v1h-3zM1284 844h3v1h-3zM1290 844h3v1h-3zM1296 844h3v1h-3zM1302 844h3v1h-3zM1308 844h3v1h-3zM1314 844h3v1h-3zM1320 844h3v1h-3zM1326 844h3v1h-3zM1332 844h3v1h-3zM1338 844h3v1h-3zM1344 844h3v1h-3zM1350 844h3v1h-3zM1356 844h3v1h-3zM1362 844h3v1h-3zM1368 844h3v1h-3zM1374 844h3v1h-3zM1380 844h3v1h-3zM1386 844h3v1h-3zM1392 844h3v1h-3zM1398 844h3v1h-3zM1404 844h3v1h-3zM1410 844h3v1h-3zM1416 844h3v1h-3zM1422 844h3v1h-3zM1428 844h3v1h-3zM1434 844h3v1h-3zM1440 844h3v1h-3zM1446 844h3v1h-3zM1452 844h3v1h-3zM1458 844h3v1h-3zM1464 844h3v1h-3zM1470 844h3v1h-3zM1476 844h3v1h-3zM1482 844h3v1h-3zM1488 844h3v1h-3zM1494 844h3v1h-3zM1500 844h3v1h-3zM1506 844h3v1h-3zM1512 844h3v1h-3zM1518 844h3v1h-3zM1524 844h3v1h-3zM1530 844h3v1h-3zM1536 844h3v1h-3zM1542 844h3v1h-3zM1548 844h3v1h-3zM1554 844h3v1h-3zM1560 844h3v1h-3zM1566 844h3v1h-3zM1572 844h3v1h-3zM1578 844h3v1h-3zM1584 844h3v1h-3zM1590 844h3v1h-3zM1596 844h3v1h-3zM1602 844h3v1h-3zM1608 844h3v1h-3z" fill="#c0c0c0"/>
<path d="M0 905h3v1h-3zM6 905h3v1h-3zM12 905h3v1h-3zM18 905h3v1h-3zM24 905h3v1h-3zM30 905h3v1h-3zM36 905h3v1h-3zM42 905h3v1h-3zM48 905h3v1h-3zM54 905h3v1h-3zM60 905h3v1h-3zM66 905h3v1h-3zM72 905h3v1h-3zM78 905h3v1h-3zM84 905h3v1h-3zM90 905h3v1h-3zM96 905h3v1h-3zM102 905h3v1h-3zM108 905h3v1h-3zM114 905h3v1h-3zM120 905h3v1h-3zM126 905h3v1h-3zM132 905h3v1h-3zM138 905h3v1h-3zM144 905h3v1h-3zM150 905h3v1h-3zM156 905h3v1h-3zM162 905h3v1h-3zM168 905h3v1h-3zM174 905h3v1h-3zM180 905h3v1h-3zM186 905h3v1h-3zM192 905h3v1h-3zM198 905h3v1h-3zM204 905h3v1h-3zM210 905h3v1h-3zM216 905h3v1h-3zM222 905h3v1h-3zM228 905h3v1h-3zM234 905h3v1h-3zM240 905h3v1h-3zM246 905h3v1h-3zM252 905h3v1h-3zM258 905h3v1h-3zM264 905h3v1h-3zM270 905h3v1h-3zM276 905h3v1h-3zM282 905h3v1h-3zM288 905h3v1h-3zM294 905h3v1h-3zM300 905h3v1h-3zM306 905h3v1h-3zM312 905h3v1h-3zM318 905h3v1h-3zM324 905h3v1h-3zM330 905h3v1h-3zM336 905h3v1h-3zM342 905h3v1h-3zM348 905h3v1h-3zM354 905h3v1h-3zM360 905h3v1h-3zM366 905h3v1h-3zM372 905h3v1h-3zM378 905h3v1h-3zM384 905h3v1h-3zM390 905h3v1h-3zM396 905h3v1h-3zM402 905h3v1h-3zM408 905h3v1h-3zM414 905h3v1h-3zM420 905h3v1h-3zM426 905h3v1h-3zM432 905h3v1h-3zM438 905h3v1h-3zM444 905h3v1h-3zM450 905h3v1h-3zM456 905h3v1h-3zM462 905h3v1h-3zM468 905h3v1h-3zM474 905h3v1h-3zM480 905h3v1h-3zM486 905h3v1h-3zM492 905h3v1h-3zM498 905h3v1h-3zM504 905h3v1h-3zM510 905h3v1h-3zM516 905h3v1h-3zM522 905h3v1h-3zM528 905h3v1h-3zM534 905h3v1h-3zM540 905h3v1h-3zM546 905h3v1h-3zM552 905h3v1h-3zM558 905h3v1h-3zM564 905h3v1h-3zM570 905h3v1h-3zM576 905h3v1h-3zM582 905h3v1h-3zM588 905h3v1h-3zM594 905h3v1h-3zM600 905h3v1h-3zM606 905h3v1h-3zM612 905h3v1h-3zM618 905h3v1h-3zM624 905h3v1h-3zM630 905h3v1h-3zM636 905h3v1h-3zM642 905h3v1h-3zM648 905h3v1h-3zM654 905h3v1h-3zM660 905h3v1h-3zM666 905h3v1h-3zM672 905h3v1h-3zM678 905h3v1h-3zM684 905h3v1h-3zM690 905h3v1h-3zM696 905h3v1h-3zM702 905h3v1h-3zM708 905h3v1h-3zM714 905h3v1h-3zM720 905h3v1h-3zM726 905h3v1h-3zM732 905h3v1h-3zM738 905h3v1h-3zM744 905h3v1h-3zM750 905h3v1h-3zM756 905h3v1h-3zM762 905h3v1h-3zM768 905h3v1h-3zM774 905h3v1h-3zM780 905h3v1h-3zM786 905h3v1h-3zM792 905h3v1h-3zM798 905h3v1h-3zM804 905h3v1h-3zM810 905h3v1h-3zM816 905h3v1h-3zM822 905h3v1h-3zM828 905h3v1h-3zM834 905h3v1h-3zM840 905h3v1h-3zM846 905h3v1h-3zM852 905h3v1h-3zM858 905h3v1h-3zM864 905h3v1h-3zM870 905h3v1h-3zM876 905h3v1h-3zM882 905h3v1h-3zM888 905h3v1h-3zM894 905h3v1h-3zM900 905h3v1h-3zM906 905h3v1h-3zM912 905h3v1h-3zM918 905h3v1h-3zM924 905h3v1h-3zM930 905h3v1h-3zM936 905h3v1h-3zM942 905h3v1h-3zM948 905h3v1h-3zM954 905h3v1h-3zM960 905h3v1h-3zM966 905h3v1h-3zM972 905h3v1h-3zM978 905h3v1h-3zM984 905h3v1h-3zM990 905h3v1h-3zM996 905h3v1h-3zM1002 905h3v1h-3zM1008 905h3v1h-3zM1014 905h3v1h-3zM1020 905h3v1h-3zM1026 905h3v1h-3zM1032 905h3v1h-3zM1038 905h3v1h-3zM1044 905h3v1h-3zM1050 905h3v1h-3zM1056 905h3v1h-3zM1062 905h3v1h-3zM1068 905h3v1h-3zM1074 905h3v1h-3zM1080 905h3v1h-3zM1086 905h3v1h-3zM1092 905h3v1h-3zM1098 905h3v1h-3zM1104 905h3v1h-3zM1110 905h3v1h-3zM1116 905h3v1h-3zM1122 905h3v1h-3zM1128 905h3v1h-3zM1134 905h3v1h-3zM1140 905h3v1h-3zM1146 905h3v1h-3zM1152 905h3v1h-3zM1158 905h3v1h-3zM1164 905h3v1h-3zM1170 905h3v1h-3zM1176 905h3v1h-3zM1182 905h3v1h-3zM1188 905h3v1h-3zM1194 905h3v1h-3zM1200 905h3v1h-3zM1206 905h3v1h-3zM1212 905h3v1h-3zM1218 905h3v1h-3zM1224 905h3v1h-3zM1230 905h3v1h-3zM1236 905h3v1h-3zM1242 905h3v1h-3zM1248 905h3v1h-3zM1254 905h3v1h-3zM1260 905h3v1h-3zM1266 905h3v1h-3zM1272 905h3v1h-3zM1278 905h3v1h-3zM1284 905h3v1h-3zM1290 905h3v1h-3zM1296 905h3v1h-3zM1302 905h3v1h-3zM1308 905h3v1h-3zM1314 905h3v1h-3zM1320 905h3v1h-3zM1326 905h3v1h-3zM1332 905h3v1h-3zM1338 905h3v1h-3zM1344 905h3v1h-3zM1350 905h3v1h-3zM1356 905h3v1h-3zM1362 905h3v1h-3zM1368 905h3v1h-3zM1374 905h3v1h-3zM1380 905h3v1h-3zM1386 905h3v1h-3zM1392 905h3v1h-3zM1398 905h3v1h-3zM1404 905h3v1h-3zM1410 905h3v1h-3zM1416 905h3v1h-3zM1422 905h3v1h-3zM1428 905h3v1h-3zM1434 905h3v1h-3zM1440 905h3v1h-3zM1446 905h3v1h-3zM1452 905h3v1h-3zM1458 905h3v1h-3zM1464 905h3v1h-3zM1470 905h3v1h-3zM1476 905h3v1h-3zM1482 905h3v1h-3zM1488 905h3v1h-3zM1494 905h3v1h-3zM1500 905h3v1h-3zM1506 905h3v1h-3zM1512 905h3v1h-3zM1518 905h3v1h-3zM1524 905h3v1h-3zM1530 905h3v1h-3zM1536 905h3v1h-3zM1542 905h3v1h-3zM1548 905h3v1h-3zM1554 905h3v1h-3zM1560 905h3v1h-3zM1566 905h3v1h-3zM1572 905h3v1h-3zM1578 905h3v1h-3zM1584 905h3v1h-3zM1590 905h3v1h-3zM1596 905h3v1h-3zM1602 905h3v1h-3zM1608 905h3v1h-3z" fill="#c0c0c0"/>
<path d="M191 797h5v1h-5zM170 798h3v1h-3zM185 798h6v1h-6zM196 798h2v1h-2zM173 799h4v1h-4zM181 799h4v1h-4zM198 799h2v1h-2zM177 800h4v1h-4zM200 800h2v1h-2zM881 800h2v1h-2zM202 801h2v1h-2zM879 801h2v1h-2zM883 801h2v1h-2zM204 802h2v1h-2zM876 802h3v1h-3zM885 802h2v1h-2zM206 803h2v1h-2zM874 803h2v1h-2zM208 804h2v1h-2zM872 804h2v1h-2zM888 804h2v1h-2zM210 805h2v1h-2zM225 805h6v1h-6zM870 805h2v1h-2zM212 806h3v1h-3zM223 806h2v1h-2zM231 806h4v1h-4zM868 806h2v1h-2zM215 807h2v1h-2zM220 807h3v1h-3zM863 807h5v1h-5zM161 808h2v1h-2zM217 808h3v1h-3zM858 808h5v1h-5zM157 809h4v1h-4zM153 810h4v1h-4zM151 811h2v1h-2zM148 812h3v1h-3zM265 812h2v1h-2zM146 813h2v1h-2zM263 813h2v1h-2zM267 813h2v1h-2zM913 813h2v1h-2zM144 814h2v1h-2zM260 814h3v1h-3zM909 814h4v1h-4zM915 814h2v1h-2zM1104 814h2v1h-2zM142 815h2v1h-2zM247 815h13v1h-13zM905 815h4v1h-4zM1102 815h2v1h-2zM107 816h2v1h-2zM140 816h2v1h-2zM242 816h5v1h-5zM271 816h2v1h-2zM849 816h2v1h-2zM901 816h4v1h-4zM1100 816h2v1h-2zM1109 816h2v1h-2zM137 817h3v1h-3zM845 817h4v1h-4zM898 817h3v1h-3zM919 817h2v1h-2zM1098 817h2v1h-2zM135 818h2v1h-2zM842 818h3v1h-3zM1096 818h2v1h-2zM111 819h2v1h-2zM121 819h6v1h-6zM132 819h3v1h-3zM922 819h9v1h-9zM117 820h4v1h-4zM127 820h5v1h-5zM1093 820h2v1h-2zM1114 820h9v1h-9zM114 821h3v1h-3zM1026 821h3v1h-3zM1091 821h2v1h-2zM1152 821h2v1h-2zM1029 822h4v1h-4zM1047 822h4v1h-4zM1033 823h14v1h-14zM1088 823h2v1h-2zM1125 823h2v1h-2zM1149 823h2v1h-2zM1147 824h2v1h-2zM1085 825h2v1h-2zM1170 825h10v1h-10zM1083 826h2v1h-2zM1180 826h3v1h-3zM330 827h5v1h-5zM809 827h2v1h-2zM1081 827h2v1h-2zM1183 827h2v1h-2zM335 828h6v1h-6zM805 828h4v1h-4zM811 828h2v1h-2zM1079 828h2v1h-2zM1185 828h2v1h-2zM58 829h5v1h-5zM341 829h4v1h-4zM802 829h3v1h-3zM1076 829h3v1h-3zM1165 829h2v1h-2zM63 830h4v1h-4zM345 830h2v1h-2zM1016 830h2v1h-2zM1071 830h5v1h-5zM29 831h2v1h-2zM815 831h2v1h-2zM1014 831h2v1h-2zM1066 831h5v1h-5zM1189 831h2v1h-2zM1231 831h6v1h-6zM1255 831h4v1h-4zM96 832h2v1h-2zM823 832h6v1h-6zM1012 832h2v1h-2zM1064 832h2v1h-2zM1218 832h13v1h-13zM1237 832h4v1h-4zM1247 832h8v1h-8zM53 833h2v1h-2zM94 833h2v1h-2zM818 833h5v1h-5zM829 833h4v1h-4zM1009 833h3v1h-3zM1062 833h2v1h-2zM1216 833h2v1h-2zM1241 833h6v1h-6zM92 834h2v1h-2zM295 834h4v1h-4zM833 834h2v1h-2zM1005 834h4v1h-4zM1060 834h2v1h-2zM90 835h2v1h-2zM290 835h5v1h-5zM1002 835h3v1h-3zM1058 835h2v1h-2zM1213 835h2v1h-2zM0 836h7v1h-7zM15 836h4v1h-4zM35 836h2v1h-2zM88 836h2v1h-2zM673 836h2v1h-2zM1211 836h2v1h-2zM7 837h8v1h-8zM37 837h2v1h-2zM48 837h2v1h-2zM301 837h2v1h-2zM669 837h4v1h-4zM46 838h2v1h-2zM85 838h2v1h-2zM666 838h3v1h-3zM947 838h2v1h-2zM40 839h2v1h-2zM44 839h2v1h-2zM83 839h2v1h-2zM677 839h2v1h-2zM791 839h2v1h-2zM949 839h2v1h-2zM1357 839h2v1h-2zM42 840h2v1h-2zM79 840h4v1h-4zM74 841h5v1h-5zM355 841h2v1h-2zM952 841h2v1h-2zM282 842h2v1h-2zM357 842h2v1h-2zM787 842h2v1h-2zM954 842h5v1h-5zM978 842h5v1h-5zM785 843h2v1h-2zM959 843h4v1h-4zM983 843h12v1h-12zM360 844h2v1h-2zM418 844h2v1h-2zM594 844h10v1h-10zM781 844h4v1h-4zM416 845h2v1h-2zM420 845h2v1h-2zM433 845h2v1h-2zM604 845h3v1h-3zM778 845h3v1h-3zM321 846h2v1h-2zM422 846h2v1h-2zM431 846h2v1h-2zM607 846h2v1h-2zM319 847h2v1h-2zM413 847h2v1h-2zM424 847h2v1h-2zM428 847h3v1h-3zM579 847h2v1h-2zM609 847h2v1h-2zM1322 847h5v1h-5zM1344 847h2v1h-2zM316 848h3v1h-3zM411 848h2v1h-2zM426 848h2v1h-2zM581 848h2v1h-2zM589 848h2v1h-2zM1320 848h2v1h-2zM1327 848h6v1h-6zM1342 848h2v1h-2zM314 849h2v1h-2zM1318 849h2v1h-2zM1333 849h4v1h-4zM1340 849h2v1h-2zM584 850h2v1h-2zM1316 850h2v1h-2zM1337 850h3v1h-3zM754 851h2v1h-2zM1314 851h2v1h-2zM393 852h2v1h-2zM391 853h2v1h-2zM757 853h2v1h-2zM388 854h3v1h-3zM386 855h2v1h-2zM560 855h2v1h-2zM563 855h2v1h-2zM558 856h2v1h-2zM565 856h2v1h-2zM556 857h2v1h-2zM762 857h2v1h-2zM554 858h2v1h-2zM568 858h2v1h-2zM764 858h3v1h-3zM381 859h2v1h-2zM767 859h2v1h-2zM1277 859h2v1h-2zM769 860h2v1h-2zM377 862h2v1h-2zM730 862h3v1h-3zM1304 862h2v1h-2zM373 863h4v1h-4zM733 863h4v1h-4zM1282 863h5v1h-5zM1302 863h2v1h-2zM370 864h3v1h-3zM737 864h3v1h-3zM1287 864h8v1h-8zM1300 864h2v1h-2zM740 865h3v1h-3zM1295 865h5v1h-5zM743 866h2v1h-2zM745 867h2v1h-2zM458 868h5v1h-5zM539 868h2v1h-2zM463 869h4v1h-4zM541 869h2v1h-2zM627 870h2v1h-2zM642 870h2v1h-2zM544 871h2v1h-2zM629 871h2v1h-2zM640 871h2v1h-2zM644 871h2v1h-2zM638 872h2v1h-2zM646 872h2v1h-2zM632 873h2v1h-2zM636 873h2v1h-2zM648 873h3v1h-3zM634 874h2v1h-2zM721 874h2v1h-2zM706 875h3v1h-3zM719 875h2v1h-2zM709 876h4v1h-4zM716 876h3v1h-3zM713 877h3v1h-3zM482 881h3v1h-3zM528 881h2v1h-2zM485 882h4v1h-4zM526 882h2v1h-2zM479 883h2v1h-2zM489 883h2v1h-2zM524 883h2v1h-2zM521 884h3v1h-3zM517 885h4v1h-4zM474 886h3v1h-3zM493 886h2v1h-2zM513 886h4v1h-4zM511 887h2v1h-2zM508 888h3v1h-3zM503 889h5v1h-5zM498 890h5v1h-5zM19 835h1v1h-1zM20 834h1v1h-1zM21 833h1v1h-1zM22 832h1v1h-1zM23 831h1v1h-1zM24 830h1v1h-1zM25 829h1v1h-1zM26 828h1v1h-1zM27 829h1v1h-1zM28 830h1v1h-1zM31 832h1v1h-1zM32 833h1v1h-1zM33 834h1v1h-1zM34 835h1v1h-1zM39 838h1v1h-1zM50 836h1v1h-1zM51 835h1v1h-1zM52 834h1v1h-1zM55 832h1v1h-1zM56 831h1v1h-1zM57 830h1v1h-1zM67 831h1v2h-1zM68 833h1v1h-1zM69 834h1v1h-1zM70 835h1v2h-1zM71 837h1v1h-1zM72 838h1v1h-1zM73 839h1v2h-1zM87 837h1v1h-1zM98 830h1v2h-1zM99 828h1v2h-1zM100 826h1v2h-1zM101 824h1v2h-1zM102 822h1v2h-1zM103 820h1v2h-1zM104 818h1v2h-1zM105 816h1v2h-1zM106 815h1v1h-1zM109 817h1v1h-1zM110 818h1v1h-1zM113 820h1v1h-1zM163 807h1v1h-1zM164 805h1v2h-1zM165 804h1v1h-1zM166 803h1v1h-1zM167 802h1v1h-1zM168 800h1v2h-1zM169 799h1v1h-1zM235 807h1v1h-1zM236 808h1v2h-1zM237 810h1v1h-1zM238 811h1v1h-1zM239 812h1v1h-1zM240 813h1v2h-1zM241 815h1v1h-1zM269 814h1v1h-1zM270 815h1v1h-1zM273 817h1v1h-1zM274 818h1v2h-1zM275 820h1v3h-1zM276 823h1v3h-1zM277 826h1v3h-1zM278 829h1v4h-1zM279 833h1v3h-1zM280 836h1v3h-1zM281 839h1v3h-1zM282 843h1v1h-1zM284 841h1v1h-1zM285 840h1v1h-1zM286 839h1v1h-1zM287 838h1v1h-1zM288 837h1v1h-1zM289 836h1v1h-1zM299 835h1v1h-1zM300 836h1v1h-1zM303 838h1v1h-1zM304 839h1v1h-1zM305 840h1v1h-1zM306 841h1v1h-1zM307 842h1v1h-1zM308 843h1v1h-1zM309 844h1v1h-1zM310 845h1v1h-1zM311 846h1v1h-1zM312 847h1v1h-1zM313 848h1v1h-1zM322 845h1v1h-1zM323 843h1v2h-1zM324 841h1v2h-1zM325 838h1v3h-1zM326 836h1v2h-1zM327 833h1v3h-1zM328 831h1v2h-1zM329 829h1v2h-1zM330 828h1v1h-1zM347 831h1v1h-1zM348 832h1v2h-1zM349 834h1v1h-1zM350 835h1v1h-1zM351 836h1v1h-1zM352 837h1v2h-1zM353 839h1v1h-1zM354 840h1v1h-1zM359 843h1v1h-1zM362 845h1v2h-1zM363 847h1v2h-1zM364 849h1v2h-1zM365 851h1v3h-1zM366 854h1v2h-1zM367 856h1v3h-1zM368 859h1v2h-1zM369 861h1v2h-1zM370 863h1v1h-1zM379 861h1v1h-1zM380 860h1v1h-1zM383 858h1v1h-1zM384 857h1v1h-1zM385 856h1v1h-1zM394 853h1v1h-1zM395 854h1v2h-1zM396 856h1v2h-1zM397 858h1v2h-1zM398 860h1v3h-1zM399 863h1v2h-1zM400 865h1v2h-1zM401 867h1v2h-1zM402 869h1v2h-1zM403 867h1v2h-1zM404 864h1v3h-1zM405 861h1v3h-1zM406 859h1v2h-1zM407 856h1v3h-1zM408 853h1v3h-1zM409 851h1v2h-1zM410 849h1v2h-1zM415 846h1v1h-1zM435 844h1v1h-1zM436 843h1v1h-1zM437 842h1v1h-1zM438 841h1v1h-1zM439 840h1v1h-1zM440 839h1v1h-1zM441 838h1v1h-1zM442 837h1v1h-1zM443 838h1v2h-1zM444 840h1v2h-1zM445 842h1v2h-1zM446 844h1v2h-1zM447 846h1v2h-1zM448 848h1v2h-1zM449 850h1v2h-1zM450 852h1v2h-1zM451 854h1v2h-1zM452 856h1v2h-1zM453 858h1v2h-1zM454 860h1v2h-1zM455 862h1v2h-1zM456 864h1v2h-1zM457 866h1v2h-1zM466 870h1v1h-1zM467 871h1v2h-1zM468 873h1v2h-1zM469 875h1v2h-1zM470 877h1v3h-1zM471 880h1v2h-1zM472 882h1v2h-1zM473 884h1v2h-1zM474 887h1v1h-1zM477 885h1v1h-1zM478 884h1v1h-1zM481 882h1v1h-1zM491 884h1v1h-1zM492 885h1v1h-1zM495 887h1v1h-1zM496 888h1v1h-1zM497 889h1v1h-1zM530 880h1v1h-1zM531 878h1v2h-1zM532 876h1v2h-1zM533 875h1v1h-1zM534 873h1v2h-1zM535 872h1v1h-1zM536 870h1v2h-1zM537 868h1v2h-1zM538 867h1v1h-1zM543 870h1v1h-1zM546 872h1v1h-1zM547 870h1v2h-1zM548 868h1v2h-1zM549 866h1v2h-1zM550 865h1v1h-1zM551 863h1v2h-1zM552 861h1v2h-1zM553 859h1v2h-1zM562 854h1v1h-1zM567 857h1v1h-1zM570 859h1v1h-1zM571 857h1v2h-1zM572 855h1v2h-1zM573 854h1v1h-1zM574 852h1v2h-1zM575 851h1v1h-1zM576 849h1v2h-1zM577 847h1v2h-1zM578 846h1v1h-1zM583 849h1v1h-1zM586 851h1v1h-1zM587 850h1v1h-1zM588 849h1v1h-1zM591 847h1v1h-1zM592 846h1v1h-1zM593 845h1v1h-1zM611 848h1v1h-1zM612 849h1v1h-1zM613 850h1v1h-1zM614 851h1v1h-1zM615 852h1v1h-1zM616 853h1v1h-1zM617 854h1v1h-1zM618 855h1v1h-1zM619 856h1v2h-1zM620 858h1v2h-1zM621 860h1v2h-1zM622 862h1v1h-1zM623 863h1v2h-1zM624 865h1v2h-1zM625 867h1v2h-1zM626 869h1v1h-1zM631 872h1v1h-1zM650 874h1v1h-1zM651 871h1v2h-1zM652 869h1v2h-1zM653 866h1v3h-1zM654 864h1v2h-1zM655 861h1v3h-1zM656 859h1v2h-1zM657 857h1v2h-1zM658 854h1v3h-1zM659 852h1v2h-1zM660 850h1v2h-1zM661 848h1v2h-1zM662 846h1v2h-1zM663 844h1v2h-1zM664 842h1v2h-1zM665 840h1v2h-1zM666 839h1v1h-1zM675 837h1v1h-1zM676 838h1v1h-1zM679 840h1v1h-1zM680 841h1v1h-1zM681 842h1v1h-1zM682 843h1v1h-1zM683 844h1v1h-1zM684 845h1v1h-1zM685 846h1v1h-1zM686 847h1v2h-1zM687 849h1v1h-1zM688 850h1v1h-1zM689 851h1v1h-1zM690 852h1v1h-1zM691 853h1v2h-1zM692 855h1v2h-1zM693 857h1v2h-1zM694 859h1v1h-1zM695 860h1v2h-1zM696 862h1v2h-1zM697 864h1v2h-1zM698 866h1v1h-1zM699 867h1v1h-1zM700 868h1v1h-1zM701 869h1v1h-1zM702 870h1v2h-1zM703 872h1v1h-1zM704 873h1v1h-1zM705 874h1v1h-1zM723 872h1v2h-1zM724 871h1v1h-1zM725 869h1v2h-1zM726 868h1v1h-1zM727 866h1v2h-1zM728 865h1v1h-1zM729 863h1v2h-1zM746 866h1v1h-1zM747 864h1v2h-1zM748 862h1v2h-1zM749 860h1v2h-1zM750 858h1v2h-1zM751 856h1v2h-1zM752 854h1v2h-1zM753 852h1v2h-1zM754 850h1v1h-1zM756 852h1v1h-1zM759 854h1v1h-1zM760 855h1v1h-1zM761 856h1v1h-1zM771 858h1v2h-1zM772 856h1v2h-1zM773 854h1v2h-1zM774 852h1v2h-1zM775 850h1v2h-1zM776 848h1v2h-1zM777 846h1v2h-1zM789 841h1v1h-1zM790 840h1v1h-1zM793 838h1v1h-1zM794 837h1v1h-1zM795 836h1v1h-1zM796 835h1v1h-1zM797 834h1v1h-1zM798 833h1v1h-1zM799 832h1v1h-1zM800 831h1v1h-1zM801 830h1v1h-1zM813 829h1v1h-1zM814 830h1v1h-1zM817 832h1v1h-1zM834 833h1v1h-1zM835 831h1v2h-1zM836 829h1v2h-1zM837 827h1v2h-1zM838 825h1v2h-1zM839 823h1v2h-1zM840 821h1v2h-1zM841 819h1v2h-1zM851 815h1v1h-1zM852 814h1v1h-1zM853 813h1v1h-1zM854 812h1v1h-1zM855 811h1v1h-1zM856 810h1v1h-1zM857 809h1v1h-1zM887 803h1v1h-1zM890 805h1v1h-1zM891 806h1v2h-1zM892 808h1v1h-1zM893 809h1v2h-1zM894 811h1v1h-1zM895 812h1v2h-1zM896 814h1v1h-1zM897 815h1v2h-1zM917 815h1v1h-1zM918 816h1v1h-1zM921 818h1v1h-1zM931 820h1v1h-1zM932 821h1v1h-1zM933 822h1v1h-1zM934 823h1v2h-1zM935 825h1v1h-1zM936 826h1v1h-1zM937 827h1v1h-1zM938 828h1v1h-1zM939 829h1v1h-1zM940 830h1v1h-1zM941 831h1v1h-1zM942 832h1v2h-1zM943 834h1v1h-1zM944 835h1v1h-1zM945 836h1v1h-1zM946 837h1v1h-1zM951 840h1v1h-1zM963 844h1v2h-1zM964 846h1v1h-1zM965 847h1v1h-1zM966 848h1v2h-1zM967 850h1v1h-1zM968 851h1v1h-1zM969 852h1v2h-1zM970 854h1v1h-1zM971 852h1v2h-1zM972 851h1v1h-1zM973 849h1v2h-1zM974 848h1v1h-1zM975 846h1v2h-1zM976 845h1v1h-1zM977 843h1v2h-1zM995 842h1v1h-1zM996 841h1v1h-1zM997 840h1v1h-1zM998 839h1v1h-1zM999 838h1v1h-1zM1000 837h1v1h-1zM1001 836h1v1h-1zM1018 829h1v1h-1zM1019 828h1v1h-1zM1020 827h1v1h-1zM1021 826h1v1h-1zM1022 825h1v1h-1zM1023 824h1v1h-1zM1024 823h1v1h-1zM1025 822h1v1h-1zM1051 823h1v2h-1zM1052 825h1v2h-1zM1053 827h1v1h-1zM1054 828h1v2h-1zM1055 830h1v1h-1zM1056 831h1v2h-1zM1057 833h1v2h-1zM1087 824h1v1h-1zM1090 822h1v1h-1zM1095 819h1v1h-1zM1106 813h1v1h-1zM1107 814h1v1h-1zM1108 815h1v1h-1zM1111 817h1v1h-1zM1112 818h1v1h-1zM1113 819h1v1h-1zM1123 821h1v1h-1zM1124 822h1v1h-1zM1127 824h1v1h-1zM1128 825h1v1h-1zM1129 826h1v1h-1zM1130 827h1v1h-1zM1131 828h1v1h-1zM1132 829h1v2h-1zM1133 831h1v1h-1zM1134 832h1v1h-1zM1135 833h1v1h-1zM1136 834h1v2h-1zM1137 836h1v1h-1zM1138 837h1v1h-1zM1139 835h1v2h-1zM1140 834h1v1h-1zM1141 832h1v2h-1zM1142 831h1v1h-1zM1143 829h1v2h-1zM1144 828h1v1h-1zM1145 826h1v2h-1zM1146 825h1v1h-1zM1151 822h1v1h-1zM1154 820h1v1h-1zM1155 821h1v2h-1zM1156 823h1v1h-1zM1157 824h1v2h-1zM1158 826h1v1h-1zM1159 827h1v2h-1zM1160 829h1v1h-1zM1161 830h1v2h-1zM1162 832h1v1h-1zM1163 831h1v1h-1zM1164 830h1v1h-1zM1167 828h1v1h-1zM1168 827h1v1h-1zM1169 826h1v1h-1zM1187 829h1v1h-1zM1188 830h1v1h-1zM1191 832h1v1h-1zM1192 833h1v1h-1zM1193 834h1v1h-1zM1194 835h1v1h-1zM1195 836h1v1h-1zM1196 837h1v2h-1zM1197 839h1v1h-1zM1198 840h1v1h-1zM1199 841h1v1h-1zM1200 842h1v2h-1zM1201 844h1v1h-1zM1202 845h1v1h-1zM1203 844h1v1h-1zM1204 843h1v1h-1zM1205 842h1v1h-1zM1206 841h1v1h-1zM1207 840h1v1h-1zM1208 839h1v1h-1zM1209 838h1v1h-1zM1210 837h1v1h-1zM1215 834h1v1h-1zM1258 832h1v1h-1zM1259 833h1v2h-1zM1260 835h1v2h-1zM1261 837h1v2h-1zM1262 839h1v2h-1zM1263 841h1v2h-1zM1264 843h1v2h-1zM1265 845h1v2h-1zM1266 847h1v2h-1zM1267 849h1v1h-1zM1268 850h1v1h-1zM1269 851h1v1h-1zM1270 852h1v1h-1zM1271 853h1v1h-1zM1272 854h1v1h-1zM1273 855h1v1h-1zM1274 856h1v1h-1zM1275 857h1v1h-1zM1276 858h1v1h-1zM1279 860h1v1h-1zM1280 861h1v1h-1zM1281 862h1v1h-1zM1306 861h1v1h-1zM1307 860h1v1h-1zM1308 858h1v2h-1zM1309 857h1v1h-1zM1310 856h1v1h-1zM1311 855h1v1h-1zM1312 853h1v2h-1zM1313 852h1v1h-1zM1346 846h1v1h-1zM1347 845h1v1h-1zM1348 843h1v2h-1zM1349 842h1v1h-1zM1350 841h1v1h-1zM1351 840h1v1h-1zM1352 838h1v2h-1zM1353 837h1v1h-1zM1354 836h1v1h-1zM1355 837h1v1h-1zM1356 838h1v1h-1zM1359 840h1v1h-1zM1360 841h1v1h-1zM1361 842h1v1h-1zM1362 843h1v1h-1z" fill="#1e90ff"/>
<text x="-3" y="770" font-size="10" fill="#000" font-weight="normal" text-anchor="start" textLength="69" lengthAdjust="spacingAndGlyphs"  stroke="#000" stroke-width="0.22">RSI(14) 50.6502</text>
<rect x="1614" y="758" width="1" height="1" fill="#000" />
<text x="1617.5" y="768" font-size="10" fill="#000" font-weight="normal" text-anchor="start" textLength="14.5" lengthAdjust="spacingAndGlyphs"  stroke="#000" stroke-width="0.22">100</text>
<text x="1616.5" y="797" font-size="10" fill="#000" font-weight="normal" text-anchor="start" textLength="10" lengthAdjust="spacingAndGlyphs"  stroke="#000" stroke-width="0.22">80</text>
<text x="1616.5" y="848" font-size="10" fill="#000" font-weight="normal" text-anchor="start" textLength="10" lengthAdjust="spacingAndGlyphs"  stroke="#000" stroke-width="0.22">50</text>
<text x="1616.5" y="908.5" font-size="10" fill="#000" font-weight="normal" text-anchor="start" textLength="10" lengthAdjust="spacingAndGlyphs"  stroke="#000" stroke-width="0.22">15</text>
<text x="1616.5" y="928" font-size="10" fill="#000" font-weight="normal" text-anchor="start" textLength="5" lengthAdjust="spacingAndGlyphs"  stroke="#000" stroke-width="0.22">0</text>
<rect x="1614" y="930" width="1" height="1" fill="#000" />
<text x="-6" y="943.5" font-size="10" fill="#000" font-weight="normal" text-anchor="start" textLength="49" lengthAdjust="spacingAndGlyphs"  stroke="#000" stroke-width="0.22">13 Jan 2020</text>
<rect x="58" y="932" width="1" height="3" fill="#000" />
<text x="57" y="943.5" font-size="10" fill="#000" font-weight="normal" text-anchor="start" textLength="53" lengthAdjust="spacingAndGlyphs"  stroke="#000" stroke-width="0.22">14 Jan 12:00</text>
<rect x="122" y="932" width="1" height="3" fill="#000" />
<text x="121" y="943.5" font-size="10" fill="#000" font-weight="normal" text-anchor="start" textLength="53" lengthAdjust="spacingAndGlyphs"  stroke="#000" stroke-width="0.22">15 Jan 20:00</text>
<rect x="186" y="932" width="1" height="3" fill="#000" />
<text x="185" y="943.5" font-size="10" fill="#000" font-weight="normal" text-anchor="start" textLength="53" lengthAdjust="spacingAndGlyphs"  stroke="#000" stroke-width="0.22">17 Jan 04:00</text>
<rect x="250" y="932" width="1" height="3" fill="#000" />
<text x="249" y="943.5" font-size="10" fill="#000" font-weight="normal" text-anchor="start" textLength="53" lengthAdjust="spacingAndGlyphs"  stroke="#000" stroke-width="0.22">20 Jan 08:00</text>
<rect x="314" y="932" width="1" height="3" fill="#000" />
<text x="313" y="943.5" font-size="10" fill="#000" font-weight="normal" text-anchor="start" textLength="53" lengthAdjust="spacingAndGlyphs"  stroke="#000" stroke-width="0.22">21 Jan 16:00</text>
<rect x="378" y="932" width="1" height="3" fill="#000" />
<text x="377" y="943.5" font-size="10" fill="#000" font-weight="normal" text-anchor="start" textLength="53" lengthAdjust="spacingAndGlyphs"  stroke="#000" stroke-width="0.22">23 Jan 00:00</text>
<rect x="442" y="932" width="1" height="3" fill="#000" />
<text x="441" y="943.5" font-size="10" fill="#000" font-weight="normal" text-anchor="start" textLength="53" lengthAdjust="spacingAndGlyphs"  stroke="#000" stroke-width="0.22">24 Jan 08:00</text>
<rect x="506" y="932" width="1" height="3" fill="#000" />
<text x="505" y="943.5" font-size="10" fill="#000" font-weight="normal" text-anchor="start" textLength="53" lengthAdjust="spacingAndGlyphs"  stroke="#000" stroke-width="0.22">27 Jan 12:00</text>
<rect x="570" y="932" width="1" height="3" fill="#000" />
<text x="569" y="943.5" font-size="10" fill="#000" font-weight="normal" text-anchor="start" textLength="53" lengthAdjust="spacingAndGlyphs"  stroke="#000" stroke-width="0.22">28 Jan 20:00</text>
<rect x="634" y="932" width="1" height="3" fill="#000" />
<text x="633" y="943.5" font-size="10" fill="#000" font-weight="normal" text-anchor="start" textLength="53" lengthAdjust="spacingAndGlyphs"  stroke="#000" stroke-width="0.22">30 Jan 04:00</text>
<rect x="698" y="932" width="1" height="3" fill="#000" />
<text x="697" y="943.5" font-size="10" fill="#000" font-weight="normal" text-anchor="start" textLength="53" lengthAdjust="spacingAndGlyphs"  stroke="#000" stroke-width="0.22">31 Jan 12:00</text>
<rect x="762" y="932" width="1" height="3" fill="#000" />
<text x="761" y="943.5" font-size="10" fill="#000" font-weight="normal" text-anchor="start" textLength="49.5" lengthAdjust="spacingAndGlyphs"  stroke="#000" stroke-width="0.22">3 Feb 16:00</text>
<rect x="826" y="932" width="1" height="3" fill="#000" />
<text x="825" y="943.5" font-size="10" fill="#000" font-weight="normal" text-anchor="start" textLength="49.5" lengthAdjust="spacingAndGlyphs"  stroke="#000" stroke-width="0.22">5 Feb 00:00</text>
<rect x="890" y="932" width="1" height="3" fill="#000" />
<text x="889" y="943.5" font-size="10" fill="#000" font-weight="normal" text-anchor="start" textLength="49.5" lengthAdjust="spacingAndGlyphs"  stroke="#000" stroke-width="0.22">6 Feb 08:00</text>
<rect x="954" y="932" width="1" height="3" fill="#000" />
<text x="953" y="943.5" font-size="10" fill="#000" font-weight="normal" text-anchor="start" textLength="49.5" lengthAdjust="spacingAndGlyphs"  stroke="#000" stroke-width="0.22">7 Feb 16:00</text>
<rect x="1018" y="932" width="1" height="3" fill="#000" />
<text x="1017" y="943.5" font-size="10" fill="#000" font-weight="normal" text-anchor="start" textLength="55" lengthAdjust="spacingAndGlyphs"  stroke="#000" stroke-width="0.22">10 Feb 20:00</text>
<rect x="1082" y="932" width="1" height="3" fill="#000" />
<text x="1081" y="943.5" font-size="10" fill="#000" font-weight="normal" text-anchor="start" textLength="55" lengthAdjust="spacingAndGlyphs"  stroke="#000" stroke-width="0.22">12 Feb 04:00</text>
<rect x="1146" y="932" width="1" height="3" fill="#000" />
<text x="1145" y="943.5" font-size="10" fill="#000" font-weight="normal" text-anchor="start" textLength="55" lengthAdjust="spacingAndGlyphs"  stroke="#000" stroke-width="0.22">13 Feb 12:00</text>
<rect x="1210" y="932" width="1" height="3" fill="#000" />
<text x="1209" y="943.5" font-size="10" fill="#000" font-weight="normal" text-anchor="start" textLength="55" lengthAdjust="spacingAndGlyphs"  stroke="#000" stroke-width="0.22">14 Feb 20:00</text>
<rect x="1274" y="932" width="1" height="3" fill="#000" />
<text x="1273" y="943.5" font-size="10" fill="#000" font-weight="normal" text-anchor="start" textLength="55" lengthAdjust="spacingAndGlyphs"  stroke="#000" stroke-width="0.22">18 Feb 00:00</text>
<rect x="1338" y="932" width="1" height="3" fill="#000" />
<text x="1337" y="943.5" font-size="10" fill="#000" font-weight="normal" text-anchor="start" textLength="55" lengthAdjust="spacingAndGlyphs"  stroke="#000" stroke-width="0.22">19 Feb 08:00</text>
<defs><linearGradient id="pbtn" x1="0" y1="0" x2="0" y2="1"><stop offset="0" stop-color="#5858f8"/><stop offset="1" stop-color="#3030d8"/></linearGradient><linearGradient id="plow" x1="0" y1="0" x2="0" y2="1"><stop offset="0" stop-color="#3838e0"/><stop offset="0.55" stop-color="#0c0cc0"/><stop offset="1" stop-color="#0000a8"/></linearGradient><linearGradient id="spin" x1="0" y1="0" x2="0" y2="1"><stop offset="0" stop-color="#f2f2f2"/><stop offset="1" stop-color="#d0d0d0"/></linearGradient></defs>
<rect x="0" y="31" width="218" height="84" fill="#fff" />
<path d="M0 36 L4.5 40.5 L0 40.5 Z" fill="#000" shape-rendering="auto"/>
<text x="9.5" y="42" font-size="9.3" fill="#000" font-weight="normal" text-anchor="start" textLength="185.5" lengthAdjust="spacingAndGlyphs"  stroke="#000" stroke-width="0.22">DJ30-,H4  29373.0 29377.0 29322.0 29330.0</text>
<rect x="0" y="50" width="216" height="64" fill="#fff" />
<rect x="0" y="50" width="49" height="25" fill="url(#pbtn)" />
<rect x="165" y="50" width="51" height="25" fill="url(#pbtn)" />
<rect x="0" y="74" width="106" height="40" fill="url(#plow)" />
<rect x="108" y="74" width="108" height="40" fill="url(#plow)" />
<rect x="49" y="72" width="116" height="2" fill="#fff" />
<rect x="0" y="50" width="49" height="1" fill="#1010c0" />
<rect x="48" y="50" width="1" height="24" fill="#1010c0" />
<rect x="165" y="50" width="51" height="1" fill="#1010c0" />
<rect x="165" y="50" width="1" height="24" fill="#1010c0" />
<rect x="215" y="50" width="1" height="64" fill="#1010c0" />
<rect x="1" y="73" width="44" height="1" fill="#1818b8" />
<rect x="168" y="73" width="44" height="1" fill="#1818b8" />
<rect x="1" y="74" width="44" height="1" fill="#8c8cf4" />
<rect x="168" y="74" width="44" height="1" fill="#8c8cf4" />
<rect x="51.5" y="50.5" width="110" height="21" fill="#fff" stroke="#b0b0b0" stroke-width="1"/>
<rect x="52" y="51" width="20" height="20" fill="url(#spin)" />
<rect x="72" y="51" width="1" height="20" fill="#b0b0b0" />
<rect x="141" y="51" width="20" height="20" fill="url(#spin)" />
<rect x="140" y="51" width="1" height="20" fill="#b0b0b0" />
<path d="M59 59 L64.5 59 L61.7 62 Z M148 62 L153.5 62 L150.7 59 Z" fill="#5060c0" shape-rendering="auto"/>
<text x="113.5" y="65.5" font-size="12" fill="#000" font-weight="normal" text-anchor="start" textLength="23" lengthAdjust="spacingAndGlyphs"  stroke="#000" stroke-width="0.22">1.00</text>
<text x="9.5" y="65.7" font-size="12" fill="#fff" font-weight="normal" text-anchor="start" textLength="25.5" lengthAdjust="spacingAndGlyphs" >SELL</text>
<text x="177.5" y="65.7" font-size="12" fill="#fff" font-weight="normal" text-anchor="start" textLength="23" lengthAdjust="spacingAndGlyphs" >BUY</text>
<text x="13" y="104.8" font-size="12.2" fill="#fff" font-weight="bold" text-anchor="start" textLength="35" lengthAdjust="spacingAndGlyphs" >29328</text>
<text x="123.3" y="104.8" font-size="12.2" fill="#fff" font-weight="bold" text-anchor="start" textLength="35" lengthAdjust="spacingAndGlyphs" >29336</text>
<rect x="52.4" y="101.2" width="4.2" height="4" fill="#fff" rx="1.2" shape-rendering="auto"/>
<rect x="163.4" y="101.2" width="4.2" height="4" fill="#fff" rx="1.2" shape-rendering="auto"/>
<text x="59.6" y="105.3" font-size="34" fill="#fff" font-weight="normal" text-anchor="start" textLength="16" lengthAdjust="spacingAndGlyphs" >5</text>
<text x="170.3" y="105.3" font-size="34" fill="#fff" font-weight="normal" text-anchor="start" textLength="16" lengthAdjust="spacingAndGlyphs" >5</text>
</svg></body></html>
